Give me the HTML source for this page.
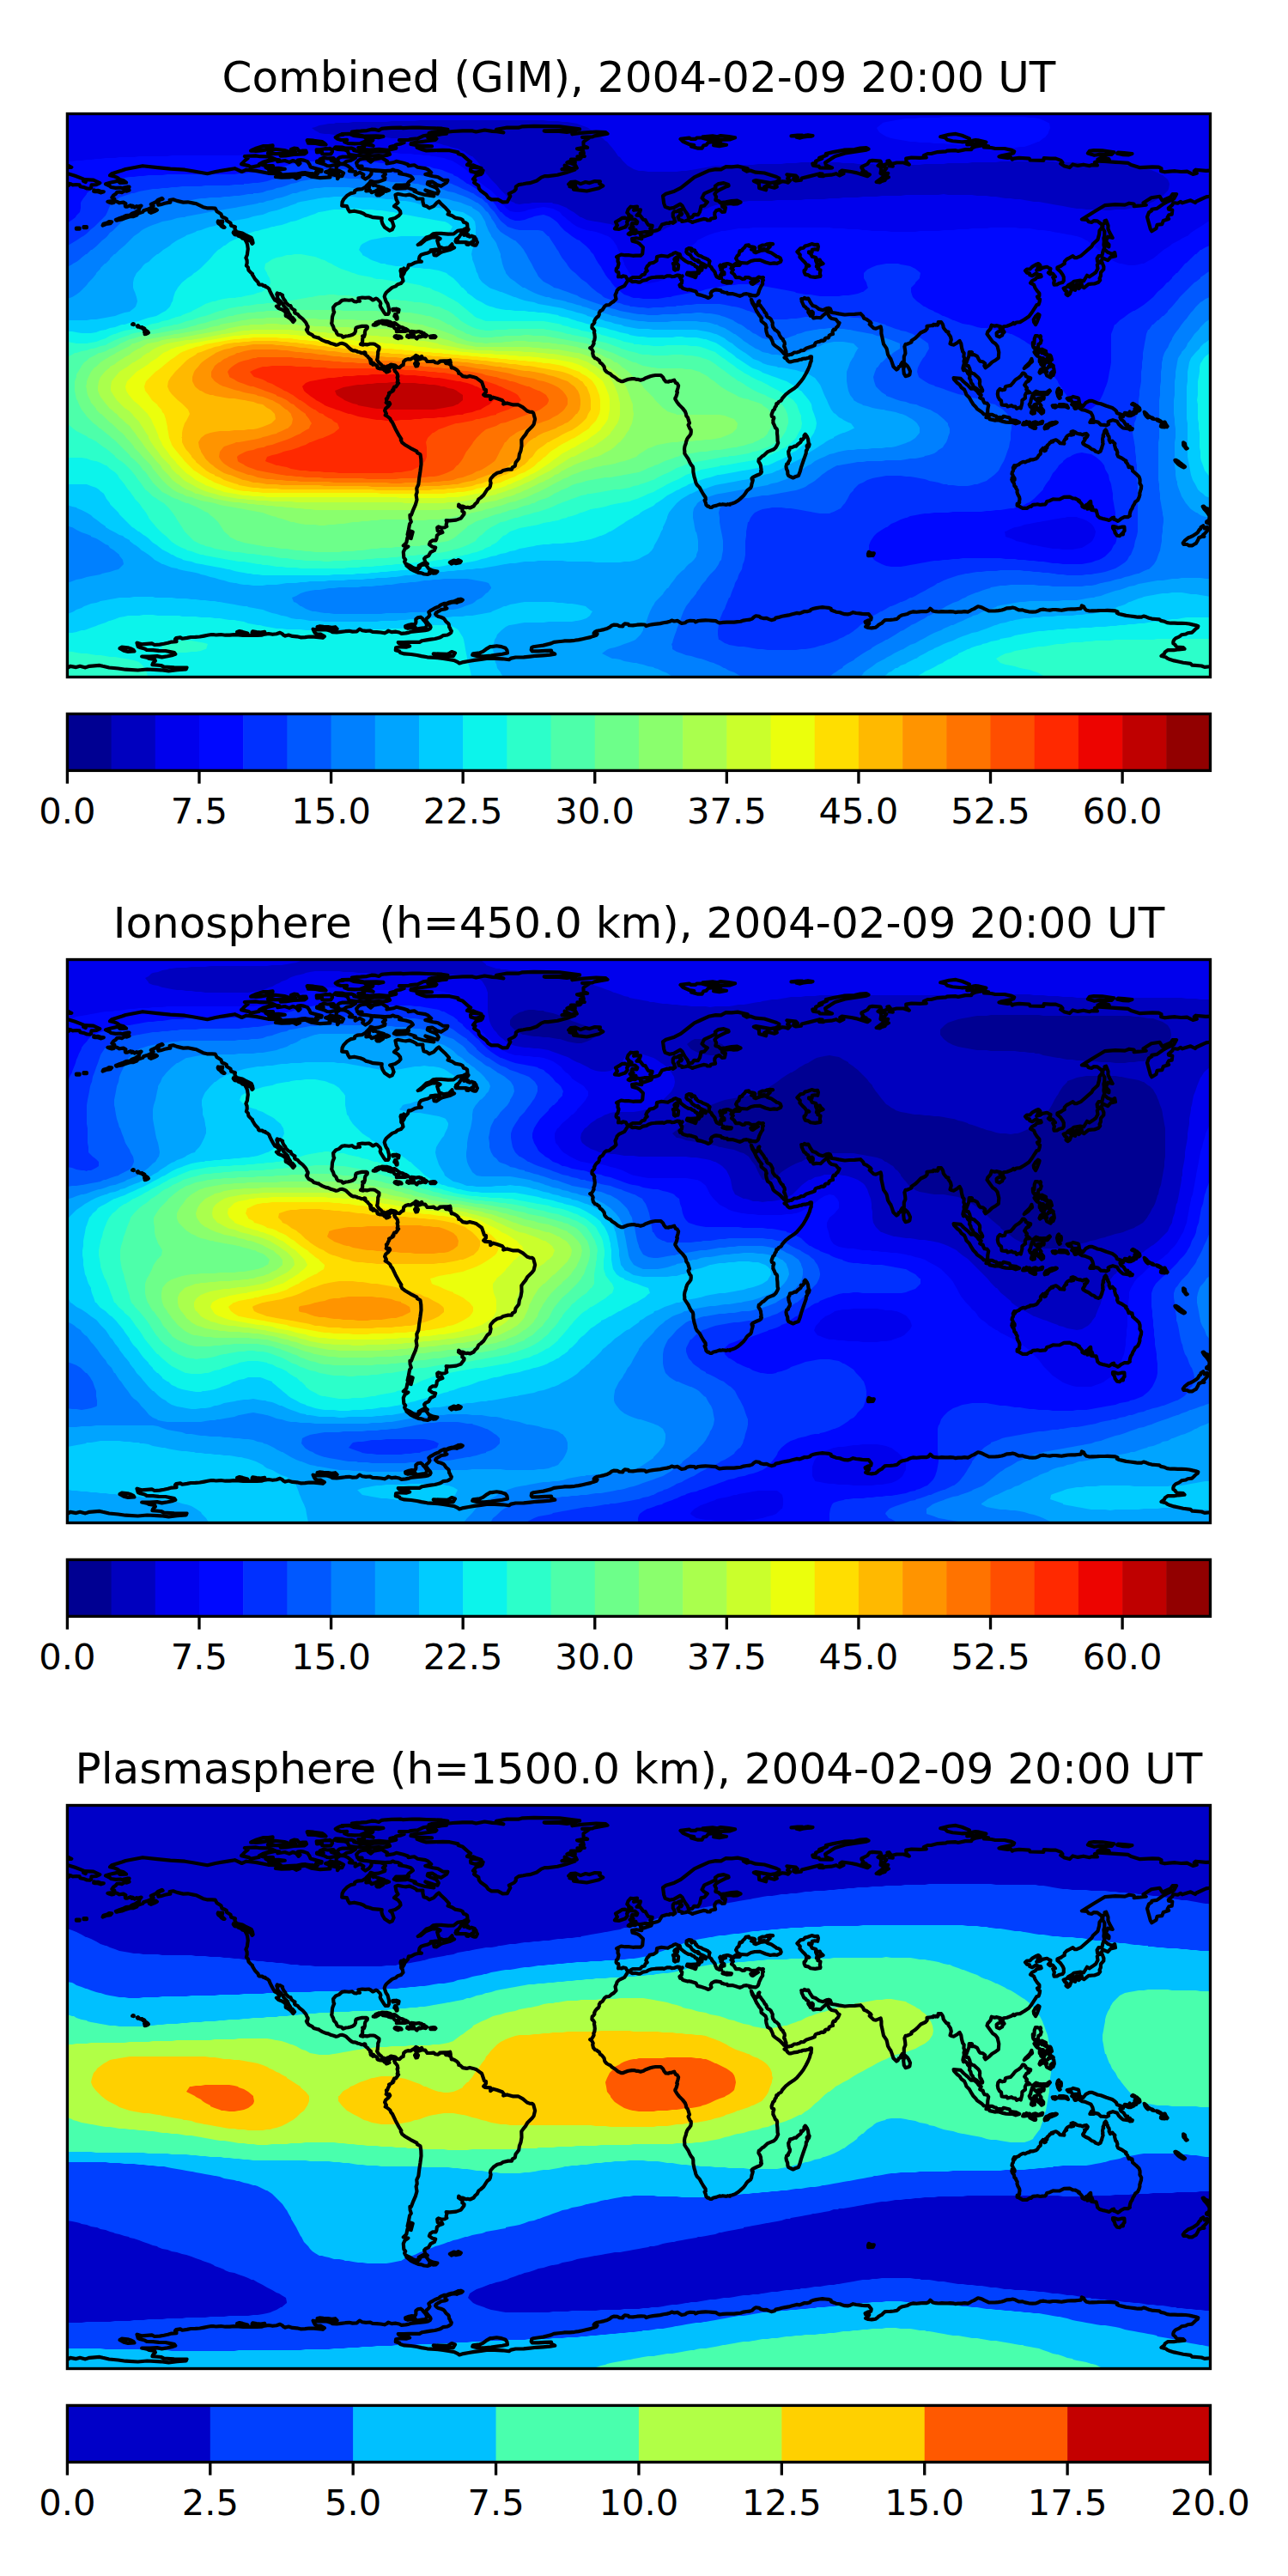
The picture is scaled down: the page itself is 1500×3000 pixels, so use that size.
<!DOCTYPE html>
<html lang="en"><head><meta charset="utf-8"><title>GIM maps</title>
<style>html,body{margin:0;padding:0;background:#fff}svg{display:block}text{font-family:'DejaVu Sans','Liberation Sans',sans-serif;fill:#000}</style></head>
<body>
<svg width="1500" height="3000" viewBox="0 0 1500 3000">
<rect width="1500" height="3000" fill="#fff"/>
<defs><clipPath id="cp0"><rect x="78.4" y="132.5" width="1331.10" height="656.00"/></clipPath>
<path id="coast" d="M130.1,202.2 142.1,198.5 146.3,197.0 166.1,193.2 183.4,195.1 198.4,196.6 215.3,197.7 224.6,199.2 241.5,202.2 250.9,200.0 266.6,197.4 273.4,196.2 281.6,200.0 286.9,197.7 297.8,198.9 312.4,201.8 321.4,202.2 326.2,204.1 321.0,206.0 327.7,206.7 337.9,206.3 341.2,205.6 345.0,207.8 349.1,206.0 345.4,204.5 355.1,202.6 362.2,205.6 372.7,207.1 384.4,206.3 383.6,204.1 387.0,203.3 393.0,204.8 393.0,208.2 395.2,205.2 398.2,205.2 400.1,201.5 396.0,199.2 391.5,197.7 391.9,193.6 396.4,191.0 401.2,191.4 405.0,193.2 410.2,197.4 406.9,199.2 414.0,200.0 413.6,203.7 418.9,200.7 423.4,203.3 422.2,206.0 425.6,208.6 429.7,206.0 432.4,202.6 432.7,198.5 438.0,198.9 443.6,199.2 448.5,201.1 448.9,203.0 445.9,205.2 448.5,207.1 448.1,209.0 441.0,211.6 435.7,212.0 431.6,210.8 430.5,212.7 427.1,216.1 426.0,217.6 421.5,220.2 416.2,220.6 413.2,222.1 412.9,224.3 408.7,225.1 403.9,228.1 400.1,232.2 398.6,235.2 398.2,239.7 403.9,240.1 405.4,243.8 407.2,246.5 412.5,245.7 419.6,247.2 423.4,248.7 426.0,250.6 430.5,251.7 434.6,253.2 440.6,253.6 444.7,254.0 444.4,257.0 445.5,260.7 448.1,264.8 453.7,268.6 456.7,267.4 458.6,263.3 456.7,257.7 454.1,255.5 460.1,254.0 464.2,251.3 466.5,248.7 466.1,246.1 463.5,242.7 459.0,240.1 463.5,236.0 461.6,232.6 460.5,227.0 463.1,225.8 469.5,227.0 473.2,227.3 476.6,226.6 480.0,227.7 484.5,230.0 485.6,231.5 492.4,231.5 492.4,234.8 493.5,239.3 496.9,240.1 499.9,242.3 505.1,240.1 508.9,236.0 511.1,234.5 514.1,237.8 519.0,242.3 523.1,246.8 521.6,249.5 526.5,251.3 529.9,253.6 535.9,254.7 538.5,255.8 540.0,258.8 542.6,259.6 544.1,260.7 544.5,265.2 541.9,266.3 539.2,267.8 532.9,268.9 528.4,272.3 522.0,272.7 513.7,271.9 508.1,271.9 504.4,272.3 501.4,274.9 496.5,276.4 491.2,281.7 486.7,285.1 489.7,284.3 495.7,279.4 503.6,276.4 509.2,276.1 512.6,277.9 509.2,280.2 510.4,284.3 511.5,287.3 516.4,289.2 522.7,288.4 526.5,284.3 526.9,286.9 529.1,288.4 524.6,290.7 516.0,292.9 512.6,294.4 508.1,297.4 505.5,297.1 505.1,293.7 511.9,290.7 505.9,290.7 501.7,291.4 502.1,292.6 498.4,294.4 494.2,295.6 490.5,296.7 488.6,298.9 487.9,301.9 489.0,303.8 490.9,304.6 486.7,304.9 483.7,305.7 478.5,308.3 475.9,308.3 475.1,311.7 472.5,314.7 470.2,312.4 471.7,315.1 470.6,318.1 468.7,321.1 469.5,318.4 467.6,316.9 467.0,313.7 466.5,315.4 467.2,318.4 467.2,321.8 468.7,323.5 469.5,327.2 466.9,330.1 463.1,331.2 460.7,333.4 456.7,334.9 452.2,338.7 450.0,340.5 448.5,342.8 447.7,345.4 448.5,348.0 449.6,351.0 451.5,353.7 453.0,359.7 453.0,363.8 451.9,366.0 448.9,366.0 447.0,363.4 443.2,357.4 442.7,355.9 443.4,353.5 442.5,351.4 439.5,348.4 438.0,347.7 434.2,349.5 431.6,347.5 429.4,346.5 425.2,346.9 421.9,346.5 417.4,347.3 418.1,349.9 418.9,350.7 416.6,350.7 415.1,351.4 412.5,351.2 409.9,349.2 406.5,349.7 401.6,349.2 398.2,349.9 394.9,352.9 391.1,354.4 388.1,357.8 388.5,362.3 389.2,363.4 387.7,366.8 387.0,369.4 386.6,374.7 386.2,376.5 387.0,378.4 388.1,380.3 388.9,383.3 391.5,385.9 392.2,388.2 393.7,390.0 397.9,390.8 399.4,392.7 402.7,391.5 405.4,391.2 408.4,390.4 410.6,389.7 412.9,388.2 414.0,385.9 414.2,382.9 414.7,381.8 417.4,380.7 421.5,379.9 426.9,379.9 427.9,380.7 427.7,382.3 425.6,384.4 424.9,387.0 424.9,389.3 424.1,391.9 423.0,391.2 422.2,391.5 423.0,392.7 422.2,394.5 422.2,396.4 422.1,398.7 420.0,400.9 423.0,401.6 423.7,400.9 427.5,401.4 430.9,400.5 434.6,400.5 436.9,401.1 439.2,402.7 441.5,404.3 441.4,406.9 440.2,409.6 440.2,412.3 439.9,414.4 439.7,416.9 439.1,418.9 440.6,421.5 442.1,423.0 444.0,424.6 445.1,426.8 447.0,426.7 448.1,427.6 449.8,427.3 451.5,426.4 453.7,425.6 455.0,424.5 457.1,424.9 459.0,425.2 460.6,425.8 463.3,428.0 465.4,428.1 468.0,425.6 469.6,425.1 470.2,420.8 472.5,419.0 475.1,418.1 478.1,418.5 481.1,416.6 482.6,415.7 484.3,413.9 486.7,415.1 485.8,417.2 483.5,417.8 484.9,419.4 484.7,421.3 483.1,423.5 484.5,426.5 486.1,426.2 487.0,423.5 485.8,422.3 485.6,419.4 490.3,417.8 489.7,416.1 491.1,414.9 492.4,417.5 495.1,417.6 497.6,421.0 501.0,421.0 505.1,420.6 507.1,422.3 510.0,422.7 512.2,421.5 512.2,420.6 516.8,420.4 521.3,420.4 518.1,421.4 519.4,423.2 522.4,423.5 525.2,425.3 525.8,428.3 527.8,428.3 529.3,429.1 531.7,430.5 534.1,433.0 534.2,434.9 535.6,435.0 537.6,436.8 539.0,438.1 543.5,438.9 547.0,437.9 551.0,438.9 555.0,440.3 559.1,443.4 561.0,444.8 561.8,446.8 564.0,453.4 566.0,454.0 566.0,456.6 563.2,459.7 564.4,460.8 571.1,461.4 571.2,465.2 574.1,462.7 578.7,464.0 585.0,466.3 586.8,468.5 586.2,470.6 590.6,469.4 597.8,471.4 603.4,471.3 609.0,474.4 613.8,478.5 616.7,479.6 619.8,479.8 621.2,481.0 622.5,485.8 623.1,488.0 621.6,494.2 619.7,496.7 614.4,501.9 612.0,506.1 609.3,509.4 607.3,512.2 607.5,519.2 606.5,525.0 604.9,529.0 604.2,534.0 600.5,538.8 599.8,542.7 596.8,544.4 595.9,546.6 591.8,546.6 585.9,548.0 583.3,549.7 579.1,550.8 574.7,553.8 571.5,557.5 570.9,560.2 571.6,562.4 570.9,566.2 570.0,568.0 567.4,570.0 563.2,576.6 559.9,579.6 557.4,581.4 555.7,585.0 553.2,587.1 551.6,589.5 547.3,591.5 544.6,590.8 542.6,591.2 539.1,589.6 536.6,589.7 534.2,587.6 534.0,589.6 538.7,592.8 538.3,595.4 540.6,597.0 540.4,598.8 536.8,603.6 531.2,605.6 523.7,606.4 519.6,606.1 520.4,608.2 519.6,611.1 520.3,613.0 518.0,614.3 514.2,614.8 510.6,613.4 509.2,614.4 509.7,618.2 512.2,619.3 514.3,618.1 515.4,620.0 511.9,621.2 508.9,623.6 508.4,627.3 507.5,629.3 504.0,629.3 501.0,631.3 499.9,634.1 503.6,636.8 507.2,637.6 505.9,640.9 501.5,643.1 499.0,647.4 495.6,648.9 494.1,650.7 495.3,654.6 497.8,656.7 492.7,656.0 487.7,658.8 487.1,662.3 485.5,662.4 481.3,661.2 477.0,658.6 472.3,656.4 471.1,654.0 472.2,651.8 470.3,649.4 469.8,642.9 471.4,639.3 475.4,636.5 469.7,635.4 473.3,632.0 474.5,625.8 478.7,627.1 480.7,619.4 478.1,618.4 477.0,623.1 474.6,622.5 475.8,617.2 477.1,610.2 478.8,607.7 477.7,604.0 477.4,599.8 479.0,599.7 481.3,593.6 483.9,587.6 485.5,582.0 484.6,576.4 485.7,573.3 485.3,568.7 487.4,564.1 488.2,556.9 489.4,549.1 490.5,540.7 490.3,534.6 489.5,529.3 485.7,527.1 485.4,525.6 478.0,521.8 471.2,517.7 468.3,515.4 466.8,512.3 467.4,511.3 464.2,506.3 460.5,499.4 457.0,492.0 455.4,490.2 454.3,487.5 451.3,485.0 448.7,483.5 449.9,481.8 448.1,478.3 449.2,475.6 452.2,473.2 454.2,470.5 453.4,468.8 452.0,470.6 449.7,468.9 450.5,467.9 449.9,464.5 451.2,463.9 451.9,461.6 453.3,459.2 453.0,457.6 455.1,456.8 457.6,455.3 457.1,454.2 458.5,453.9 458.4,452.0 459.2,450.6 461.1,450.4 462.7,448.0 464.1,446.1 462.7,445.2 463.4,443.0 462.6,439.6 463.4,438.6 462.8,435.4 461.3,433.4 460.1,432.4 459.2,430.3 460.2,429.3 459.2,429.1 458.5,427.8 456.7,426.8 455.0,427.0 454.3,428.3 452.8,429.3 451.6,430.2 453.4,432.2 452.3,432.7 450.0,433.4 449.4,431.2 447.7,431.6 446.9,430.1 445.4,429.8 444.4,429.4 442.8,429.4 440.2,428.8 439.4,428.0 439.7,426.6 438.7,425.7 437.2,424.9 435.9,424.4 435.7,423.4 434.7,422.7 434.9,423.8 434.2,424.7 433.3,423.7 432.1,423.3 431.6,422.5 431.6,421.4 432.1,420.2 431.1,419.6 431.9,418.9 430.6,417.8 428.9,416.2 428.1,415.0 426.5,413.8 424.6,412.1 425.7,412.1 425.3,410.6 424.2,410.3 423.7,411.2 421.6,411.2 420.2,410.8 418.6,410.0 416.6,409.8 415.5,409.0 413.6,408.4 411.3,408.3 409.5,407.5 407.5,406.0 403.3,401.9 401.3,400.7 398.3,399.8 396.2,400.0 393.2,401.5 391.3,401.8 388.6,400.8 385.8,400.1 382.3,398.4 379.5,397.9 375.3,396.1 372.1,394.3 371.2,393.3 369.1,393.1 365.2,391.9 363.7,390.2 359.7,388.1 357.8,385.7 356.9,383.9 358.1,383.5 357.7,382.5 358.6,381.5 358.6,380.2 357.4,378.5 357.0,377.0 355.8,375.1 352.5,371.4 348.7,368.5 346.9,366.2 343.6,364.6 343.0,363.7 343.5,361.4 341.6,360.5 339.4,358.7 338.5,356.1 336.4,355.8 334.3,353.8 332.5,352.0 332.4,350.8 330.3,348.0 329.0,345.1 329.1,343.7 326.4,342.2 325.1,342.3 322.9,341.3 322.3,342.8 323.0,344.6 323.4,347.4 324.6,349.0 327.4,351.6 328.0,352.4 329.1,354.0 330.5,356.4 331.6,357.3 332.5,358.7 334.8,360.6 336.1,364.1 337.2,365.7 338.2,367.4 338.4,369.4 340.2,369.5 341.7,371.2 343.1,372.9 341.4,375.0 339.7,372.7 337.3,370.5 334.6,368.7 332.7,367.8 332.8,365.0 332.2,363.0 330.4,361.8 327.9,360.2 326.4,359.7 324.1,358.8 321.9,356.6 323.7,356.5 325.1,355.1 325.3,353.4 322.4,350.7 320.2,349.7 318.8,347.4 317.4,344.9 315.7,341.9 314.1,338.5 313.5,336.6 311.1,334.5 309.3,334.0 308.9,332.9 306.8,332.8 305.5,331.7 302.0,331.4 301.1,330.8 300.6,328.7 297.0,325.0 293.8,319.7 294.0,318.9 292.3,317.6 289.4,314.5 288.9,311.4 286.9,309.4 287.7,306.3 287.6,303.1 286.4,300.2 287.9,296.7 288.3,293.2 288.8,289.9 288.1,284.8 286.9,281.6 285.8,279.9 286.2,279.1 291.7,280.4 293.7,283.9 294.6,283.0 294.0,279.9 292.7,276.8 285.0,273.1 282.3,271.5 275.5,270.0 273.4,266.6 273.9,264.3 269.1,262.7 268.5,259.7 264.0,257.0 263.9,255.1 261.8,253.7 258.5,252.5 257.4,249.2 252.6,246.2 250.6,242.6 247.0,242.4 241.0,242.3 236.6,241.2 228.9,237.3 225.3,236.6 218.7,235.3 213.5,235.6 206.1,233.9 201.7,232.3 197.6,233.1 198.3,235.7 196.2,235.9 191.9,236.7 188.6,237.9 184.4,238.7 183.9,236.6 185.6,232.9 189.6,231.7 188.6,230.8 183.8,232.9 181.2,235.4 175.8,238.0 178.6,239.9 175.0,242.5 171.0,244.1 167.2,245.3 166.3,246.9 160.4,248.9 159.3,250.6 154.9,252.2 152.3,251.9 148.8,253.0 145.0,254.3 141.9,255.5 135.4,256.6 134.9,255.9 139.0,254.2 142.6,253.0 146.6,251.0 151.3,250.5 153.1,249.0 158.3,246.8 159.2,246.0 161.9,244.7 162.6,241.8 164.5,239.6 160.2,240.8 158.9,240.1 156.9,241.5 154.5,239.6 153.5,240.9 152.0,239.1 148.3,240.6 146.0,240.6 145.7,238.3 146.4,237.0 143.9,235.6 139.1,236.3 135.9,234.6 133.3,233.7 133.3,231.6 130.4,230.0 131.9,227.8 134.9,225.7 136.3,223.8 139.3,223.5 141.9,224.1 144.9,222.3 147.7,222.6 150.5,221.5 149.8,219.8 147.7,219.1 150.5,217.6 148.2,217.7 144.2,218.5 143.0,219.3 140.1,218.5 134.8,218.9 129.3,218.0 127.7,216.5 123.0,214.3 128.2,212.8 136.6,210.9 139.7,210.9 139.2,212.8 147.1,212.6 144.1,210.3 139.4,208.9 136.8,207.0 133.2,205.4 128.0,204.2ZM578.0,150.8 590.6,148.5 603.7,148.7 608.5,147.3 621.8,146.9 651.7,147.4 675.1,150.4 668.2,151.8 653.9,152.0 633.7,152.4 635.6,153.0 648.9,152.6 660.2,153.9 667.5,152.8 670.6,154.1 666.4,156.3 676.0,154.9 694.2,153.5 705.4,154.2 707.5,155.8 692.2,158.4 690.1,159.3 678.1,159.9 686.8,160.1 682.5,162.9 679.5,165.3 679.6,169.5 684.1,171.9 678.2,172.1 672.0,173.2 679.0,175.2 679.8,178.4 675.8,178.8 680.7,182.0 672.4,182.3 676.7,183.8 675.5,185.1 670.2,185.7 664.9,185.7 669.7,188.2 669.7,189.9 662.3,188.4 660.4,189.4 665.4,190.3 670.3,192.6 671.8,195.6 665.1,196.3 662.2,194.9 657.6,192.7 658.8,195.3 654.5,197.2 664.3,197.4 669.5,197.6 659.5,200.9 649.3,203.8 638.3,205.1 634.2,205.1 630.3,206.6 625.1,210.5 617.0,213.2 614.4,213.3 609.4,214.3 604.1,215.1 600.8,217.4 600.8,220.1 598.9,222.5 592.8,225.5 594.3,228.5 592.6,231.6 590.7,235.2 585.4,235.4 579.9,232.4 572.4,232.4 568.7,230.3 566.2,226.7 559.7,222.0 557.8,219.5 557.3,216.2 552.1,212.7 553.5,209.9 551.0,208.6 554.7,204.2 560.3,202.9 561.8,201.3 562.6,198.4 558.3,199.7 556.2,200.2 552.9,200.8 548.3,199.6 548.0,197.0 549.5,195.0 553.0,195.0 560.6,196.0 554.2,193.6 550.8,192.3 547.1,192.8 544.0,191.9 548.1,188.4 545.9,187.0 542.9,184.4 538.4,180.4 533.6,179.0 533.6,177.4 523.6,175.2 515.6,174.9 505.6,175.1 496.5,175.4 492.1,174.2 485.6,171.8 495.4,170.7 503.0,170.4 487.0,169.5 478.5,168.0 479.0,166.5 493.2,164.7 506.9,162.9 508.4,161.5 498.3,160.2 501.5,158.7 514.5,156.1 520.0,155.7 518.4,154.0 527.3,153.0 538.8,152.4 550.4,152.4 554.4,153.5 564.4,151.5 573.3,152.9 578.6,153.2 586.4,154.4 577.5,152.4ZM698.9,211.4 698.1,213.8 702.3,216.4 697.4,219.2 686.6,221.8 683.4,222.5 678.4,221.9 668.0,220.7 671.7,219.1 663.5,217.3 670.2,216.5 670.0,215.4 662.1,214.6 664.6,212.1 670.3,211.6 676.2,214.1 681.9,212.0 686.6,213.1 692.7,211.1ZM428.8,186.3 431.7,188.6 435.2,185.6 444.7,184.0 451.1,187.9 450.5,190.4 458.0,189.3 461.5,187.8 469.8,189.7 475.0,191.5 475.5,193.1 482.5,192.3 486.4,194.7 495.4,196.1 498.7,197.7 502.2,201.1 495.3,202.9 504.2,205.3 510.1,206.2 515.5,209.6 521.4,209.9 520.3,212.5 513.7,216.8 509.0,215.2 503.2,211.6 498.3,212.1 497.8,214.3 501.8,216.4 506.9,218.2 508.4,219.2 510.8,222.9 509.6,225.6 504.8,224.5 495.4,221.5 500.7,224.8 504.6,227.0 505.2,228.4 495.1,226.9 487.0,224.7 482.5,222.8 483.8,221.8 478.2,219.9 472.7,218.0 472.8,219.1 461.9,219.7 458.8,218.5 461.2,215.7 468.3,215.6 476.0,215.2 474.8,213.8 476.1,211.9 480.9,208.3 479.9,206.6 478.4,205.3 472.7,203.5 465.1,202.3 467.5,201.3 463.5,199.0 460.2,198.7 457.3,197.5 455.3,198.6 448.4,199.1 434.8,198.2 426.9,197.1 420.8,196.6 417.7,195.3 421.6,193.5 416.3,193.5 415.1,189.7 418.0,186.4 421.8,184.8 431.5,183.9ZM377.0,183.7 381.5,184.5 388.2,184.0 389.2,185.1 385.7,186.9 391.3,188.5 390.7,191.9 384.5,193.3 380.9,193.0 378.3,191.6 369.0,188.7 369.1,187.5 376.7,187.9 372.6,185.5ZM305.6,192.3 308.8,189.4 311.4,187.9 321.4,185.7 325.2,186.4 323.4,188.2 331.7,187.0 336.9,188.9 341.2,187.0 344.6,188.2 347.7,191.9 349.5,190.3 346.9,186.5 350.2,186.0 353.9,186.6 358.1,188.1 360.5,191.7 361.6,194.4 367.9,196.2 374.7,198.0 374.3,199.7 368.1,200.0 370.5,201.4 369.3,202.8 362.5,202.2 356.0,201.2 351.7,201.4 344.6,202.7 335.1,203.2 328.5,203.6 326.4,201.8 321.3,200.8 318.0,201.2 313.3,198.3 315.9,197.8 321.6,197.2 326.9,197.4 331.8,196.7 324.6,195.9 316.5,196.2 311.3,196.1 309.3,194.7 318.0,193.2 312.2,193.2ZM281.1,191.1 282.8,189.5 285.3,186.8 288.6,184.3 284.9,182.0 297.6,181.4 303.0,182.2 312.5,182.4 316.2,183.5 320.2,185.1 315.5,186.0 306.3,188.7 301.7,191.3 301.7,192.9 291.8,194.7 289.8,193.1ZM521.4,150.8 521.3,151.8 512.1,153.4 503.0,154.1 499.6,155.0 507.8,155.0 499.0,157.2 492.8,158.3 486.4,161.4 478.7,162.0 476.3,162.8 464.9,163.2 470.1,163.6 467.5,164.3 470.6,166.1 467.1,167.4 461.3,168.5 459.5,169.9 454.3,171.1 454.8,171.9 461.2,171.8 461.3,172.7 451.3,174.9 441.5,173.9 430.4,174.5 424.9,174.0 417.8,173.8 417.3,172.0 424.2,171.2 422.4,168.5 424.7,168.2 434.7,169.8 429.6,167.4 423.5,166.7 426.6,165.3 433.2,164.4 434.3,163.1 429.0,161.6 427.4,159.7 437.6,159.8 440.6,160.2 446.4,158.9 438.0,158.4 424.9,158.7 418.2,157.4 415.1,155.9 410.7,154.8 409.9,153.5 415.5,152.8 419.9,152.7 427.2,152.1 432.7,150.7 437.4,150.9 441.4,151.9 444.3,149.9 449.2,149.3 455.9,148.9 467.4,148.7 469.4,149.1 480.2,148.5 488.3,148.7 496.5,149.0 506.5,149.3 514.6,149.7ZM406.8,180.0 405.5,177.9 405.0,176.1 401.3,174.4 393.5,174.0 389.2,172.8 390.6,171.3 398.3,171.5 402.5,172.7 409.8,172.7 413.1,173.9 412.2,175.3 416.5,176.2 418.9,177.1 424.0,177.2 429.4,177.6 435.4,176.7 443.0,176.4 449.1,176.7 453.1,178.1 454.0,179.7 451.6,180.6 446.0,181.5 441.2,181.0 430.5,181.6 422.8,181.6 416.8,181.2ZM434.0,214.4 434.7,216.0 436.6,215.5 438.8,216.4 442.9,217.7 447.2,218.9 447.5,220.7 450.3,220.4 453.0,221.6 449.6,222.8 443.8,221.9 441.7,220.2 438.0,222.2 432.7,224.2 431.3,221.9 426.3,222.3 429.6,220.4 430.0,217.5 431.3,214.1ZM342.4,172.6 346.3,173.1 347.6,174.9 349.0,176.2 352.4,175.6 356.3,175.7 357.0,177.6 354.7,179.3 342.0,179.9 332.5,181.5 326.8,181.6 326.4,180.4 334.2,178.8 317.2,179.2 312.0,178.5 317.1,174.9 320.6,173.8 331.2,175.1 337.8,177.3 344.4,177.6 339.0,174.0ZM427.0,161.9 431.6,163.1 426.4,164.2 419.5,167.0 412.9,167.3 405.1,166.8 401.1,165.3 401.1,164.0 404.1,162.9 397.2,163.0 393.1,161.7 390.7,160.0 393.3,158.4 395.9,157.2 399.7,156.9 398.1,156.1 406.8,155.9 411.6,157.9 417.9,158.7 424.1,159.4ZM403.9,187.7 399.9,190.5 395.6,190.4 393.3,187.1 393.3,185.2 395.2,183.6 399.0,182.6 406.8,182.7 414.0,183.6 408.4,187.0ZM384.0,172.9 386.8,174.6 387.0,176.6 385.3,179.4 379.1,179.7 375.1,179.1 375.1,177.0 369.0,177.3 368.7,174.3 372.8,174.4 378.4,173.2 383.7,173.4ZM394.7,201.4 392.4,202.7 387.3,201.6 384.3,202.0 379.1,200.3 382.4,199.2 385.0,197.6 389.0,198.6 391.3,199.3ZM441.0,224.7 446.2,224.7 441.8,227.5 439.2,227.4 438.4,226.4ZM357.7,163.2 365.2,163.7 375.4,165.1 378.0,167.0 379.5,168.5 373.5,168.1 367.5,167.0 358.9,166.6 362.6,165.5 358.1,164.7ZM292.1,175.6 303.8,175.4 314.2,173.6 310.9,173.8 303.8,175.4 297.8,176.0 292.7,175.2 298.9,172.4 306.8,170.0 312.4,170.0 317.6,169.4 317.2,172.3 314.2,173.6M542.9,270.5 540.4,273.8 542.8,272.5 545.3,273.3 544.0,274.6 547.3,275.7 549.1,274.7 552.8,275.9 551.6,278.6 554.3,278.0 554.7,280.0 555.9,282.3 554.3,285.6 552.6,285.7 550.2,285.0 551.0,282.0 549.9,281.5 545.6,284.8 543.4,284.6 546.0,282.9 542.4,282.0 538.4,282.2 531.1,282.1 530.5,280.9 532.9,279.6 531.2,278.6 534.4,276.3 538.3,270.4 540.6,268.2 543.8,267.0 545.6,267.1 544.9,268.1ZM290.2,278.7 288.3,279.2 282.2,277.5 281.1,276.1 277.7,274.8 277.0,273.8 273.2,273.1 271.7,271.0 272.0,270.2 276.0,271.0 278.3,271.6 281.8,271.9 283.1,273.3 284.9,275.0 288.7,276.6ZM255.7,257.9 259.3,257.6 258.2,261.9 261.5,264.9 260.0,264.9 257.7,263.2 256.3,261.5 254.4,260.3 253.7,258.6 254.0,257.4ZM179.6,246.4 175.9,247.8 173.9,246.9 173.4,245.1 176.8,243.8 178.8,243.2 181.3,243.5 182.9,244.6ZM109.4,221.4 111.7,222.1 114.1,221.8 117.1,222.7 120.8,223.2 117.7,224.4 114.8,223.6 113.4,222.9 110.1,223.1 109.2,222.8ZM132.5,235.9 130.2,236.5 127.7,235.8 125.4,234.8 129.1,234.2 132.1,234.5ZM170.1,389.0 168.6,389.1 168.7,388.0 168.1,386.7 169.0,385.6 168.9,384.5 170.6,385.2 171.9,386.1 172.9,387.4 171.3,388.4ZM168.1,383.1 166.9,383.4 165.8,382.3 167.4,382.1 168.4,382.7ZM165.5,381.1 163.4,381.4ZM162.2,380.6 160.4,380.6 159.8,379.6 160.8,379.1ZM155.8,378.1 154.1,377.8 154.9,377.1 155.8,377.2ZM444.8,373.6 448.1,373.8 451.0,373.9 454.6,375.1 456.1,376.5 459.5,376.1 460.9,377.0 464.0,379.3 466.4,381.0 467.6,381.0 469.9,381.7 469.6,382.8 472.4,382.9 475.2,384.5 474.7,385.3 472.3,385.8 469.7,386.0 467.2,385.7 461.8,386.1 464.3,384.0 462.8,383.0 460.3,382.8 459.1,381.7 458.2,379.5 456.1,379.7 452.5,378.7 451.4,377.9 446.5,377.3 445.2,376.6 446.6,375.6 442.9,375.4 440.3,377.4 438.7,377.5 438.2,378.4 436.3,378.8 434.7,378.4 436.7,377.3 437.5,375.9 439.2,375.1 441.1,374.4 443.9,374.0ZM478.9,385.8 481.2,386.0 484.4,386.6 487.8,386.0 490.1,387.0 491.0,386.8 491.7,388.2 493.8,388.1 493.7,389.2 495.3,389.4 497.2,390.7 495.8,392.2 494.0,391.5 492.3,391.6 491.0,391.4 490.4,392.1 488.9,392.4 488.3,391.4 487.1,392.0 485.6,394.5 484.6,393.9 484.4,392.9 482.0,392.2 480.2,392.5 477.9,392.2 476.2,392.9 474.1,391.8 474.5,390.6 477.9,391.0 480.8,391.3 482.1,390.5 480.4,388.9 480.4,387.5 478.0,386.9ZM462.5,391.2 465.0,391.5 467.0,392.4 467.6,393.4 465.0,393.5 463.8,394.2 461.7,393.6 459.6,392.2 460.0,391.3 461.6,391.1ZM504.8,391.1 506.7,391.4 507.4,392.2 506.4,393.1 503.6,393.1 501.4,393.2 501.2,391.6ZM462.6,371.4 461.7,371.6 460.7,369.4 459.3,368.4 460.1,366.0 461.3,366.2 462.6,369.3ZM461.5,360.9 457.4,361.5 457.2,360.1 458.9,359.8 461.4,359.9ZM464.6,360.8 464.0,363.5 463.3,363.0 463.3,361.1 461.6,359.6ZM522.1,420.2 524.2,419.7 524.8,422.6 521.7,423.0 522.1,421.6ZM523.9,654.9 528.4,652.6 531.5,653.6 533.8,652.1 536.8,653.7 535.7,655.1 530.6,656.2 528.9,654.9 525.7,656.6ZM496.0,657.8 497.4,659.6 499.3,662.4 504.2,664.6 509.4,665.6 507.7,667.4 504.2,667.6 502.3,666.3 500.0,666.2 501.0,667.8 497.8,669.0 496.0,668.8 493.7,668.5 491.0,667.4 487.1,666.9 482.4,664.8 478.5,662.8 473.4,658.6 476.5,659.4 481.7,661.9 486.7,663.2 488.6,661.5 489.8,658.9 493.3,657.4ZM859.1,193.6 870.7,196.2 865.8,197.4 869.9,199.6 873.7,198.5 880.1,200.7 890.2,201.5 904.4,206.0 907.4,207.5 907.4,210.1 903.3,212.0 897.3,213.1 880.4,210.1 877.8,210.8 883.8,213.5 884.2,219.1 892.1,221.3 892.4,219.5 890.2,217.6 892.8,216.5 901.8,218.7 904.8,217.6 902.6,215.0 911.2,211.2 914.6,211.6 917.9,212.7 920.2,210.1 917.2,207.8 919.1,205.6 916.4,203.3 926.9,204.5 928.8,206.7 924.3,207.1 924.3,209.3 926.9,210.5 932.9,209.7 933.7,207.5 941.6,205.6 954.7,202.2 957.7,202.6 953.9,204.8 958.4,205.2 961.1,204.1 968.2,203.7 973.8,202.2 977.9,204.5 982.4,202.2 978.3,200.0 980.6,198.5 991.4,200.0 996.7,201.1 1010.2,205.2 1012.8,203.3 1009.1,201.5 1008.7,200.3 1004.2,200.0 1005.7,198.5 1003.4,195.5 1003.4,194.4 1010.2,191.0 1012.8,187.6 1015.4,186.9 1025.5,187.6 1026.3,189.9 1022.5,192.9 1025.2,194.0 1026.3,196.6 1025.5,201.8 1029.7,204.1 1027.8,206.7 1020.7,212.0 1024.8,212.3 1026.3,211.2 1030.4,210.1 1031.5,208.2 1034.9,206.3 1032.7,204.5 1034.2,201.8 1030.0,201.5 1029.3,199.6 1032.3,195.9 1027.4,192.9 1034.2,190.2 1033.4,187.6 1035.3,187.2 1037.2,189.5 1035.7,193.2 1039.8,193.6 1037.9,191.0 1044.3,189.5 1052.2,189.5 1058.9,191.7 1055.5,188.4 1055.2,184.6 1061.5,183.5 1070.9,183.9 1078.8,183.5 1075.8,181.2 1080.3,179.0 1084.4,179.0 1091.9,177.1 1101.7,176.4 1102.8,175.6 1112.9,175.2 1115.9,176.0 1124.2,174.1 1131.3,174.1 1132.0,172.2 1135.8,170.7 1144.8,169.2 1151.2,170.4 1145.9,171.5 1154.5,172.0 1159.0,173.0 1169.9,173.0 1178.2,174.9 1181.2,176.4 1180.4,178.2 1176.3,179.4 1166.5,181.2 1163.5,182.4 1168.0,183.1 1173.7,183.9 1177.0,183.1 1178.9,185.7 1180.8,184.6 1186.8,183.9 1198.8,184.6 1199.5,186.5 1215.3,186.9 1215.7,184.2 1223.5,184.6 1229.5,184.6 1235.5,186.9 1237.4,189.1 1235.2,190.6 1239.7,193.6 1245.7,195.1 1249.4,191.4 1255.4,192.9 1261.8,191.7 1268.9,193.2 1271.5,192.1 1277.9,192.5 1274.9,189.1 1280.1,187.6 1313.9,189.9 1317.3,192.1 1326.9,195.1 1342.0,194.4 1349.5,194.7 1352.5,196.2 1352.1,199.2 1356.6,200.3 1361.9,199.6 1368.6,199.2 1375.4,200.0 1382.5,199.6 1389.3,203.0 1393.8,201.8 1390.8,199.2 1392.6,197.7 1404.3,198.9 1412.1,198.5 1423.0,200.3 1428.3,202.0M78.4,202.0 87.4,204.8 97.5,208.6 97.1,210.8 99.8,212.0 98.6,209.1 108.8,209.7 116.3,213.1 112.5,215.0 106.5,215.3 106.1,218.7 104.6,219.7 101.3,219.5 98.5,218.3 93.4,217.2 92.6,215.3 88.9,215.0 84.4,215.3 82.5,214.2 78.8,213.5 80.6,215.3 78.4,216.9M1428.3,216.9 1423.4,218.7 1418.5,218.3 1421.9,220.2 1424.1,223.4 1426.0,224.4 1426.4,226.0 1425.3,227.0 1418.5,226.2 1408.0,228.8 1404.6,229.4 1398.8,232.0 1393.4,234.5 1391.9,236.0 1386.6,233.3 1376.9,236.3 1375.0,234.8 1371.6,236.7 1366.4,236.0 1365.3,238.6 1360.8,242.3 1361.0,243.8 1365.3,244.6 1364.7,249.8 1361.3,250.2 1359.6,253.2 1361.1,254.9 1354.8,257.0 1353.3,261.1 1347.6,261.8 1346.5,266.0 1341.3,269.3 1339.8,266.7 1338.3,261.1 1336.0,252.8 1337.9,247.6 1341.3,245.3 1341.3,243.8 1347.3,242.9 1353.8,238.2 1360.4,234.5 1367.1,231.5 1370.1,226.0 1365.5,226.2 1363.2,229.4 1353.6,233.7 1350.6,228.8 1340.9,230.3 1331.5,236.3 1334.7,238.8 1326.3,239.7 1320.6,240.1 1320.6,237.5 1315.0,236.7 1310.1,238.6 1298.9,238.2 1286.5,239.2 1274.4,246.5 1259.9,255.5 1265.9,255.8 1267.8,258.2 1271.5,259.0 1273.8,257.1 1277.9,257.3 1283.3,261.5 1283.5,264.8 1280.5,268.6 1280.1,272.9 1278.5,278.9 1272.8,284.3 1271.5,286.9 1259.1,297.8 1253.9,300.1 1251.6,300.1 1249.4,298.2 1244.2,301.0 1242.3,301.9 1239.7,304.6 1239.7,307.2 1237.8,308.1 1235.5,309.8 1231.4,311.5 1231.4,313.2 1232.5,314.1 1234.6,315.8 1237.8,320.3 1238.8,322.6 1238.8,327.1 1237.4,329.0 1234.0,329.7 1231.0,331.3 1227.6,331.6 1227.2,329.6 1227.9,326.8 1226.2,322.8 1229.0,322.2 1226.4,319.0 1224.6,318.3 1223.1,319.3 1220.9,317.6 1222.9,315.5 1223.5,312.8 1221.1,311.8 1219.3,310.8 1214.0,311.9 1211.3,313.7 1207.2,314.7 1209.2,313.0 1208.5,311.5 1211.4,309.0 1209.4,307.0 1206.2,308.3 1201.9,310.9 1199.6,313.4 1195.9,313.6 1194.0,315.3 1196.0,317.8 1199.1,318.4 1199.2,320.1 1202.2,321.2 1206.4,318.5 1209.7,320.0 1212.1,320.1 1212.7,322.1 1207.4,323.1 1205.7,325.1 1202.0,327.0 1200.1,329.6 1204.1,331.7 1205.6,335.4 1207.9,338.8 1210.4,341.7 1210.4,344.5 1208.0,345.5 1208.9,347.5 1211.1,348.7 1210.6,351.7 1209.6,354.7 1207.5,355.0 1204.8,359.1 1201.7,364.0 1198.3,368.5 1193.1,372.0 1187.9,375.1 1183.6,375.5 1181.3,377.2 1180.1,376.0 1177.9,377.8 1172.7,379.7 1168.7,380.3 1167.4,384.3 1165.4,384.5 1164.4,381.7 1165.3,380.3 1160.2,379.1 1158.5,379.7 1154.7,378.7 1153.5,382.9 1150.3,386.5 1149.5,389.1 1152.4,393.0 1155.9,397.9 1159.3,400.2 1161.6,403.2 1163.3,410.2 1162.8,416.8 1159.7,419.2 1155.4,421.7 1152.3,424.8 1147.6,428.3 1146.3,425.9 1147.3,423.3 1144.5,421.2 1141.4,420.7 1139.9,418.7 1138.0,414.8 1134.6,413.1 1131.4,413.2 1132.0,410.2 1128.7,410.2 1128.4,414.4 1126.3,419.8 1125.1,423.2 1125.4,425.9 1127.8,426.0 1129.3,429.4 1130.0,432.7 1132.1,434.8 1134.4,435.2 1136.3,437.2 1139.4,439.8 1141.0,442.3 1141.2,444.8 1140.8,446.5 1141.1,447.8 1141.4,450.0 1142.7,451.1 1144.2,454.4 1144.1,455.7 1141.5,455.9 1137.9,453.1 1133.5,450.2 1133.0,448.2 1130.9,445.7 1130.4,442.6 1129.0,440.6 1129.5,437.9 1128.6,436.3 1127.1,434.8 1126.5,433.0 1124.5,430.9 1122.7,429.1 1122.1,431.3 1121.4,429.2 1121.8,426.9 1122.9,423.3 1122.5,420.5 1123.6,417.6 1122.4,415.4 1122.7,411.3 1121.2,409.4 1120.0,404.9 1119.3,400.2 1117.6,397.0 1115.2,398.9 1110.9,401.6 1108.8,401.3 1106.5,400.4 1107.8,395.7 1107.0,392.2 1104.1,387.9 1104.5,386.5 1102.3,386.1 1099.7,383.0 1098.6,381.1 1098.4,379.2 1097.7,377.4 1096.1,375.1 1092.7,375.0 1093.0,376.6 1091.8,378.6 1090.2,377.9 1089.7,378.6 1088.6,378.1 1087.2,377.8 1086.6,379.2 1084.1,379.2 1079.5,379.9 1079.7,382.8 1077.7,385.0 1072.3,387.5 1068.1,391.9 1065.3,394.3 1061.5,396.7 1061.5,398.4 1059.6,399.4 1056.3,400.7 1054.5,400.9 1053.4,403.7 1054.2,408.6 1054.4,411.7 1052.8,415.3 1052.8,421.7 1050.8,421.9 1049.1,424.7 1050.3,425.9 1046.8,427.0 1045.6,429.6 1044.1,430.6 1040.5,427.1 1038.8,421.9 1037.4,418.1 1036.0,416.3 1034.0,412.7 1033.1,408.1 1032.4,405.7 1029.0,400.6 1027.5,393.3 1026.4,388.5 1026.4,384.0 1025.7,380.4 1020.2,382.7 1017.6,382.2 1012.7,377.7 1014.5,376.3 1013.4,374.9 1009.0,371.7 1006.2,370.8 1005.1,368.1 1002.2,365.2 995.3,365.9 989.2,366.0 983.9,366.5 976.9,365.4 972.8,364.5 968.6,364.0 966.9,359.4 965.1,358.8 962.3,359.4 958.5,361.2 953.9,360.0 950.1,357.1 946.5,356.0 944.0,352.5 941.3,347.5 939.2,348.1 936.8,346.8 935.4,348.3 933.2,348.1 934.0,349.8 933.6,350.6 934.9,353.5 936.3,356.7 938.2,357.6 938.8,358.9 941.4,360.5 941.6,362.0 941.2,363.3 941.7,364.5 942.8,365.6 943.3,366.8 943.8,367.7 943.6,365.0 944.6,363.0 945.6,362.6 946.8,363.8 946.8,366.0 946.0,368.2 946.7,369.6 947.5,370.5 950.5,369.9 953.6,370.0 955.8,370.1 958.4,367.5 961.2,365.1 963.6,362.8 964.7,361.5 964.8,363.4 964.3,364.1 964.8,367.1 966.5,369.6 968.6,371.0 971.3,371.5 973.5,372.1 975.2,374.3 976.2,375.6 977.6,376.0 976.2,379.1 975.6,380.2 974.0,381.4 972.6,383.9 970.9,383.7 970.2,384.6 969.6,386.5 970.0,389.0 967.9,389.5 965.6,390.9 965.2,392.7 964.4,393.5 962.0,393.5 960.6,394.4 960.6,395.9 958.8,397.0 956.7,396.6 954.2,397.9 952.5,398.1 949.8,399.1 949.0,400.7 948.9,402.0 945.2,403.6 939.2,405.4 935.9,408.0 934.2,408.2 933.1,408.0 930.9,409.6 928.5,410.3 925.4,410.5 924.4,410.7 923.6,411.7 922.6,412.0 922.0,412.9 920.1,412.8 919.0,413.3 916.4,413.1 915.4,410.9 915.5,408.9 914.9,407.8 914.1,405.0 913.1,403.5 913.4,401.6 913.9,400.9 913.7,399.2 913.2,397.6 912.1,396.5 911.8,395.0 909.9,393.7 907.9,390.5 906.8,387.4 904.2,384.9 902.6,384.3 900.1,380.7 899.6,378.1 899.8,375.9 897.7,371.7 895.9,370.2 893.9,369.4 892.6,367.3 892.9,366.5 891.8,364.5 890.7,363.7 889.3,360.9 887.0,357.9 885.1,355.3 883.2,355.3 883.8,353.3 883.9,351.9 884.4,350.4 883.2,351.4 882.4,354.3 881.4,356.2 880.5,356.9 879.3,355.7 877.6,354.0 874.9,348.6 876.1,352.9 878.4,356.7 881.2,362.5 882.6,364.5 883.8,366.7 887.2,370.8 886.4,371.5 886.6,373.9 890.9,377.3 891.6,378.0 892.8,381.7 892.0,382.4 892.5,386.2 893.9,390.7 895.3,391.6 897.4,393.0 899.5,397.4 900.6,400.8 902.6,402.6 907.7,406.2 909.8,408.3 911.9,410.5 913.0,411.8 914.9,412.9 915.8,414.1 915.6,415.6 913.5,416.5 915.1,417.5 916.3,418.2 917.1,419.8 918.8,421.3 920.6,421.4 924.2,420.4 928.2,419.9 931.5,418.8 933.4,418.6 934.7,417.8 936.9,417.7 938.1,417.7 939.8,417.1 941.8,416.7 943.5,415.4 945.0,415.4 945.0,416.5 944.7,418.6 944.7,420.6 943.9,422.0 942.9,426.0 941.1,430.2 938.7,435.0 935.5,440.5 932.3,444.7 927.9,449.8 924.2,452.8 918.6,456.6 915.1,459.4 911.0,464.0 910.1,465.9 909.3,466.8 906.6,468.3 905.7,469.9 904.3,470.1 903.8,472.8 902.6,474.3 901.8,476.8 900.3,478.0 898.6,482.7 898.8,484.8 901.2,486.1 901.3,487.1 900.3,489.4 900.5,490.5 900.3,492.3 901.6,494.7 903.1,498.4 904.5,499.2 905.1,500.9 905.0,504.6 905.4,507.9 905.6,513.7 906.2,515.6 905.1,518.3 903.6,520.9 901.2,523.2 897.8,524.6 893.6,526.4 889.4,530.5 887.9,531.1 885.3,533.8 883.8,534.6 883.4,537.3 885.2,540.2 886.0,542.4 886.0,543.5 886.6,547.0 886.0,548.7 886.9,549.4 886.3,550.9 884.7,552.3 881.6,553.5 877.1,555.6 875.5,557.0 875.8,558.5 876.8,558.8 876.4,560.7 875.5,563.5 875.0,566.6 874.1,568.3 871.5,570.2 870.8,570.7 869.2,572.6 868.1,574.5 866.0,577.2 861.8,581.1 859.1,583.3 856.3,585.1 852.4,586.5 850.5,586.7 850.0,587.7 847.7,587.2 845.9,587.9 841.8,587.2 839.5,587.7 838.0,587.4 834.1,588.9 830.9,589.5 828.6,591.0 826.9,591.0 825.3,589.7 824.0,589.6 822.4,588.0 821.8,585.3 820.6,582.7 821.8,582.1 821.6,579.2 819.2,575.7 817.3,572.5 814.6,567.6 811.8,564.8 810.4,562.1 809.5,558.4 808.6,555.7 807.4,549.9 807.3,545.4 806.8,543.4 805.3,541.8 803.4,538.7 801.4,534.2 799.1,530.9 797.3,528.2 797.3,525.4 797.0,523.0 797.5,519.7 798.8,516.3 799.0,514.7 800.2,511.3 801.1,509.8 803.2,507.3 804.4,505.6 804.8,502.9 804.7,500.7 803.5,499.4 802.5,497.1 801.6,494.9 803.0,492.6 801.8,489.0 801.1,486.5 799.2,484.1 799.0,482.2 798.0,479.4 794.9,475.4 791.1,471.6 788.6,468.5 786.3,464.7 786.4,463.4 787.3,462.2 788.2,459.5 788.9,456.7 788.2,456.2 789.5,452.0 790.1,449.0 788.6,446.5 786.9,445.9 786.1,444.2 785.2,443.6 785.2,442.6 781.3,444.0 779.9,443.8 778.5,444.6 775.5,444.5 773.4,442.2 772.2,439.5 769.6,437.0 766.7,437.0 763.4,437.0 760.3,437.5 757.3,438.3 751.4,440.5 749.4,441.8 746.0,442.8 742.6,441.8 740.9,441.8 738.3,441.1 735.9,441.1 731.5,441.8 728.8,442.8 725.1,444.2 723.4,444.2 719.6,442.4 716.2,439.5 712.9,437.5 710.4,435.0 709.4,434.8 706.7,433.3 704.8,431.3 704.1,429.9 703.6,427.1 702.0,424.9 700.6,423.4 699.6,422.9 698.7,422.2 698.2,420.5 697.7,419.7 696.6,419.1 694.6,417.5 693.0,417.3 692.2,416.2 691.0,414.9 690.2,411.2 690.7,409.6 689.1,406.6 687.2,405.3 688.9,404.6 690.7,401.9 691.6,400.0 691.3,398.0 692.3,396.1 692.8,392.6 692.4,388.9 691.9,387.1 692.3,385.2 691.3,383.4 689.4,381.8 689.5,380.2 689.7,378.4 691.1,377.4 692.4,375.5 692.1,374.2 693.4,371.6 695.5,369.2 696.7,368.6 697.8,366.4 697.8,364.4 699.2,362.1 701.7,360.7 704.1,356.9 706.0,355.4 709.5,355.0 712.5,352.4 714.3,351.4 717.5,348.3 716.5,343.6 718.0,340.4 718.5,338.4 720.9,335.9 724.6,334.2 727.4,332.6 729.9,328.7 731.1,326.5 733.9,326.5 736.1,328.1 739.7,327.8 743.6,328.6 745.2,328.7 748.8,326.6 752.8,326.0 755.2,324.4 758.8,323.3 765.2,322.6 771.4,322.3 773.3,322.9 776.8,321.4 780.8,321.4 782.3,322.2 784.9,322.0 789.0,320.5 791.6,320.9 791.5,322.9 794.7,321.5 793.1,324.0 793.0,325.7 794.3,326.7 793.9,329.9 791.4,331.8 792.1,333.8 794.0,333.9 795.0,335.7 796.4,336.3 800.8,337.6 802.4,337.2 805.5,337.9 810.5,339.5 812.2,342.9 815.6,343.6 820.9,345.2 824.9,347.0 826.7,346.1 828.5,344.3 827.6,341.5 828.8,339.6 831.5,337.9 834.1,337.4 839.2,338.1 840.5,339.8 841.9,339.8 843.1,340.5 846.8,340.9 847.7,342.2 852.7,342.1 856.3,343.1 860.0,344.2 861.7,344.8 864.6,343.6 866.2,342.5 869.5,342.2 872.2,342.7 873.2,344.6 874.0,343.3 877.0,344.2 880.0,344.4 881.8,343.5 882.9,342.2 883.6,340.3 884.4,337.4 884.9,336.5 886.4,333.4 888.2,330.8 888.0,327.8 888.9,326.2 887.5,324.5 888.9,323.1 886.6,323.4 883.5,322.6 880.9,324.7 875.2,325.1 872.2,323.2 868.1,323.0 867.3,324.6 864.7,325.0 861.1,323.0 857.0,323.1 854.8,319.4 852.0,317.3 853.8,314.3 851.5,312.6 855.6,309.0 861.4,308.8 863.0,306.0 870.1,306.5 874.6,304.0 879.0,303.0 885.2,302.9 891.7,305.5 897.1,307.0 901.5,306.4 904.7,306.8 909.1,304.8 909.7,303.2 908.7,300.6 906.6,299.3 904.5,298.8 903.2,297.7 898.4,294.5 894.1,293.1 890.9,290.9 893.6,290.3 896.7,287.2 894.6,285.7 900.1,284.2 896.6,283.9 893.7,284.2 891.2,285.4 887.6,285.6 884.4,287.1 884.6,289.4 886.5,290.3 890.3,290.1 889.6,291.4 885.5,292.0 880.4,294.2 878.3,293.5 879.1,291.7 875.0,290.6 875.7,289.9 879.3,288.6 878.2,287.8 872.3,286.8 872.1,285.4 868.6,285.9 867.2,288.0 864.3,290.7 864.4,291.7 862.6,292.5 861.5,292.2 860.4,296.7 858.5,298.2 857.1,300.9 858.3,303.0 858.8,304.5 862.0,305.7 861.4,306.6 856.9,306.8 855.3,308.0 852.2,310.0 851.0,308.2 848.8,307.4 846.8,307.0 842.2,308.0 844.9,310.1 842.9,310.7 840.8,310.7 838.9,308.8 838.2,309.6 839.0,311.8 840.9,313.6 839.5,314.4 841.6,316.1 843.4,317.2 843.5,319.3 840.0,318.4 841.1,320.3 838.7,320.6 840.1,324.0 837.7,324.0 834.6,322.4 833.2,319.4 832.5,316.9 831.1,315.2 829.1,313.0 828.9,312.0 828.2,310.9 826.1,309.6 825.8,307.8 826.1,305.3 826.6,304.1 826.0,303.5 825.2,303.2 824.1,302.0 822.5,301.3 819.0,299.9 816.8,298.5 813.4,297.4 810.2,294.7 811.0,294.4 809.3,292.8 809.2,291.5 806.8,291.0 805.6,292.6 804.5,291.3 804.6,290.0 805.6,289.6 802.6,289.0 799.6,290.4 799.7,292.2 799.3,293.3 800.5,295.2 804.1,297.1 805.9,300.2 810.1,303.2 813.1,303.2 814.0,304.0 812.9,304.8 816.3,306.1 819.0,307.3 822.2,309.2 821.9,311.3 819.8,309.5 816.6,308.9 815.0,311.3 817.7,312.7 817.3,314.7 815.7,314.9 813.7,318.1 812.1,318.4 812.2,317.3 812.9,315.2 813.7,314.5 812.3,312.3 811.1,310.4 809.6,309.9 808.4,308.3 806.0,307.6 804.4,306.1 801.7,305.9 798.7,304.2 795.3,301.7 792.7,299.6 791.6,295.9 789.7,295.4 786.7,294.2 784.9,294.7 782.8,296.4 781.2,296.7 777.8,298.8 770.4,297.8 765.0,299.0 764.7,303.5 761.2,305.9 756.4,306.8 756.0,308.0 753.7,310.1 752.3,313.1 753.7,315.3 751.6,317.0 750.8,319.4 747.9,320.2 745.3,323.0 736.9,323.0 734.6,324.4 733.2,325.7 731.3,325.4 729.9,324.2 728.9,322.0 725.4,321.4 723.9,322.4 721.9,321.9 720.0,322.3 720.5,319.4 720.2,317.0 718.5,316.7 717.6,315.3 717.9,312.8 719.4,311.5 719.7,310.0 720.4,307.7 720.4,306.1 719.6,304.8 719.5,303.5 719.7,300.8 718.1,299.2 723.4,296.5 728.0,297.2 733.0,297.2 737.0,297.8 740.1,297.6 746.2,297.7 748.2,295.5 748.9,288.0 745.0,284.1 742.2,282.2 736.5,280.8 736.1,278.0 741.0,277.2 747.3,278.2 746.1,273.9 749.6,275.5 758.4,272.6 759.5,269.5 762.7,268.8 765.7,268.0 767.7,267.0 771.0,261.5 776.1,259.9 779.2,260.0 780.0,259.2 783.1,259.0 783.8,259.8 786.3,258.0 785.5,256.6 785.3,254.5 783.8,252.4 783.7,248.6 784.3,247.5 785.3,246.4 788.6,246.2 790.0,245.1 793.0,244.1 792.9,246.0 791.8,247.2 792.2,248.3 794.2,248.9 793.3,250.3 792.2,249.9 789.5,252.6 790.5,254.4 790.6,255.8 794.4,256.7 794.3,258.0 798.2,257.3 800.3,256.3 804.5,257.8 806.3,259.0 808.8,257.9 814.7,256.2 819.4,254.9 823.1,255.5 823.4,256.4 827.0,256.5 827.9,254.8 833.1,253.6 832.3,250.5 832.4,247.7 834.2,245.3 837.8,244.0 840.8,246.8 843.8,246.7 844.5,243.9 844.9,241.7 843.5,242.1 841.2,240.8 840.8,238.6 845.6,237.6 850.3,237.0 854.4,237.6 858.2,237.5 862.5,235.5 858.6,233.7 851.8,234.0 845.2,235.4 839.1,236.1 836.9,234.1 833.3,232.9 834.1,229.2 832.3,225.8 834.1,223.6 837.5,221.3 846.1,217.2 848.6,216.4 848.2,214.9 842.9,213.1 836.5,214.1 832.9,216.7 833.5,219.1 827.5,222.1 820.3,225.3 817.5,230.6 820.2,233.2 823.8,235.3 820.3,239.5 816.4,240.4 815.0,246.7 812.9,250.2 808.3,249.8 806.2,252.8 801.8,253.0 800.7,249.4 797.5,245.2 794.7,239.9 792.2,237.6 784.7,241.9 779.8,242.8 774.6,240.9 773.2,236.9 772.0,228.2 775.5,225.8 785.4,222.7 792.8,218.8 799.7,213.5 808.7,206.3 815.0,203.5 825.2,198.8 833.5,197.1 839.6,197.4 845.4,194.2 852.2,194.4 859.1,193.6M742.1,240.7 738.1,244.8 741.9,244.2 746.0,244.3 745.0,247.3 741.6,250.7 745.5,250.9 749.2,255.8 751.7,256.4 754.0,260.6 755.1,262.1 759.6,262.8 759.2,265.2 757.3,266.3 758.8,268.2 755.4,270.2 750.4,270.2 744.0,271.2 742.2,270.4 739.8,272.2 736.3,271.8 733.6,273.2 731.7,272.5 737.2,268.5 740.5,267.7 734.7,267.1 733.6,265.6 737.5,264.5 735.4,262.4 736.2,260.0 741.7,260.3 742.3,258.2 739.7,255.8 735.2,255.1 734.3,254.1 735.6,252.4 734.4,251.4 732.4,253.2 732.2,249.5 730.3,247.6 731.6,243.8 734.5,240.7 737.5,241.0ZM730.1,258.6 730.7,261.3 727.9,264.6 721.2,266.8 715.9,266.3 718.9,262.4 717.0,258.5 722.1,255.6 724.9,253.8 728.1,253.7 732.1,256.0ZM811.5,317.2 810.2,320.2 810.7,321.3 809.9,323.2 807.1,321.8 805.2,321.4 799.9,319.5 800.5,317.6 804.8,317.9 808.7,317.5ZM787.9,306.0 790.1,308.7 789.6,313.6 787.9,313.4 786.4,314.6 784.9,313.7 784.8,309.1 783.9,307.0 786.0,307.2ZM789.2,302.5 787.9,305.4 786.2,304.6 785.3,302.1 786.1,300.7 788.5,299.3ZM842.2,326.6 844.3,327.9 847.2,327.7 850.0,328.0 851.9,328.2 851.4,329.3 846.0,329.6 841.5,328.3ZM876.1,328.8 876.9,327.8 879.6,327.9 883.0,326.8 880.4,328.4 877.0,330.9 875.2,330.4 874.3,328.9ZM937.5,286.6 935.7,288.8 932.1,289.4 928.4,293.3 931.8,296.8 931.4,299.4 935.5,303.8 937.5,305.8 939.4,308.4 941.1,308.6 942.3,309.6 939.2,309.9 938.6,312.8 937.9,314.1 936.5,315.0 936.6,316.9 937.8,319.6 941.4,320.4 944.0,322.3 949.3,322.9 955.2,321.9 955.5,321.1 954.8,318.4 955.5,314.5 952.4,313.2 953.4,310.6 950.9,310.4 951.8,307.3 955.3,308.2 958.6,307.0 955.8,304.7 954.8,302.6 951.8,303.5 951.3,306.3 950.2,303.9 950.0,302.9 950.9,301.4 950.2,300.1 945.8,298.8 944.1,295.5 942.1,294.5 942.0,293.3 945.6,293.7 945.8,290.9 948.9,290.3 952.2,290.8 952.9,287.2 952.2,284.9 948.5,285.1 945.3,284.1 940.9,285.8ZM810.1,161.9 811.5,160.5 817.0,160.4 821.8,161.7 834.1,164.5 824.7,166.0 822.6,168.7 819.3,169.5 817.5,172.6 813.0,172.7 804.9,170.4 808.3,169.1 802.7,168.0 795.4,164.9 792.5,161.9 802.7,160.6 804.8,161.9ZM856.1,160.4 850.5,162.4 839.6,162.9 828.6,162.2 827.9,161.2 822.5,161.1 818.5,159.4 830.0,158.4 835.5,159.3 839.3,158.1 848.8,159.1ZM846.0,168.7 837.7,170.2 831.1,169.3 833.6,168.3 831.4,167.2 839.1,166.4 840.6,167.8ZM946.3,190.6 950.1,189.7 950.0,187.7 957.4,184.5 954.0,184.0 962.9,180.7 961.9,179.1 970.3,177.1 982.7,174.7 995.2,174.0 1001.6,172.6 1008.9,172.1 1011.5,173.6 1009.0,174.7 995.7,176.6 984.2,178.4 972.6,181.9 967.0,185.6 961.1,189.2 961.9,192.3 969.1,195.4 966.8,195.7 954.6,195.3 953.6,193.6 946.8,192.6ZM1128.1,164.8 1119.9,165.3 1109.4,164.2 1103.2,162.8 1100.4,160.1 1095.2,159.3 1105.0,156.8 1113.1,155.9 1120.3,157.8 1129.0,161.4ZM1147.3,166.9 1126.2,168.4 1133.0,163.5 1136.1,163.1 1138.9,163.3 1148.4,165.5ZM1273.9,175.1 1283.8,175.3 1297.4,177.3 1294.4,180.0 1280.6,179.9 1274.4,180.8 1266.9,178.4 1268.9,175.8ZM1302.1,177.5 1309.1,178.0 1318.5,179.1 1314.2,180.5 1308.2,180.2 1301.2,178.7ZM1286.0,183.6 1278.4,185.7 1281.3,184.0 1286.0,183.6 1291.3,185.1 1291.8,186.1 1286.1,186.1 1278.4,185.7M78.4,192.4 83.3,194.8 78.4,195.0M921.5,158.4 928.8,157.7 934.5,157.7 935.3,158.7 937.4,157.8 941.0,157.2 946.5,158.0 945.1,158.6 940.0,159.0 936.6,159.3 931.8,160.6 927.7,159.7 929.8,158.5ZM1292.0,270.3 1295.7,276.9 1290.2,275.7 1287.9,281.1 1291.5,284.9 1291.4,287.5 1288.6,285.3 1286.1,288.2 1285.4,285.0 1285.8,281.4 1285.4,277.3 1286.3,274.5 1286.4,269.5 1284.2,265.8 1284.6,260.7 1288.1,259.0 1286.6,257.2 1288.2,256.7 1289.2,259.2 1290.5,262.8 1290.4,266.5ZM1292.9,294.9 1295.6,295.7 1298.2,294.1 1299.0,298.3 1293.5,299.4 1290.2,303.1 1284.3,300.5 1282.3,304.6 1278.1,304.7 1277.6,301.0 1279.4,298.1 1283.4,297.9 1284.5,292.7 1285.7,289.8 1290.0,293.7ZM1285.3,313.6 1281.9,317.4 1281.9,321.3 1280.5,324.3 1281.2,326.2 1279.2,328.8 1274.4,330.5 1267.8,330.8 1262.5,335.1 1260.0,333.6 1259.8,330.8 1253.3,331.6 1248.9,333.4 1244.5,333.5 1248.3,336.2 1245.8,342.6 1243.4,344.2 1241.5,342.7 1242.5,339.3 1240.1,338.3 1238.6,335.7 1242.1,334.5 1244.1,332.2 1247.8,330.2 1250.6,327.7 1258.1,326.6 1262.1,327.3 1266.0,320.7 1268.5,322.4 1274.0,318.7 1276.1,317.2 1278.5,312.7 1277.8,308.5 1279.4,306.1 1283.4,305.4 1285.4,310.6ZM1258.2,332.5 1258.7,333.8 1256.5,336.0 1255.0,334.8 1253.1,335.7 1252.1,337.9 1249.6,336.8 1249.7,335.1 1251.7,332.8 1253.9,333.3 1255.4,331.7ZM1210.0,369.1 1207.7,375.1 1206.1,378.1 1204.1,375.0 1203.7,372.2 1205.9,368.5 1208.9,365.7 1210.6,366.8ZM1167.1,390.5 1163.8,392.3 1160.8,391.1 1160.6,387.9 1162.5,386.2 1166.6,385.2 1168.7,385.2 1169.6,386.7 1167.9,388.3ZM1208.2,391.2 1210.6,392.2 1211.7,391.2 1212.1,392.2 1211.4,393.7 1212.7,396.4 1211.7,399.6 1209.5,400.8 1208.9,403.8 1209.8,406.8 1211.8,407.2 1213.4,406.7 1218.1,408.8 1217.8,410.9 1219.0,411.8 1218.6,413.5 1215.7,411.7 1214.3,409.7 1213.3,411.1 1210.9,408.8 1207.5,409.4 1205.6,408.5 1205.8,407.0 1207.0,406.0 1205.9,405.2 1205.4,406.5 1203.5,404.4 1203.0,402.7 1202.8,399.2 1204.4,400.4 1204.7,394.5 1206.0,391.1ZM1227.2,429.0 1227.6,431.5 1227.8,433.6 1226.5,437.0 1225.1,433.2 1223.4,435.0 1224.6,437.8 1223.5,439.6 1219.1,437.4 1218.1,434.7 1219.2,432.9 1216.8,431.2 1215.7,432.7 1213.9,432.5 1211.1,434.6 1210.5,433.6 1211.9,430.4 1214.3,429.3 1216.4,427.9 1217.7,429.6 1220.5,428.6 1221.1,426.9 1223.8,426.8 1223.6,423.9 1226.6,425.7 1226.9,427.6ZM1201.4,417.9 1202.1,421.0 1199.6,423.0 1197.7,425.6 1192.7,429.1 1194.5,426.5 1197.2,424.2 1199.5,421.6ZM1223.9,414.9 1225.0,419.1 1222.1,418.1 1222.1,419.3 1223.1,421.7 1221.3,422.5 1221.1,419.9 1220.0,419.7 1219.4,417.4 1221.6,417.7 1221.6,416.3 1219.3,413.4 1222.9,413.5ZM1214.9,417.1 1214.9,418.6 1213.2,420.2 1210.8,421.4 1210.7,419.6 1210.9,417.7 1210.3,415.9 1212.6,417.1ZM1218.2,422.0 1216.9,423.2 1215.7,425.6 1214.5,426.7 1212.2,424.1 1213.0,423.1 1213.9,422.0 1214.3,419.7 1216.4,419.5 1215.8,422.0 1218.6,418.4ZM1209.0,411.5 1208.0,414.7 1206.4,412.9 1204.5,410.0 1207.7,410.2ZM1189.1,437.5 1191.0,434.6 1192.5,434.5 1194.4,436.4 1194.6,438.0 1197.1,439.1 1200.2,440.2 1199.9,441.7 1197.4,441.9 1198.1,443.7 1195.3,445.0 1193.2,448.4 1196.0,451.9 1195.3,453.6 1199.5,457.1 1195.1,457.6 1193.8,460.1 1194.0,463.5 1190.4,466.1 1190.3,469.8 1188.8,475.5 1188.3,474.2 1184.0,475.9 1182.5,473.6 1179.9,473.4 1178.0,472.2 1173.5,473.5 1172.2,471.7 1169.7,471.9 1166.6,471.5 1166.0,466.5 1164.2,465.4 1162.4,462.2 1161.8,458.9 1162.3,455.5 1164.5,453.0 1167.3,454.3 1170.2,453.6 1170.9,450.4 1172.5,449.7 1177.0,448.9 1179.7,445.9 1181.5,443.5 1183.0,442.1 1186.2,440.1ZM1110.6,440.0 1118.8,440.8 1122.2,444.5 1125.1,447.0 1127.1,448.6 1130.7,452.6 1134.5,452.7 1137.7,455.3 1139.8,458.4 1142.7,460.1 1141.2,463.2 1143.3,464.5 1144.7,464.6 1145.3,467.2 1146.6,469.3 1149.4,469.6 1151.2,472.0 1150.3,476.7 1150.1,482.4 1145.9,482.5 1142.8,479.4 1138.0,476.3 1136.4,474.0 1133.5,471.0 1131.7,468.2 1128.8,462.9 1125.5,459.8 1124.4,456.6 1123.0,453.7 1119.7,451.3 1117.7,448.1 1114.9,446.0 1111.0,441.9ZM1151.0,482.6 1155.5,482.8 1158.5,484.3 1160.1,484.6 1160.6,485.9 1167.8,486.3 1168.6,484.8 1175.6,486.6 1177.0,489.0 1182.6,489.7 1187.2,491.9 1182.9,493.3 1178.8,491.8 1175.4,491.9 1171.5,491.6 1168.0,490.9 1163.6,489.5 1160.9,489.1 1159.3,489.6 1152.5,488.1 1151.8,486.4 1148.4,486.2ZM1206.6,455.6 1209.5,456.7 1214.3,457.2 1218.6,457.1 1222.3,454.4 1222.9,455.2 1219.9,458.9 1217.1,459.6 1213.5,458.9 1207.3,459.1 1204.0,459.6 1203.4,462.5 1206.8,465.8 1208.8,464.1 1215.8,462.8 1215.5,464.6 1213.9,464.0 1212.2,466.2 1208.9,467.6 1212.5,472.5 1211.8,473.7 1215.2,478.0 1215.1,480.5 1213.1,481.6 1211.7,480.3 1213.5,477.2 1209.8,478.7 1208.9,477.6 1209.4,476.2 1206.7,474.0 1206.9,470.4 1204.4,471.5 1204.7,475.9 1204.9,481.2 1202.5,481.8 1200.9,480.7 1202.0,477.2 1201.4,473.6 1199.8,473.6 1198.7,471.0 1200.2,468.6 1200.7,465.6 1202.6,459.9 1203.4,458.4ZM1256.3,464.8 1257.3,470.9 1261.2,473.1 1264.4,469.2 1268.7,466.9 1272.0,466.9 1275.2,468.2 1278.0,469.5 1282.0,470.2 1288.5,472.8 1295.4,475.0 1298.0,476.9 1300.1,478.8 1300.7,481.0 1307.0,483.3 1307.9,485.3 1304.4,485.7 1305.2,488.2 1308.6,490.6 1311.0,494.6 1313.2,494.5 1313.0,496.2 1315.9,496.8 1314.8,497.5 1318.8,499.1 1318.4,500.2 1315.9,500.4 1314.9,499.5 1311.7,499.0 1307.9,498.5 1305.0,496.1 1302.9,494.0 1301.0,490.8 1296.0,489.1 1292.9,490.2 1290.6,491.4 1291.1,494.2 1288.1,495.5 1286.0,494.8 1282.1,494.7 1278.8,491.6 1275.0,490.9 1274.1,491.9 1269.3,492.0 1270.9,489.0 1273.3,487.9 1272.3,483.9 1270.5,480.7 1263.2,477.6 1260.1,477.2 1254.5,473.8 1253.4,475.6 1251.9,475.9 1251.1,474.6 1251.1,472.9 1248.2,471.1 1252.3,469.7 1254.9,469.8 1254.6,468.8 1249.1,468.8 1247.7,466.6 1244.3,465.9 1242.7,464.0 1247.8,463.1 1249.7,461.9 1255.7,463.4ZM1221.9,493.8 1222.4,493.0 1225.6,492.1 1228.2,492.0 1229.4,491.5 1230.8,492.0 1229.4,493.0 1225.5,494.7 1222.4,495.7 1219.9,498.5 1216.7,499.3 1216.6,497.6 1218.2,495.3ZM1195.4,490.9 1196.8,491.8 1199.1,491.5 1200.0,493.2 1195.7,493.9 1193.1,494.4 1191.1,494.4 1192.3,492.2 1194.4,492.2ZM1214.2,490.8 1213.6,492.9 1208.0,494.0 1203.0,493.5 1203.0,492.1 1206.0,491.4 1208.3,492.5 1210.8,492.2ZM1204.9,496.8 1206.2,497.9 1206.0,498.9 1204.4,499.0 1199.4,496.3 1202.9,495.6ZM1235.9,456.3 1235.7,459.5 1233.7,459.2 1233.2,461.4 1234.7,463.4 1233.7,463.9 1232.2,461.5 1231.0,456.7 1231.8,453.7 1233.0,452.4 1233.3,454.4 1235.5,454.7ZM1242.5,472.1 1243.9,475.0 1240.7,473.4 1237.6,473.1 1235.5,473.4 1232.9,473.2 1233.8,471.1 1238.4,471.0ZM1229.5,472.2 1230.5,473.5 1229.0,474.7 1226.5,474.0 1225.7,472.4ZM1060.0,432.3 1059.4,436.2 1057.9,437.3 1054.6,438.1 1052.8,435.2 1052.2,429.8 1053.9,423.7 1056.4,425.8 1058.2,428.4ZM939.1,507.2 940.1,508.9 941.0,511.3 941.6,515.8 942.6,517.6 942.2,519.4 941.6,520.5 940.3,518.3 939.6,519.4 940.3,522.2 939.9,523.8 938.9,524.6 938.7,527.8 937.2,532.2 935.4,537.3 933.0,544.4 931.6,549.6 929.9,554.0 926.9,554.9 923.6,556.5 921.4,555.5 918.5,554.2 917.4,552.2 917.2,548.9 915.9,545.9 915.5,543.2 916.2,540.5 917.9,539.8 917.9,538.6 919.7,535.7 920.0,533.4 919.2,531.6 918.5,529.2 918.2,525.8 919.5,523.7 920.0,521.3 921.8,521.2 923.9,520.4 925.3,519.7 927.0,519.7 929.1,517.5 932.2,515.2 933.3,513.3 932.8,511.7 934.4,512.2 936.5,509.6 936.5,507.3 937.8,505.6ZM1291.6,512.1 1293.0,515.0 1295.4,513.6 1296.6,515.2 1298.4,516.7 1298.0,518.3 1298.9,521.6 1299.4,523.4 1300.4,523.9 1301.4,527.1 1301.0,529.0 1302.2,531.6 1306.3,533.5 1308.9,535.3 1311.5,536.9 1311.0,537.8 1313.1,540.2 1314.6,544.2 1316.1,543.4 1317.6,545.1 1318.5,544.5 1319.1,548.4 1321.8,550.8 1323.5,552.2 1326.5,555.2 1327.5,558.2 1327.6,560.4 1327.4,562.7 1329.2,565.9 1328.9,569.2 1328.3,570.9 1327.3,574.3 1327.4,576.4 1326.6,579.1 1325.0,582.5 1322.2,584.4 1320.8,587.3 1319.6,589.1 1318.4,592.3 1317.0,594.2 1316.1,597.0 1315.6,599.6 1315.8,600.8 1313.6,602.1 1309.4,602.2 1305.9,603.8 1304.2,605.2 1302.0,606.8 1298.9,605.2 1296.6,604.5 1297.1,602.6 1295.1,603.3 1291.8,606.0 1288.6,605.0 1286.4,604.4 1284.3,604.1 1280.7,603.0 1278.2,600.7 1277.6,597.9 1276.7,594.4 1274.8,594.4 1271.2,594.0 1272.5,592.2 1271.6,589.4 1269.7,592.0 1266.4,592.7 1268.3,590.6 1268.9,588.4 1270.4,586.6 1270.1,583.8 1267.0,587.0 1264.7,588.3 1263.2,591.3 1260.3,589.8 1260.4,587.8 1258.1,585.0 1256.1,583.6 1256.8,582.8 1252.0,580.5 1249.4,580.4 1245.8,578.6 1239.1,578.9 1234.2,581.3 1229.9,581.5 1226.3,581.3 1222.4,583.2 1219.1,584.1 1218.4,586.0 1217.0,587.5 1213.8,587.6 1211.5,588.0 1208.2,587.3 1205.5,587.7 1202.9,587.9 1200.7,589.9 1199.6,589.7 1197.7,590.8 1195.9,591.9 1193.2,591.8 1190.6,591.8 1186.6,589.4 1184.6,588.7 1184.7,586.5 1186.6,586.0 1187.2,585.2 1187.1,583.8 1187.5,581.2 1187.1,579.0 1185.1,575.2 1184.5,573.1 1184.7,570.9 1183.2,568.5 1183.1,567.4 1181.4,565.9 1181.0,563.0 1178.8,560.0 1178.3,558.4 1180.0,560.0 1178.7,556.5 1180.6,557.6 1181.6,559.1 1181.6,557.2 1179.7,554.2 1179.4,553.0 1178.5,551.9 1178.9,549.8 1179.7,548.8 1180.2,546.9 1179.8,544.8 1181.3,542.1 1181.6,544.9 1183.2,542.3 1186.3,541.1 1188.1,539.5 1190.9,538.1 1192.7,537.8 1193.7,538.3 1196.6,536.9 1198.9,536.4 1199.5,535.6 1200.5,535.3 1202.6,535.4 1206.5,534.3 1208.5,532.6 1209.5,530.6 1211.7,528.7 1211.9,527.2 1211.9,525.2 1214.6,522.0 1216.1,525.2 1217.8,524.5 1216.4,522.7 1217.6,520.9 1219.3,521.7 1219.7,518.9 1221.8,517.0 1222.7,515.5 1224.5,514.9 1224.6,513.8 1226.3,514.3 1226.3,513.4 1228.0,512.8 1229.8,512.3 1232.5,514.0 1234.6,516.2 1237.0,516.3 1239.4,516.6 1238.6,514.6 1240.4,511.6 1242.1,510.6 1241.5,509.6 1243.1,507.5 1245.4,506.2 1247.3,506.6 1250.4,505.9 1250.4,504.0 1247.6,502.7 1249.6,502.2 1252.1,503.2 1254.1,504.7 1257.2,505.6 1258.3,505.3 1260.6,506.4 1262.8,505.3 1264.2,505.7 1265.1,505.0 1266.8,506.8 1265.9,508.8 1264.4,510.3 1263.1,510.4 1263.6,511.9 1262.4,513.8 1261.1,515.7 1261.4,516.7 1264.4,518.8 1267.3,520.0 1269.2,521.3 1271.9,523.5 1273.0,523.5 1274.9,524.5 1275.5,525.6 1279.1,526.9 1281.6,525.6 1282.3,523.6 1283.0,521.9 1283.5,519.9 1284.6,516.9 1284.1,515.1 1284.4,514.0 1284.0,511.9 1284.5,509.0 1285.2,508.3 1284.6,507.0 1285.5,505.0 1286.2,503.0 1286.3,501.9 1287.7,500.5 1288.8,502.3 1289.0,504.7 1290.0,505.1 1290.1,506.7 1291.5,508.6 1291.8,510.7ZM1307.1,613.5 1309.4,613.7 1309.6,618.2 1308.3,619.5 1307.9,622.5 1306.6,621.5 1304.0,624.1 1301.0,623.8 1298.6,620.5 1298.1,618.1 1296.0,614.8 1296.0,613.1 1298.5,613.4 1302.1,614.7 1304.2,614.2ZM1416.6,610.7 1415.2,612.7 1413.3,615.3 1410.4,616.8 1409.8,615.8 1408.2,615.2 1410.4,612.2 1409.1,610.1 1405.1,608.6 1405.2,607.3 1407.9,605.9 1408.5,603.1 1408.4,600.6 1406.8,598.1 1405.2,595.9 1402.2,592.6 1400.7,589.9 1402.0,589.6 1404.1,591.7 1407.0,592.7 1408.0,596.1 1410.8,600.0 1410.9,597.4 1412.5,598.5 1413.1,601.3 1416.1,602.5 1418.7,602.8 1420.8,601.4 1422.7,601.8 1421.8,605.1 1420.6,607.3 1417.8,607.3 1416.8,608.4 1417.1,610.0ZM1389.5,623.8 1392.7,621.8 1395.0,619.9 1396.6,617.1 1398.1,616.1 1398.6,614.0 1401.3,612.3 1402.1,613.9 1402.9,615.4 1405.6,613.9 1406.7,615.5 1406.7,617.1 1405.3,618.8 1402.8,621.6 1400.9,623.1 1402.3,624.9 1399.4,625.0 1396.2,626.3 1395.2,628.8 1393.1,632.6 1390.1,634.3 1388.2,635.3 1384.8,635.3 1382.4,634.0 1378.3,633.8 1377.7,632.4 1379.7,629.6 1384.4,625.9 1386.8,625.2ZM1374.9,539.5 1378.0,541.8 1380.0,543.6 1378.5,544.5 1376.5,543.5 1373.8,541.8 1371.4,539.8 1368.9,537.1 1368.4,535.9 1370.0,535.9 1372.1,537.2 1373.7,538.5ZM1356.5,497.5 1352.7,497.2 1351.9,496.6 1352.1,495.1 1354.6,495.7 1355.9,496.5ZM1359.6,496.5 1359.0,497.2 1356.2,493.9 1355.4,491.7 1356.7,491.7 1358.1,494.7ZM1352.8,491.8 1348.0,489.6 1346.6,488.3 1348.8,488.8 1351.9,490.6ZM1344.0,488.1 1341.6,487.4 1340.1,485.9 1342.5,486.8ZM1333.6,480.5 1334.7,481.4 1336.6,483.7 1338.3,485.0 1337.8,486.1 1336.8,486.4 1335.2,485.0 1333.5,482.6 1332.7,479.8ZM1324.5,476.7 1324.5,478.8 1323.2,481.0 1321.2,481.3 1320.6,482.4 1318.6,483.3 1316.7,484.2 1314.7,484.2 1311.6,483.1 1309.5,482.1 1309.8,480.9 1313.1,481.4 1315.2,481.2 1315.7,479.4 1316.7,481.2 1318.8,481.0 1319.9,479.7 1322.0,478.3 1321.5,476.1 1323.8,476.1ZM1327.5,477.4 1326.4,478.4 1325.7,476.2 1324.8,474.7 1323.1,473.5 1320.9,471.9 1318.2,470.8 1319.3,469.9 1321.3,470.9 1322.6,471.7 1324.2,472.6 1325.7,474.2 1327.1,475.4ZM1380.3,520.1 1382.7,522.2 1381.5,522.7 1380.2,521.1ZM1378.7,519.2 1378.2,518.2 1378.1,515.3 1379.9,516.5 1380.5,519.5 1379.5,519.0ZM1011.8,642.8 1014.2,644.0 1017.8,644.4 1016.8,646.8 1011.1,647.1 1011.0,645.1 1011.6,643.5ZM78.4,778.0 81.9,775.9 88.7,777.1 93.1,775.8 99.5,777.4 104.2,775.8 116.1,774.9 119.6,775.8 127.1,777.5 137.7,778.5 146.2,779.7 160.6,780.5 171.4,779.5 187.4,780.3 196.4,781.4 206.3,780.3 216.7,779.3 217.5,777.5 202.8,777.4 190.7,776.5 187.5,775.0 177.4,774.2 178.1,772.5 179.5,771.0 180.9,769.6 180.2,768.0 173.9,767.0 171.1,765.7 165.2,764.5 174.4,764.7 183.0,764.1 188.5,765.4 195.1,764.3 201.3,762.9 204.3,761.7 203.0,760.1 198.2,759.1 192.7,758.0 184.9,757.8 178.2,757.2 170.9,756.9 168.5,755.5 163.6,754.3 160.7,753.0 159.5,748.7 161.3,749.1 164.8,750.3 170.9,749.9 176.9,749.4 179.9,751.0 185.9,750.6 190.9,749.8 195.6,748.8 199.8,747.6 205.5,747.2 205.4,745.8 204.0,744.4 205.1,743.1 210.0,742.4 212.2,743.7 217.9,742.9 222.2,742.0 227.6,741.9 232.7,741.5 237.7,740.6 241.8,739.8 246.3,739.0 249.3,739.2 251.8,739.5 257.4,739.0 262.4,739.7 267.6,739.6 272.5,739.1 277.5,739.5 283.1,739.8 288.3,739.7 293.8,739.8 299.4,739.8 304.5,739.7 308.3,738.6 312.9,738.0 317.5,738.8 322.0,738.2 326.1,736.8 328.5,738.0 329.8,739.3 332.2,740.6 336.1,739.5 340.6,740.9 345.7,741.3 350.0,742.3 355.3,742.1 360.1,741.5 365.7,741.6 370.8,742.1 375.9,742.8 377.9,741.2 375.5,739.9 373.7,738.6 368.8,738.3 366.7,736.9 365.9,735.5 364.6,732.7 367.4,733.2 372.3,733.4 377.2,733.2 381.6,733.8 385.4,734.9 387.0,736.2 392.1,736.5 397.0,735.9 402.1,735.2 406.7,734.8 410.5,735.6 415.5,735.3 418.8,732.5 421.8,734.2 426.1,734.9 430.8,734.5 433.9,735.9 438.8,736.1 443.3,736.5 447.8,737.3 450.8,735.9 452.2,734.6 456.0,736.1 461.1,735.7 464.9,736.5 467.5,737.8 472.5,737.4 476.4,736.6 480.2,735.6 484.8,735.1 490.1,734.7 494.8,734.2 498.5,733.4 500.7,732.2 501.6,730.6 501.2,729.1 500.0,727.6 498.7,726.1 497.5,724.6 496.5,723.3 496.3,721.9 496.7,720.4 498.4,719.0 499.9,717.4 500.5,716.0 499.8,714.4 499.3,712.9 501.2,711.2 503.2,710.1 505.6,708.7 508.2,707.5 511.2,706.4 512.7,704.8 514.7,703.8 517.1,702.8 520.7,702.6 523.1,701.4 525.7,700.7 528.8,700.3 531.5,699.3 533.6,698.1 536.6,697.7 538.8,698.7 537.4,699.9 533.6,701.0 531.9,701.8 529.1,701.2 526.1,701.6 523.5,702.4 520.8,703.4 518.9,704.5 518.4,706.0 518.6,707.4 520.4,708.6 517.8,709.5 514.3,709.8 512.3,711.1 510.1,712.2 507.7,713.8 507.1,715.2 508.4,716.8 510.4,718.0 513.5,718.8 516.4,720.0 517.9,721.5 518.7,722.9 519.8,724.3 521.6,725.6 522.7,727.0 523.2,730.4 524.3,731.8 524.6,733.3 525.8,734.8 525.2,736.8 523.2,738.3 521.0,739.5 516.0,740.1 514.3,741.4 512.0,742.6 506.4,744.0 501.4,744.6 496.7,745.4 491.6,746.2 488.6,747.8 482.6,747.9 476.0,747.8 470.0,748.1 463.7,748.1 464.9,749.5 470.6,750.2 474.8,751.2 477.1,752.6 473.0,753.7 466.5,753.3 461.1,754.3 460.8,757.3 465.2,758.6 466.0,760.0 470.8,761.4 478.7,762.0 485.5,763.0 490.8,764.1 497.6,765.3 507.0,765.9 516.1,767.0 522.5,768.0 529.5,769.3 533.2,771.1 535.0,772.5 539.6,771.1 545.8,770.0 552.3,768.9 560.1,767.9 566.7,766.9 576.1,766.8 585.2,767.3 592.8,768.2 595.2,766.6 600.5,765.5 609.9,765.4 617.3,764.6 624.4,763.8 632.2,763.3 640.5,762.6 646.3,761.7 643.7,760.4 642.0,759.0 642.0,757.6 634.8,757.8 627.0,758.4 619.7,758.4 618.7,756.9 619.2,754.2 620.9,753.3 626.2,752.5 632.6,751.6 641.7,749.4 645.0,747.9 650.2,747.3 655.2,746.7 657.8,746.4 663.6,746.3 669.1,745.8 673.8,745.1 678.3,744.2 682.4,743.3 687.6,742.1 690.9,740.9 694.5,739.8 695.5,738.3 691.6,737.4 692.9,735.9 695.4,734.7 699.3,734.0 703.4,733.1 707.2,731.9 710.2,730.4 712.0,728.7 714.7,727.7 719.2,727.9 721.0,729.1 725.5,729.3 725.7,727.9 727.6,726.4 731.6,726.8 732.6,728.2 737.1,728.4 741.9,727.7 746.6,727.3 750.9,727.5 752.5,729.1 756.6,727.8 760.4,727.1 764.7,726.6 768.9,726.1 772.7,725.2 776.8,724.6 780.1,723.8 782.3,722.5 785.2,723.5 789.1,722.9 791.8,724.7 793.9,726.0 798.1,725.3 799.8,723.8 803.6,722.8 808.6,723.0 810.1,724.4 813.1,723.0 817.2,722.6 821.6,722.4 825.5,722.5 829.7,722.9 833.8,723.2 835.5,724.4 838.0,725.5 842.1,724.9 846.5,724.7 850.7,724.7 854.9,724.6 858.7,724.1 862.6,723.7 865.9,722.6 869.5,722.0 873.3,721.6 876.1,720.6 878.2,718.6 880.3,717.3 884.2,717.9 885.7,719.2 888.9,720.1 892.8,719.8 895.5,721.1 898.3,722.1 902.1,721.2 903.4,719.6 906.8,718.9 910.7,717.7 914.3,717.1 918.7,716.4 921.7,715.6 924.8,714.7 927.7,713.9 931.2,714.4 934.6,713.0 937.0,712.0 940.5,712.1 943.6,711.2 944.4,709.9 947.5,708.8 950.6,708.1 954.3,707.5 957.8,707.2 961.1,707.5 964.7,707.8 967.7,708.8 968.0,710.5 971.3,711.7 973.6,712.7 978.1,713.2 980.6,714.2 983.7,715.2 987.3,715.4 990.3,714.7 993.5,713.2 997.0,714.0 1000.7,714.4 1004.2,714.9 1007.9,715.1 1011.6,715.1 1014.7,719.0 1014.6,720.0 1014.2,721.7 1010.6,722.6 1007.6,724.1 1008.1,725.5 1012.3,725.5 1011.8,726.9 1009.9,728.3 1008.1,729.8 1011.0,731.0 1015.3,731.4 1019.6,730.7 1021.7,729.3 1023.0,727.9 1025.0,726.7 1027.3,725.6 1028.3,724.3 1030.3,722.4 1032.6,722.0 1036.9,721.9 1040.7,721.5 1044.4,720.9 1046.3,719.4 1047.4,718.0 1050.0,716.6 1053.6,715.7 1056.8,715.0 1058.8,713.7 1061.0,713.0 1063.7,712.4 1067.5,712.8 1070.8,712.4 1074.5,712.0 1078.6,712.2 1081.3,711.2 1083.3,708.7 1084.6,709.7 1086.4,711.5 1089.6,712.2 1093.2,712.5 1096.8,712.1 1100.6,712.4 1104.1,712.4 1106.5,712.1 1109.6,712.3 1112.5,713.1 1115.8,712.6 1119.9,712.6 1123.3,712.1 1127.2,712.6 1129.7,711.4 1131.6,710.1 1134.2,709.1 1138.9,706.3 1141.3,706.8 1144.2,707.8 1146.7,709.1 1151.5,711.4 1155.1,711.5 1158.6,711.5 1162.6,711.1 1166.7,710.5 1169.8,709.5 1172.3,708.4 1176.5,708.2 1179.3,707.5 1182.2,708.2 1184.2,709.4 1186.8,710.5 1190.9,710.4 1193.5,711.4 1198.0,712.3 1202.6,712.7 1206.5,712.4 1209.5,711.2 1212.0,710.0 1215.4,709.7 1218.7,710.2 1222.6,710.6 1226.2,710.0 1229.5,710.0 1232.8,710.4 1236.3,710.8 1239.7,710.1 1243.7,709.5 1247.5,709.4 1251.8,709.4 1255.2,709.0 1258.6,708.7 1259.6,706.9 1259.8,705.3 1262.1,706.3 1262.8,708.0 1264.1,709.6 1265.6,710.8 1268.7,711.5 1273.0,711.3 1277.9,711.2 1281.3,711.0 1286.2,711.0 1289.7,710.9 1294.7,711.1 1298.9,711.4 1301.5,712.5 1300.8,713.9 1303.2,715.0 1307.2,715.9 1311.4,716.9 1316.3,717.5 1321.3,718.1 1325.1,718.7 1329.4,718.7 1331.8,717.5 1335.2,718.6 1338.0,719.7 1341.3,720.6 1345.9,721.0 1350.2,721.4 1352.0,722.9 1356.3,723.8 1359.2,725.1 1363.4,725.7 1367.7,725.6 1371.7,725.8 1376.2,725.8 1380.7,726.0 1384.9,726.5 1388.7,727.4 1392.6,728.2 1395.3,729.3 1394.8,730.7 1392.9,732.1 1391.2,733.7 1389.9,735.0 1388.1,736.6 1383.2,737.2 1381.0,738.5 1376.1,739.3 1374.4,740.8 1371.9,742.2 1369.1,743.4 1367.6,744.9 1366.7,746.3 1366.3,748.0 1366.4,749.4 1368.5,750.9 1369.3,752.3 1371.0,753.6 1378.0,754.1 1379.5,755.7 1372.7,756.3 1367.0,757.1 1359.9,757.2 1356.7,759.4 1356.1,761.1 1354.5,762.5 1352.5,764.0 1357.5,765.2 1359.4,766.7 1362.6,768.1 1367.2,769.4 1372.4,770.5 1378.0,771.7 1386.6,772.9 1388.5,774.7 1399.3,775.5 1402.8,776.9 1413.2,776.0 1421.8,777.1 1428.3,778.0M496.7,726.5 497.1,728.2 496.4,729.7 495.4,731.0 491.0,731.6 486.8,732.3 481.9,732.2 483.7,730.7 475.1,731.8 472.3,730.7 472.1,729.1 476.2,727.7 478.7,727.2 483.1,727.4 484.2,725.5 484.4,724.1 484.3,721.1 486.5,719.3 489.9,718.7 491.9,720.1 492.8,721.5 494.4,723.2 495.6,724.8ZM584.0,753.1 588.6,754.7 590.3,757.0 590.7,758.6 590.9,760.5 585.0,761.7 578.9,762.6 571.9,763.5 564.0,764.3 555.2,764.0 550.2,762.8 550.9,761.2 558.9,760.2 562.1,758.9 564.5,757.3 566.2,755.9 568.4,754.6 570.9,753.1 572.8,753.1 578.4,752.3ZM527.8,764.1 519.9,763.6 511.5,763.8 506.8,762.6 504.8,761.4 513.2,761.5 521.3,761.9 524.1,760.3 526.1,759.0 530.0,760.5 528.8,762.5ZM139.5,755.1 141.7,753.7 148.7,754.3 152.5,755.5 155.3,756.8 156.4,758.5 149.2,759.0 144.2,757.7 142.0,756.4ZM369.6,730.0 372.0,729.4 376.8,729.8 382.2,730.1 386.3,730.7 390.4,730.2 392.6,732.4 389.7,732.1 385.1,732.2 380.5,732.1 375.4,732.3 371.6,731.6ZM293.6,736.6 294.3,735.3 298.8,736.0 303.7,736.6 308.2,735.9 306.0,737.3 302.5,738.2 297.3,737.9ZM276.1,735.9 278.8,735.1 282.5,735.9 288.3,737.4 286.1,737.3 281.2,736.9ZM135.0,255.8 140.6,254.9 136.5,256.6ZM125.3,260.7 128.6,260.1 130.1,258.3 127.1,258.1 124.1,260.0ZM119.6,262.6 123.4,261.1 123.8,259.8 120.4,260.7ZM97.5,265.2 100.9,265.2 100.9,264.1 97.5,264.1ZM88.9,266.7 92.6,266.7 92.6,265.6 88.9,265.6Z" fill="none" stroke="#000" stroke-width="4.17" stroke-linejoin="round" stroke-linecap="round"/>
</defs>
<g transform="translate(0,0)">
<g clip-path="url(#cp0)">
<rect x="76.4" y="130.5" width="1335.10" height="660.00" fill="#000092"/>
<path d="M78,132 84,132 89,132 95,132 101,132 106,132 112,132 117,132 123,132 128,132 134,132 139,132 145,132 151,132 156,132 162,132 167,132 173,132 178,132 184,132 189,132 195,132 200,132 206,132 212,132 217,132 223,132 228,132 234,132 239,132 245,132 250,132 256,132 261,132 267,132 273,132 278,132 284,132 289,132 295,132 300,132 306,132 311,132 317,132 322,132 328,132 334,132 339,132 345,132 350,132 356,132 361,132 367,132 372,132 378,132 383,132 389,132 395,132 400,132 406,132 411,132 417,132 422,132 428,132 433,132 439,132 444,132 450,132 456,132 461,132 467,132 472,132 478,132 483,132 489,132 494,132 500,132 505,132 511,132 517,132 522,132 528,132 533,132 539,132 544,132 550,132 555,132 561,132 566,132 572,132 578,132 583,132 589,132 594,132 600,132 605,132 611,132 616,132 622,132 627,132 633,132 639,132 644,132 650,132 655,132 661,132 666,132 672,132 677,132 683,132 688,132 694,132 700,132 705,132 711,132 716,132 722,132 727,132 733,132 738,132 744,132 749,132 755,132 761,132 766,132 772,132 777,132 783,132 788,132 794,132 799,132 805,132 811,132 816,132 822,132 827,132 833,132 838,132 844,132 849,132 855,132 860,132 866,132 872,132 877,132 883,132 888,132 894,132 899,132 905,132 910,132 916,132 921,132 927,132 933,132 938,132 944,132 949,132 955,132 960,132 966,132 971,132 977,132 982,132 988,132 994,132 999,132 1005,132 1010,132 1016,132 1021,132 1027,132 1032,132 1038,132 1043,132 1049,132 1055,132 1060,132 1066,132 1071,132 1077,132 1082,132 1088,132 1093,132 1099,132 1104,132 1110,132 1116,132 1121,132 1127,132 1132,132 1138,132 1143,132 1149,132 1154,132 1160,132 1165,132 1171,132 1177,132 1182,132 1188,132 1193,132 1199,132 1204,132 1210,132 1215,132 1221,132 1226,132 1232,132 1238,132 1243,132 1249,132 1254,132 1260,132 1265,132 1271,132 1276,132 1282,132 1287,132 1293,132 1299,132 1304,132 1310,132 1315,132 1321,132 1326,132 1332,132 1337,132 1343,132 1348,132 1354,132 1360,132 1365,132 1371,132 1376,132 1382,132 1387,132 1393,132 1398,132 1404,132 1410,132 1410,138 1410,143 1410,149 1410,154 1410,160 1410,165 1410,171 1410,176 1410,182 1410,187 1410,193 1410,198 1410,204 1410,209 1410,214 1410,220 1410,225 1410,231 1410,236 1410,242 1410,247 1410,253 1410,258 1410,264 1410,269 1410,275 1410,280 1410,286 1410,291 1410,296 1410,302 1410,307 1410,313 1410,318 1410,324 1410,329 1410,335 1410,340 1410,346 1410,351 1410,357 1410,362 1410,368 1410,373 1410,378 1410,384 1410,389 1410,395 1410,400 1410,406 1410,411 1410,417 1410,422 1410,428 1410,433 1410,439 1410,444 1410,450 1410,455 1410,460 1410,466 1410,471 1410,477 1410,482 1410,488 1410,493 1410,499 1410,504 1410,510 1410,515 1410,521 1410,526 1410,532 1410,537 1410,542 1410,548 1410,553 1410,559 1410,564 1410,570 1410,575 1410,581 1410,586 1410,592 1410,597 1410,603 1410,608 1410,614 1410,619 1410,624 1410,630 1410,635 1410,641 1410,646 1410,652 1410,657 1410,663 1410,668 1410,674 1410,679 1410,685 1410,690 1410,696 1410,701 1410,706 1410,712 1410,717 1410,723 1410,728 1410,734 1410,739 1410,745 1410,750 1410,756 1410,761 1410,767 1410,772 1410,778 1410,783 1410,788 1404,788 1398,788 1393,788 1387,788 1382,788 1376,788 1371,788 1365,788 1360,788 1354,788 1348,788 1343,788 1337,788 1332,788 1326,788 1321,788 1315,788 1310,788 1304,788 1299,788 1293,788 1287,788 1282,788 1276,788 1271,788 1265,788 1260,788 1254,788 1249,788 1243,788 1238,788 1232,788 1226,788 1221,788 1215,788 1210,788 1204,788 1199,788 1193,788 1188,788 1182,788 1177,788 1171,788 1165,788 1160,788 1154,788 1149,788 1143,788 1138,788 1132,788 1127,788 1121,788 1116,788 1110,788 1104,788 1099,788 1093,788 1088,788 1082,788 1077,788 1071,788 1066,788 1060,788 1055,788 1049,788 1043,788 1038,788 1032,788 1027,788 1021,788 1016,788 1010,788 1005,788 999,788 994,788 988,788 982,788 977,788 971,788 966,788 960,788 955,788 949,788 944,788 938,788 933,788 927,788 921,788 916,788 910,788 905,788 899,788 894,788 888,788 883,788 877,788 872,788 866,788 860,788 855,788 849,788 844,788 838,788 833,788 827,788 822,788 816,788 811,788 805,788 799,788 794,788 788,788 783,788 777,788 772,788 766,788 761,788 755,788 749,788 744,788 738,788 733,788 727,788 722,788 716,788 711,788 705,788 700,788 694,788 688,788 683,788 677,788 672,788 666,788 661,788 655,788 650,788 644,788 639,788 633,788 627,788 622,788 616,788 611,788 605,788 600,788 594,788 589,788 583,788 578,788 572,788 566,788 561,788 555,788 550,788 544,788 539,788 533,788 528,788 522,788 517,788 511,788 505,788 500,788 494,788 489,788 483,788 478,788 472,788 467,788 461,788 456,788 450,788 444,788 439,788 433,788 428,788 422,788 417,788 411,788 406,788 400,788 395,788 389,788 383,788 378,788 372,788 367,788 361,788 356,788 350,788 345,788 339,788 334,788 328,788 322,788 317,788 311,788 306,788 300,788 295,788 289,788 284,788 278,788 273,788 267,788 261,788 256,788 250,788 245,788 239,788 234,788 228,788 223,788 217,788 212,788 206,788 200,788 195,788 189,788 184,788 178,788 173,788 167,788 162,788 156,788 151,788 145,788 139,788 134,788 128,788 123,788 117,788 112,788 106,788 101,788 95,788 89,788 84,788 78,788 78,783 78,778 78,772 78,767 78,761 78,756 78,750 78,745 78,739 78,734 78,728 78,723 78,717 78,712 78,706 78,701 78,696 78,690 78,685 78,679 78,674 78,668 78,663 78,657 78,652 78,646 78,641 78,635 78,630 78,624 78,619 78,614 78,608 78,603 78,597 78,592 78,586 78,581 78,575 78,570 78,564 78,559 78,553 78,548 78,542 78,537 78,532 78,526 78,521 78,515 78,510 78,504 78,499 78,493 78,488 78,482 78,477 78,471 78,466 78,460 78,455 78,450 78,444 78,439 78,433 78,428 78,422 78,417 78,411 78,406 78,400 78,395 78,389 78,384 78,378 78,373 78,368 78,362 78,357 78,351 78,346 78,340 78,335 78,329 78,324 78,318 78,313 78,307 78,302 78,296 78,291 78,286 78,280 78,275 78,269 78,264 78,258 78,253 78,247 78,242 78,236 78,231 78,225 78,220 78,214 78,209 78,204 78,198 78,193 78,187 78,182 78,176 78,171 78,165 78,160 78,154 78,149 78,143 78,138Z" fill="#0000bf" fill-rule="evenodd"/>
<path d="M78,132 84,132 89,132 95,132 101,132 106,132 112,132 117,132 123,132 128,132 134,132 139,132 145,132 151,132 156,132 162,132 167,132 173,132 178,132 184,132 189,132 195,132 200,132 206,132 212,132 217,132 223,132 228,132 234,132 239,132 245,132 250,132 256,132 261,132 267,132 273,132 278,132 284,132 289,132 295,132 300,132 306,132 311,132 317,132 322,132 328,132 334,132 339,132 345,132 350,132 356,132 361,132 367,132 372,132 378,132 383,132 389,132 395,132 400,132 406,132 411,132 417,132 422,132 428,132 433,132 439,132 444,132 450,132 456,132 461,132 467,132 472,132 478,132 483,132 489,132 494,132 500,132 505,132 511,132 517,132 522,132 528,132 533,132 539,132 544,132 550,132 555,132 561,132 566,132 572,132 578,132 583,132 589,132 594,132 600,132 605,132 611,132 616,132 622,132 627,132 633,132 639,132 644,132 650,132 655,132 661,132 666,132 672,132 677,132 683,132 688,132 694,132 700,132 705,132 711,132 716,132 722,132 727,132 733,132 738,132 744,132 749,132 755,132 761,132 766,132 772,132 777,132 783,132 788,132 794,132 799,132 805,132 811,132 816,132 822,132 827,132 833,132 838,132 844,132 849,132 855,132 860,132 866,132 872,132 877,132 883,132 888,132 894,132 899,132 905,132 910,132 916,132 921,132 927,132 933,132 938,132 944,132 949,132 955,132 960,132 966,132 971,132 977,132 982,132 988,132 994,132 999,132 1005,132 1010,132 1016,132 1021,132 1027,132 1032,132 1038,132 1043,132 1049,132 1055,132 1060,132 1066,132 1071,132 1077,132 1082,132 1088,132 1093,132 1099,132 1104,132 1110,132 1116,132 1121,132 1127,132 1132,132 1138,132 1143,132 1149,132 1154,132 1160,132 1165,132 1171,132 1177,132 1182,132 1188,132 1193,132 1199,132 1204,132 1210,132 1215,132 1221,132 1226,132 1232,132 1238,132 1243,132 1249,132 1254,132 1260,132 1265,132 1271,132 1276,132 1282,132 1287,132 1293,132 1299,132 1304,132 1310,132 1315,132 1321,132 1326,132 1332,132 1337,132 1343,132 1348,132 1354,132 1360,132 1365,132 1371,132 1376,132 1382,132 1387,132 1393,132 1398,132 1404,132 1410,132 1410,138 1410,143 1410,149 1410,154 1410,160 1410,165 1410,171 1410,176 1410,182 1410,187 1410,193 1410,198 1410,204 1410,209 1410,214 1410,220 1410,225 1410,231 1410,236 1410,242 1410,247 1410,253 1410,258 1410,264 1410,269 1410,275 1410,280 1410,286 1410,291 1410,296 1410,302 1410,307 1410,313 1410,318 1410,324 1410,329 1410,335 1410,340 1410,346 1410,351 1410,357 1410,362 1410,368 1410,373 1410,378 1410,384 1410,389 1410,395 1410,400 1410,406 1410,411 1410,417 1410,422 1410,428 1410,433 1410,439 1410,444 1410,450 1410,455 1410,460 1410,466 1410,471 1410,477 1410,482 1410,488 1410,493 1410,499 1410,504 1410,510 1410,515 1410,521 1410,526 1410,532 1410,537 1410,542 1410,548 1410,553 1410,559 1410,564 1410,570 1410,575 1410,581 1410,586 1410,592 1410,597 1410,603 1410,608 1410,614 1410,619 1410,624 1410,630 1410,635 1410,641 1410,646 1410,652 1410,657 1410,663 1410,668 1410,674 1410,679 1410,685 1410,690 1410,696 1410,701 1410,706 1410,712 1410,717 1410,723 1410,728 1410,734 1410,739 1410,745 1410,750 1410,756 1410,761 1410,767 1410,772 1410,778 1410,783 1410,788 1404,788 1398,788 1393,788 1387,788 1382,788 1376,788 1371,788 1365,788 1360,788 1354,788 1348,788 1343,788 1337,788 1332,788 1326,788 1321,788 1315,788 1310,788 1304,788 1299,788 1293,788 1287,788 1282,788 1276,788 1271,788 1265,788 1260,788 1254,788 1249,788 1243,788 1238,788 1232,788 1226,788 1221,788 1215,788 1210,788 1204,788 1199,788 1193,788 1188,788 1182,788 1177,788 1171,788 1165,788 1160,788 1154,788 1149,788 1143,788 1138,788 1132,788 1127,788 1121,788 1116,788 1110,788 1104,788 1099,788 1093,788 1088,788 1082,788 1077,788 1071,788 1066,788 1060,788 1055,788 1049,788 1043,788 1038,788 1032,788 1027,788 1021,788 1016,788 1010,788 1005,788 999,788 994,788 988,788 982,788 977,788 971,788 966,788 960,788 955,788 949,788 944,788 938,788 933,788 927,788 921,788 916,788 910,788 905,788 899,788 894,788 888,788 883,788 877,788 872,788 866,788 860,788 855,788 849,788 844,788 838,788 833,788 827,788 822,788 816,788 811,788 805,788 799,788 794,788 788,788 783,788 777,788 772,788 766,788 761,788 755,788 749,788 744,788 738,788 733,788 727,788 722,788 716,788 711,788 705,788 700,788 694,788 688,788 683,788 677,788 672,788 666,788 661,788 655,788 650,788 644,788 639,788 633,788 627,788 622,788 616,788 611,788 605,788 600,788 594,788 589,788 583,788 578,788 572,788 566,788 561,788 555,788 550,788 544,788 539,788 533,788 528,788 522,788 517,788 511,788 505,788 500,788 494,788 489,788 483,788 478,788 472,788 467,788 461,788 456,788 450,788 444,788 439,788 433,788 428,788 422,788 417,788 411,788 406,788 400,788 395,788 389,788 383,788 378,788 372,788 367,788 361,788 356,788 350,788 345,788 339,788 334,788 328,788 322,788 317,788 311,788 306,788 300,788 295,788 289,788 284,788 278,788 273,788 267,788 261,788 256,788 250,788 245,788 239,788 234,788 228,788 223,788 217,788 212,788 206,788 200,788 195,788 189,788 184,788 178,788 173,788 167,788 162,788 156,788 151,788 145,788 139,788 134,788 128,788 123,788 117,788 112,788 106,788 101,788 95,788 89,788 84,788 78,788 78,783 78,778 78,772 78,767 78,761 78,756 78,750 78,745 78,739 78,734 78,728 78,723 78,717 78,712 78,706 78,701 78,696 78,690 78,685 78,679 78,674 78,668 78,663 78,657 78,652 78,646 78,641 78,635 78,630 78,624 78,619 78,614 78,608 78,603 78,597 78,592 78,586 78,581 78,575 78,570 78,564 78,559 78,553 78,548 78,542 78,537 78,532 78,526 78,521 78,515 78,510 78,504 78,499 78,493 78,488 78,482 78,477 78,471 78,466 78,460 78,455 78,450 78,444 78,439 78,433 78,428 78,422 78,417 78,411 78,406 78,400 78,395 78,389 78,384 78,378 78,373 78,368 78,362 78,357 78,351 78,346 78,340 78,335 78,329 78,324 78,318 78,313 78,307 78,302 78,296 78,291 78,286 78,280 78,275 78,269 78,264 78,258 78,253 78,247 78,242 78,236 78,231 78,225 78,220 78,214 78,209 78,204 78,198 78,193 78,187 78,182 78,176 78,171 78,165 78,160 78,154 78,149 78,143 78,138ZM395,143 391,143 389,144 383,144 378,145 372,146 367,148 363,149 367,152 371,154 372,155 378,156 383,156 389,157 395,157 400,158 406,158 411,158 417,159 422,159 428,159 433,159 439,160 442,160 444,160 450,160 456,161 461,161 467,161 472,162 478,163 483,163 489,164 494,165 498,165 500,166 505,166 511,167 517,169 522,170 524,171 528,172 533,173 539,176 540,176 544,179 549,182 550,182 555,187 555,187 560,193 561,194 564,198 566,202 568,204 572,209 572,209 577,214 578,215 582,220 583,221 587,225 589,227 592,231 594,234 599,236 600,237 605,238 611,237 616,237 620,236 622,236 627,236 633,236 639,236 643,236 644,237 650,238 655,240 660,242 661,243 666,246 668,247 672,250 676,253 677,253 683,256 688,257 693,258 694,258 700,259 705,260 711,261 716,263 720,264 722,264 727,266 733,268 736,269 738,270 744,272 749,274 755,274 761,273 766,271 770,269 772,268 777,265 780,264 783,262 788,260 791,258 794,257 799,254 802,253 805,251 811,248 813,247 816,246 822,243 825,242 827,241 833,239 838,238 844,237 849,236 849,236 855,236 860,235 866,235 872,234 877,234 883,234 888,234 894,234 899,234 905,233 910,233 916,233 921,233 927,233 933,233 938,232 944,232 949,232 955,232 960,232 966,231 971,231 975,231 977,231 982,230 988,230 994,230 999,230 1005,229 1010,229 1016,229 1021,229 1027,228 1032,228 1038,228 1043,228 1049,228 1055,227 1060,227 1066,227 1071,227 1077,227 1082,227 1088,227 1093,227 1099,226 1104,227 1110,227 1116,227 1121,227 1127,227 1132,227 1138,228 1143,228 1149,228 1154,229 1160,229 1165,230 1171,231 1174,231 1177,231 1182,232 1188,232 1193,233 1199,234 1204,235 1210,235 1215,236 1215,236 1221,237 1226,238 1232,239 1238,240 1243,241 1248,242 1249,242 1254,243 1260,243 1265,244 1271,244 1276,244 1282,244 1287,245 1293,245 1299,244 1304,244 1310,244 1315,243 1321,242 1323,242 1326,241 1332,240 1337,238 1340,236 1343,235 1348,232 1350,231 1354,228 1357,225 1360,222 1361,220 1362,214 1360,209 1360,209 1354,204 1353,204 1348,201 1343,199 1341,198 1337,197 1332,195 1326,194 1321,193 1315,193 1314,193 1310,192 1304,192 1299,191 1293,191 1287,191 1282,190 1276,190 1271,190 1265,190 1260,190 1254,189 1249,189 1243,189 1238,189 1232,189 1226,188 1221,188 1215,188 1210,188 1204,188 1199,188 1193,188 1188,188 1182,188 1177,188 1171,188 1165,188 1160,189 1154,189 1149,189 1143,189 1138,189 1132,189 1127,190 1121,190 1116,190 1110,190 1104,190 1099,191 1093,191 1088,191 1082,191 1077,191 1071,192 1066,192 1060,192 1055,192 1049,192 1043,192 1038,192 1032,192 1027,192 1021,192 1016,191 1010,191 1005,191 999,191 994,190 988,190 982,190 977,189 971,189 966,189 960,189 955,189 949,189 944,189 938,189 933,189 927,190 921,190 916,190 910,191 905,191 899,191 894,191 888,191 883,191 877,192 872,192 866,192 860,192 855,192 849,192 844,193 843,193 838,193 833,193 827,194 822,195 816,196 811,197 805,198 804,198 799,199 794,199 788,200 783,200 777,200 772,200 766,200 761,200 755,200 749,199 744,199 741,198 738,197 733,194 731,193 727,189 725,187 722,183 720,182 716,176 716,176 712,171 711,170 707,165 705,164 701,160 700,159 694,154 694,154 688,151 685,149 683,148 677,146 672,144 667,143 666,143 661,142 655,142 650,141 644,141 639,141 633,140 627,140 622,140 616,140 611,140 605,140 600,140 594,140 589,140 583,140 578,140 572,140 566,140 561,140 555,140 550,140 544,140 539,140 533,140 528,140 522,140 517,140 511,140 505,140 500,140 494,140 489,140 483,141 478,141 472,141 467,141 461,141 456,141 450,142 444,142 439,142 433,142 428,142 422,142 417,142 411,142 406,143 400,143Z" fill="#0000ed" fill-rule="evenodd"/>
<path d="M1061,138 1066,138 1071,137 1077,137 1082,137 1088,137 1093,137 1099,136 1104,136 1110,136 1116,136 1121,136 1127,136 1132,136 1138,136 1143,136 1149,136 1154,136 1160,136 1165,136 1171,136 1177,136 1182,136 1188,136 1193,136 1199,137 1204,137 1210,138 1210,138 1215,140 1221,143 1222,143 1223,149 1221,154 1221,155 1217,160 1215,161 1210,165 1209,165 1204,167 1199,169 1193,171 1192,171 1188,171 1182,172 1177,172 1171,172 1165,172 1160,172 1154,171 1149,171 1143,171 1141,171 1138,170 1132,170 1127,169 1121,169 1116,169 1110,168 1104,168 1099,167 1093,167 1088,167 1082,166 1077,166 1071,166 1066,165 1065,165 1060,165 1055,164 1049,163 1043,162 1038,161 1035,160 1032,159 1027,156 1024,154 1021,149 1021,149 1021,149 1027,144 1028,143 1032,142 1038,141 1043,140 1049,139 1055,138 1060,138ZM323,176 328,176 334,175 339,175 345,175 350,175 356,175 361,175 367,175 372,175 378,175 383,175 389,175 395,175 400,175 406,176 411,176 417,176 420,176 422,176 428,177 433,177 439,177 444,177 450,178 456,178 461,178 467,179 472,179 478,179 483,180 489,180 494,181 500,181 503,182 505,182 511,183 517,184 522,186 526,187 528,188 533,191 536,193 539,195 543,198 544,199 549,204 550,204 555,209 555,210 561,214 561,214 566,218 569,220 572,222 575,225 578,228 580,231 583,235 584,236 589,242 589,242 594,246 600,247 605,247 611,246 616,244 622,243 626,242 627,242 633,241 639,242 639,242 644,243 650,246 652,247 655,251 658,253 661,256 664,258 666,260 672,264 672,264 677,266 683,268 688,269 689,269 694,270 700,272 705,274 708,275 711,277 714,280 716,283 718,286 720,291 722,295 723,296 725,302 727,307 727,308 730,313 733,318 733,318 738,324 739,324 744,327 749,329 750,329 755,330 761,329 761,329 766,328 772,326 775,324 777,322 782,318 783,317 787,313 788,311 791,307 794,302 794,302 798,296 799,294 801,291 805,287 806,286 811,282 812,280 816,278 822,275 822,275 827,273 833,271 838,270 840,269 844,269 849,268 855,267 860,266 866,266 872,266 877,265 883,265 888,265 894,265 899,265 905,265 910,265 916,265 921,265 927,265 933,265 938,265 944,265 949,265 955,265 960,265 966,265 971,266 977,266 982,266 988,267 994,267 999,267 1005,268 1010,268 1016,269 1021,269 1026,269 1027,269 1032,269 1038,270 1043,270 1049,270 1055,270 1060,270 1066,270 1071,269 1077,269 1079,269 1082,269 1088,269 1093,269 1099,268 1104,268 1110,268 1116,267 1121,267 1127,267 1132,266 1138,266 1143,266 1149,266 1154,265 1160,265 1165,265 1171,265 1177,265 1182,265 1188,266 1193,266 1199,266 1204,267 1210,268 1215,268 1221,269 1223,269 1226,270 1232,271 1238,272 1243,273 1249,274 1253,275 1254,275 1260,277 1265,280 1266,280 1271,284 1273,286 1276,288 1279,291 1282,293 1286,296 1287,298 1293,302 1293,302 1299,305 1304,307 1306,307 1310,308 1315,309 1321,309 1326,308 1330,307 1332,307 1337,304 1341,302 1343,301 1348,297 1349,296 1354,292 1355,291 1360,288 1363,286 1365,284 1371,281 1373,280 1376,278 1382,275 1383,275 1387,271 1390,269 1393,267 1398,264 1398,264 1404,260 1407,258 1410,257 1410,258 1410,264 1410,269 1410,275 1410,280 1410,286 1410,291 1410,296 1410,302 1410,307 1410,313 1410,318 1410,324 1410,329 1410,335 1410,340 1410,346 1410,351 1410,357 1410,362 1410,368 1410,373 1410,378 1410,384 1410,389 1410,395 1410,400 1410,406 1410,411 1410,417 1410,422 1410,428 1410,433 1410,439 1410,444 1410,450 1410,455 1410,460 1410,466 1410,471 1410,477 1410,482 1410,488 1410,493 1410,499 1410,504 1410,510 1410,515 1410,521 1410,526 1410,532 1410,537 1410,542 1410,548 1410,553 1410,559 1410,564 1410,570 1410,575 1410,581 1410,586 1410,592 1410,597 1410,603 1410,608 1410,614 1410,619 1410,624 1410,630 1410,635 1410,641 1410,646 1410,652 1410,657 1410,663 1410,668 1410,674 1410,679 1410,685 1410,690 1410,696 1410,701 1410,706 1410,712 1410,717 1410,723 1410,728 1410,734 1410,739 1410,745 1410,750 1410,756 1410,761 1410,767 1410,772 1410,778 1410,783 1410,788 1404,788 1398,788 1393,788 1387,788 1382,788 1376,788 1371,788 1365,788 1360,788 1354,788 1348,788 1343,788 1337,788 1332,788 1326,788 1321,788 1315,788 1310,788 1304,788 1299,788 1293,788 1287,788 1282,788 1276,788 1271,788 1265,788 1260,788 1254,788 1249,788 1243,788 1238,788 1232,788 1226,788 1221,788 1215,788 1210,788 1204,788 1199,788 1193,788 1188,788 1182,788 1177,788 1171,788 1165,788 1160,788 1154,788 1149,788 1143,788 1138,788 1132,788 1127,788 1121,788 1116,788 1110,788 1104,788 1099,788 1093,788 1088,788 1082,788 1077,788 1071,788 1066,788 1060,788 1055,788 1049,788 1043,788 1038,788 1032,788 1027,788 1021,788 1016,788 1010,788 1005,788 999,788 994,788 988,788 982,788 977,788 971,788 966,788 960,788 955,788 949,788 944,788 938,788 933,788 927,788 921,788 916,788 910,788 905,788 899,788 894,788 888,788 883,788 877,788 872,788 866,788 860,788 855,788 849,788 844,788 838,788 833,788 827,788 822,788 816,788 811,788 805,788 799,788 794,788 788,788 783,788 777,788 772,788 766,788 761,788 755,788 749,788 744,788 738,788 733,788 727,788 722,788 716,788 711,788 705,788 700,788 694,788 688,788 683,788 677,788 672,788 666,788 661,788 655,788 650,788 644,788 639,788 633,788 627,788 622,788 616,788 611,788 605,788 600,788 594,788 589,788 583,788 578,788 572,788 566,788 561,788 555,788 550,788 544,788 539,788 533,788 528,788 522,788 517,788 511,788 505,788 500,788 494,788 489,788 483,788 478,788 472,788 467,788 461,788 456,788 450,788 444,788 439,788 433,788 428,788 422,788 417,788 411,788 406,788 400,788 395,788 389,788 383,788 378,788 372,788 367,788 361,788 356,788 350,788 345,788 339,788 334,788 328,788 322,788 317,788 311,788 306,788 300,788 295,788 289,788 284,788 278,788 273,788 267,788 261,788 256,788 250,788 245,788 239,788 234,788 228,788 223,788 217,788 212,788 206,788 200,788 195,788 189,788 184,788 178,788 173,788 167,788 162,788 156,788 151,788 145,788 139,788 134,788 128,788 123,788 117,788 112,788 106,788 101,788 95,788 89,788 84,788 78,788 78,783 78,778 78,772 78,767 78,761 78,756 78,750 78,745 78,739 78,734 78,728 78,723 78,717 78,712 78,706 78,701 78,696 78,690 78,685 78,679 78,674 78,668 78,663 78,657 78,652 78,646 78,641 78,635 78,630 78,624 78,619 78,614 78,608 78,603 78,597 78,592 78,586 78,581 78,575 78,570 78,564 78,559 78,553 78,548 78,542 78,537 78,532 78,526 78,521 78,515 78,510 78,504 78,499 78,493 78,488 78,482 78,477 78,471 78,466 78,460 78,455 78,450 78,444 78,439 78,433 78,428 78,422 78,417 78,411 78,406 78,400 78,395 78,389 78,384 78,378 78,373 78,368 78,362 78,357 78,351 78,346 78,340 78,335 78,329 78,324 78,318 78,313 78,307 78,302 78,296 78,291 78,286 78,280 78,275 78,269 78,264 78,258 78,253 78,247 78,242 78,236 78,231 78,225 78,220 78,214 78,209 78,204 78,198 78,193 78,188 84,188 89,187 90,187 95,187 101,186 106,186 112,185 117,185 123,184 128,184 134,184 139,183 145,183 151,183 156,183 162,182 167,182 173,182 178,182 184,182 189,182 190,182 195,182 200,181 206,181 212,181 217,181 223,181 228,181 234,181 239,181 245,181 250,181 256,181 261,181 267,181 273,181 278,181 284,180 289,180 295,179 300,179 306,178 311,177 317,177 322,176ZM1243,602 1240,603 1238,603 1232,604 1226,605 1221,606 1215,607 1210,608 1209,608 1204,609 1199,610 1193,611 1188,613 1183,614 1182,614 1177,616 1171,619 1170,619 1171,624 1171,625 1177,627 1182,629 1183,630 1188,631 1193,632 1199,634 1204,635 1206,635 1210,636 1215,637 1221,638 1226,639 1232,639 1238,640 1243,640 1249,640 1254,639 1260,638 1265,635 1265,635 1271,631 1272,630 1275,624 1276,619 1274,614 1271,610 1268,608 1265,606 1260,604 1256,603 1254,602 1249,602Z" fill="#0008ff" fill-rule="evenodd"/>
<path d="M374,187 378,187 383,187 389,187 395,187 396,187 400,187 406,187 411,188 417,188 422,188 428,189 433,189 439,189 444,190 450,190 456,190 461,191 467,191 472,191 478,192 483,192 487,193 489,193 494,194 500,194 505,196 511,197 515,198 517,199 522,201 528,203 528,204 533,206 537,209 539,210 544,214 545,214 550,217 555,220 555,220 561,223 564,225 566,227 571,231 572,232 575,236 578,240 579,242 583,247 584,247 589,252 591,253 594,255 600,257 605,257 611,256 616,254 620,253 622,252 627,251 633,250 639,252 641,253 644,255 648,258 650,260 653,264 655,266 658,269 661,271 666,275 666,275 672,279 675,280 677,282 682,286 683,287 687,291 688,293 691,296 694,302 694,302 697,307 700,311 701,313 704,318 705,320 708,324 711,327 712,329 716,334 717,335 722,339 723,340 727,343 733,345 735,346 738,347 744,347 749,348 755,348 761,348 766,348 772,347 777,346 781,346 783,345 788,344 794,343 799,342 805,341 810,340 811,340 816,339 822,337 827,336 833,335 834,335 838,334 844,333 849,332 855,332 860,331 866,331 872,331 877,332 883,332 888,333 894,334 899,335 899,335 905,336 910,337 916,338 921,339 926,340 927,341 933,342 938,343 944,343 949,344 955,345 960,345 966,345 971,345 977,345 982,344 988,344 994,343 999,342 1004,340 1005,340 1010,336 1011,335 1010,333 1009,329 1006,324 1006,318 1010,314 1012,313 1016,311 1021,309 1027,308 1032,307 1032,307 1038,307 1043,307 1046,307 1049,308 1055,309 1060,310 1066,313 1066,313 1071,317 1072,318 1071,323 1071,324 1066,329 1066,330 1061,335 1061,340 1063,346 1066,349 1068,351 1071,353 1076,357 1077,357 1082,360 1087,362 1088,363 1093,365 1098,368 1099,368 1104,370 1110,373 1111,373 1116,375 1121,377 1127,378 1128,378 1132,379 1138,381 1143,382 1149,382 1154,383 1158,384 1160,384 1165,386 1171,387 1177,389 1178,389 1182,391 1188,394 1189,395 1193,397 1197,400 1199,401 1204,406 1204,406 1209,411 1210,412 1214,417 1215,419 1218,422 1221,427 1222,428 1225,433 1226,435 1228,439 1232,444 1232,445 1235,450 1238,454 1238,455 1242,460 1243,463 1245,466 1249,470 1250,471 1254,474 1260,477 1260,477 1265,477 1267,477 1271,476 1276,472 1277,471 1281,466 1282,464 1284,460 1286,455 1287,452 1288,450 1290,444 1291,439 1292,433 1293,428 1293,428 1294,422 1294,417 1294,411 1294,406 1294,400 1294,395 1294,389 1296,384 1298,378 1299,378 1304,373 1304,373 1310,369 1311,368 1315,365 1320,362 1321,362 1326,359 1329,357 1332,355 1337,351 1337,351 1343,346 1343,346 1348,340 1348,340 1354,335 1354,335 1359,329 1360,329 1365,324 1365,323 1370,318 1371,318 1375,313 1376,312 1380,307 1382,306 1386,302 1387,301 1392,296 1393,296 1398,291 1399,291 1404,288 1409,286 1409,286 1410,286 1410,291 1410,296 1410,302 1410,307 1410,313 1410,318 1410,324 1410,329 1410,335 1410,340 1410,346 1410,351 1410,357 1410,362 1410,368 1410,373 1410,378 1410,384 1410,389 1410,395 1410,400 1410,406 1410,411 1410,417 1410,422 1410,428 1410,433 1410,439 1410,444 1410,450 1410,455 1410,460 1410,466 1410,471 1410,477 1410,482 1410,488 1410,493 1410,499 1410,504 1410,510 1410,515 1410,521 1410,526 1410,532 1410,537 1410,542 1410,548 1410,553 1410,559 1410,564 1410,570 1410,575 1410,581 1410,586 1410,592 1410,597 1410,603 1410,608 1410,614 1410,619 1410,624 1410,630 1410,635 1410,641 1410,646 1410,652 1410,657 1410,663 1410,668 1410,674 1410,679 1410,685 1410,690 1410,696 1410,701 1410,706 1410,712 1410,717 1410,723 1410,728 1410,734 1410,739 1410,745 1410,750 1410,756 1410,761 1410,767 1410,772 1410,778 1410,783 1410,788 1404,788 1398,788 1393,788 1387,788 1382,788 1376,788 1371,788 1365,788 1360,788 1354,788 1348,788 1343,788 1337,788 1332,788 1326,788 1321,788 1315,788 1310,788 1304,788 1299,788 1293,788 1287,788 1282,788 1276,788 1271,788 1265,788 1260,788 1254,788 1249,788 1243,788 1238,788 1232,788 1226,788 1221,788 1215,788 1210,788 1204,788 1199,788 1193,788 1188,788 1182,788 1177,788 1171,788 1165,788 1160,788 1154,788 1149,788 1143,788 1138,788 1132,788 1127,788 1121,788 1116,788 1110,788 1104,788 1099,788 1093,788 1088,788 1082,788 1077,788 1071,788 1066,788 1060,788 1055,788 1049,788 1043,788 1038,788 1032,788 1027,788 1021,788 1016,788 1010,788 1005,788 999,788 994,788 988,788 982,788 977,788 971,788 966,788 960,788 955,788 949,788 944,788 938,788 933,788 927,788 921,788 916,788 910,788 905,788 899,788 894,788 888,788 883,788 877,788 872,788 866,788 860,788 855,788 849,788 844,788 838,788 833,788 827,788 822,788 816,788 811,788 805,788 799,788 794,788 788,788 783,788 777,788 772,788 766,788 761,788 755,788 749,788 744,788 738,788 733,788 727,788 722,788 716,788 711,788 705,788 700,788 694,788 688,788 683,788 677,788 672,788 666,788 661,788 655,788 650,788 644,788 639,788 633,788 627,788 622,788 616,788 611,788 605,788 600,788 594,788 589,788 583,788 578,788 572,788 566,788 561,788 555,788 550,788 544,788 539,788 533,788 528,788 522,788 517,788 511,788 505,788 500,788 494,788 489,788 483,788 478,788 472,788 467,788 461,788 456,788 450,788 444,788 439,788 433,788 428,788 422,788 417,788 411,788 406,788 400,788 395,788 389,788 383,788 378,788 372,788 367,788 361,788 356,788 350,788 345,788 339,788 334,788 328,788 322,788 317,788 311,788 306,788 300,788 295,788 289,788 284,788 278,788 273,788 267,788 261,788 256,788 250,788 245,788 239,788 234,788 228,788 223,788 217,788 212,788 206,788 200,788 195,788 189,788 184,788 178,788 173,788 167,788 162,788 156,788 151,788 145,788 139,788 134,788 128,788 123,788 117,788 112,788 106,788 101,788 95,788 89,788 84,788 78,788 78,783 78,778 78,772 78,767 78,761 78,756 78,750 78,745 78,739 78,734 78,728 78,723 78,717 78,712 78,706 78,701 78,696 78,690 78,685 78,679 78,674 78,668 78,663 78,657 78,652 78,646 78,641 78,635 78,630 78,624 78,619 78,614 78,608 78,603 78,597 78,592 78,586 78,581 78,575 78,570 78,564 78,559 78,553 78,548 78,542 78,537 78,532 78,526 78,521 78,515 78,510 78,504 78,499 78,493 78,488 78,482 78,477 78,471 78,466 78,460 78,455 78,450 78,444 78,439 78,433 78,428 78,422 78,417 78,411 78,406 78,400 78,395 78,389 78,384 78,378 78,373 78,368 78,362 78,357 78,351 78,346 78,340 78,335 78,329 78,324 78,318 78,313 78,307 78,302 78,296 78,291 78,286 78,280 78,275 78,269 78,264 78,260 81,258 84,256 88,253 89,251 93,247 94,242 94,236 95,234 97,231 101,226 101,225 106,221 108,220 112,218 117,215 118,214 123,213 128,211 134,209 136,209 139,208 145,207 151,206 156,206 162,205 167,205 173,204 178,204 184,204 189,204 189,204 195,203 200,203 206,203 212,203 217,203 223,203 228,203 234,203 239,203 245,203 250,203 256,203 261,203 267,203 273,203 278,202 284,202 289,201 295,201 300,200 306,199 311,198 311,198 317,197 322,195 328,194 334,193 334,193 339,191 345,190 350,189 356,189 361,188 367,188 372,187ZM1249,530 1246,532 1243,533 1238,537 1238,538 1233,542 1232,544 1229,548 1226,551 1225,553 1222,559 1221,560 1218,564 1215,569 1215,570 1210,575 1210,575 1204,581 1204,581 1199,585 1196,586 1193,588 1188,590 1182,591 1181,592 1177,592 1171,593 1165,594 1160,594 1154,595 1149,595 1143,596 1138,596 1132,596 1127,596 1121,596 1116,596 1110,596 1104,597 1099,597 1093,597 1090,597 1088,597 1082,598 1077,598 1071,599 1066,600 1060,601 1056,603 1055,603 1049,605 1043,608 1043,608 1038,610 1033,614 1032,614 1027,617 1024,619 1021,621 1018,624 1016,627 1014,630 1012,635 1012,641 1014,646 1016,649 1018,652 1021,654 1027,657 1027,657 1032,659 1038,660 1043,660 1049,660 1055,659 1060,658 1066,657 1066,657 1071,656 1077,655 1082,654 1088,653 1093,653 1099,652 1102,652 1104,652 1110,651 1116,651 1121,650 1127,650 1132,650 1138,650 1143,650 1149,650 1154,650 1160,650 1165,650 1171,651 1177,651 1182,651 1186,652 1188,652 1193,652 1199,653 1204,653 1210,654 1215,654 1221,655 1226,656 1232,656 1238,657 1243,657 1249,657 1254,657 1260,657 1265,656 1271,655 1276,653 1280,652 1282,651 1287,648 1289,646 1293,642 1294,641 1297,635 1299,633 1300,630 1301,624 1302,619 1302,614 1301,608 1299,603 1299,597 1299,597 1298,592 1297,586 1296,581 1296,575 1295,570 1294,564 1293,561 1292,559 1291,553 1288,548 1287,546 1286,542 1282,537 1282,537 1276,532 1276,532 1271,529 1265,528 1260,527 1254,528Z" fill="#0030ff" fill-rule="evenodd"/>
<path d="M366,198 367,198 372,197 378,197 383,197 389,197 395,197 400,197 406,198 411,198 412,198 417,198 422,199 428,199 433,200 439,200 444,201 450,201 456,201 461,202 467,202 472,203 478,203 481,204 483,204 489,204 494,205 500,206 505,207 511,209 511,209 517,211 522,213 526,214 528,215 533,217 539,220 539,220 544,222 550,225 551,225 555,228 560,231 561,231 566,236 567,236 571,242 572,243 576,247 578,250 580,253 583,257 584,258 589,262 591,264 594,265 600,267 605,268 611,268 616,268 622,268 627,268 632,269 633,270 638,275 639,275 642,280 644,283 646,286 649,291 650,292 652,296 655,301 656,302 660,307 661,309 664,313 666,315 670,318 672,320 676,324 677,325 683,329 683,329 688,334 689,335 694,339 695,340 700,343 703,346 705,347 711,349 714,351 716,352 722,353 727,355 733,356 734,357 738,357 744,358 749,358 755,359 761,358 766,358 772,358 777,357 783,357 787,357 788,356 794,356 799,355 805,355 811,354 816,354 822,354 827,354 833,354 838,354 844,355 849,356 853,357 855,357 860,358 866,360 871,362 872,362 877,364 883,367 885,368 888,369 894,371 899,372 905,372 910,372 916,372 921,371 927,371 933,370 938,369 944,369 949,369 955,368 960,368 966,368 971,368 977,368 982,369 988,369 994,370 999,370 1005,371 1010,373 1012,373 1016,374 1021,375 1027,377 1031,378 1032,379 1038,381 1043,383 1047,384 1049,385 1055,386 1060,388 1063,389 1066,391 1071,393 1074,395 1077,397 1081,400 1082,406 1079,411 1077,415 1075,417 1072,422 1071,424 1069,428 1068,433 1070,439 1071,440 1077,444 1077,444 1082,447 1088,449 1089,450 1093,451 1099,453 1104,455 1104,455 1110,457 1116,459 1121,460 1122,460 1127,462 1132,463 1138,464 1143,466 1144,466 1149,468 1154,470 1159,471 1160,472 1165,475 1168,477 1171,480 1173,482 1176,488 1177,488 1178,493 1178,499 1177,504 1177,510 1177,512 1176,515 1175,521 1173,526 1171,532 1171,532 1169,537 1166,542 1165,544 1163,548 1160,551 1158,553 1154,556 1150,559 1149,560 1143,562 1138,564 1135,564 1132,565 1127,566 1121,566 1116,566 1110,565 1104,565 1103,564 1099,564 1093,562 1088,561 1082,560 1080,559 1077,558 1071,557 1066,556 1060,555 1055,555 1049,554 1043,554 1038,554 1032,554 1027,555 1021,556 1016,557 1010,559 1010,559 1005,562 1000,564 999,565 994,570 994,571 990,575 988,579 987,581 984,586 982,588 979,592 977,593 971,596 968,597 966,598 960,598 955,598 949,597 949,597 944,596 938,595 933,594 927,593 921,592 916,592 916,592 910,591 905,591 899,591 895,592 894,592 888,593 883,595 879,597 877,599 874,603 872,608 871,608 870,614 869,619 869,624 868,630 868,635 868,641 868,646 867,652 866,655 865,657 864,663 861,668 860,670 859,674 856,679 855,683 854,685 852,690 850,696 849,696 847,701 845,706 844,709 842,712 840,717 838,722 838,723 837,728 836,734 836,739 837,745 838,745 844,749 847,750 849,751 855,752 860,753 866,753 872,754 877,755 883,756 883,756 888,756 894,757 899,757 905,757 910,757 916,757 921,757 927,757 933,756 938,756 938,756 944,755 949,754 955,752 960,751 962,750 966,749 971,747 976,745 977,744 982,742 987,739 988,739 994,735 995,734 999,731 1002,728 1005,726 1009,723 1010,722 1016,718 1017,717 1021,715 1026,712 1027,712 1032,709 1037,706 1038,706 1043,704 1049,701 1050,701 1055,699 1060,696 1062,696 1066,694 1071,691 1073,690 1077,688 1082,685 1082,685 1088,682 1092,679 1093,679 1099,676 1104,674 1104,674 1110,672 1116,670 1121,669 1125,668 1127,668 1132,667 1138,666 1143,666 1149,665 1154,665 1160,665 1165,664 1171,664 1177,664 1182,664 1188,664 1193,665 1199,665 1204,666 1210,666 1215,667 1221,667 1226,668 1228,668 1232,669 1238,669 1243,670 1249,670 1254,670 1260,670 1265,669 1271,669 1275,668 1276,668 1282,667 1287,666 1293,664 1296,663 1299,662 1304,659 1307,657 1310,655 1313,652 1315,648 1317,646 1319,641 1321,636 1321,635 1322,630 1324,624 1325,619 1325,614 1325,608 1325,603 1325,597 1325,592 1325,586 1325,581 1325,575 1325,570 1325,564 1324,559 1324,553 1324,548 1324,542 1323,537 1323,532 1322,526 1322,521 1321,516 1321,515 1320,510 1319,504 1320,499 1321,495 1321,493 1323,488 1324,482 1325,477 1326,471 1326,466 1326,466 1327,460 1327,455 1328,450 1329,444 1329,439 1329,433 1330,428 1330,422 1331,417 1331,411 1332,406 1332,406 1333,400 1334,395 1335,389 1337,384 1338,384 1342,378 1343,378 1348,373 1349,373 1354,368 1355,368 1360,363 1360,362 1365,357 1365,357 1370,351 1371,350 1374,346 1376,344 1380,340 1382,338 1385,335 1387,333 1391,329 1393,328 1398,324 1398,323 1404,319 1405,318 1410,315 1410,318 1410,324 1410,329 1410,335 1410,340 1410,346 1410,351 1410,357 1410,362 1410,368 1410,373 1410,378 1410,384 1410,389 1410,395 1410,400 1410,406 1410,411 1410,417 1410,422 1410,428 1410,433 1410,439 1410,444 1410,450 1410,455 1410,460 1410,466 1410,471 1410,477 1410,482 1410,488 1410,493 1410,499 1410,504 1410,510 1410,515 1410,521 1410,526 1410,532 1410,537 1410,542 1410,548 1410,553 1410,559 1410,564 1410,570 1410,575 1410,581 1410,586 1410,592 1410,597 1410,603 1410,608 1410,614 1410,619 1410,624 1410,630 1410,635 1410,641 1410,646 1410,652 1410,657 1410,663 1410,668 1410,674 1410,679 1410,685 1410,690 1410,696 1410,701 1410,706 1410,712 1410,717 1410,723 1410,728 1410,734 1410,739 1410,745 1410,750 1410,756 1410,761 1410,767 1410,772 1410,778 1410,783 1410,788 1404,788 1398,788 1393,788 1387,788 1382,788 1376,788 1371,788 1365,788 1360,788 1354,788 1348,788 1343,788 1337,788 1332,788 1326,788 1321,788 1315,788 1310,788 1304,788 1299,788 1293,788 1287,788 1282,788 1276,788 1271,788 1265,788 1260,788 1254,788 1249,788 1243,788 1238,788 1232,788 1226,788 1221,788 1215,788 1210,788 1204,788 1199,788 1193,788 1188,788 1182,788 1177,788 1171,788 1165,788 1160,788 1154,788 1149,788 1143,788 1138,788 1132,788 1127,788 1121,788 1116,788 1110,788 1104,788 1099,788 1093,788 1088,788 1082,788 1077,788 1071,788 1066,788 1060,788 1055,788 1049,788 1043,788 1038,788 1032,788 1027,788 1021,788 1016,788 1010,788 1005,788 999,788 994,788 988,788 982,788 977,788 971,788 966,788 960,788 955,788 949,788 944,788 938,788 933,788 927,788 921,788 916,788 910,788 905,788 899,788 894,788 888,788 883,788 877,788 872,788 866,788 860,788 855,788 849,788 844,788 838,788 833,788 827,788 822,788 816,788 811,788 805,788 799,788 794,788 788,788 783,788 777,788 772,788 766,788 761,788 755,788 749,788 744,788 738,788 733,788 727,788 722,788 716,788 711,788 705,788 700,788 694,788 688,788 683,788 677,788 672,788 666,788 661,788 655,788 650,788 644,788 639,788 633,788 627,788 622,788 616,788 611,788 605,788 600,788 594,788 589,788 583,788 578,788 572,788 566,788 561,788 555,788 550,788 544,788 539,788 533,788 528,788 522,788 517,788 511,788 505,788 500,788 494,788 489,788 483,788 478,788 472,788 467,788 461,788 456,788 450,788 444,788 439,788 433,788 428,788 422,788 417,788 411,788 406,788 400,788 395,788 389,788 383,788 378,788 372,788 367,788 361,788 356,788 350,788 345,788 339,788 334,788 328,788 322,788 317,788 311,788 306,788 300,788 295,788 289,788 284,788 278,788 273,788 267,788 261,788 256,788 250,788 245,788 239,788 234,788 228,788 223,788 217,788 212,788 206,788 200,788 195,788 189,788 184,788 178,788 173,788 167,788 162,788 156,788 151,788 145,788 139,788 134,788 128,788 123,788 117,788 112,788 106,788 101,788 95,788 89,788 84,788 78,788 78,783 78,778 78,772 78,767 78,761 78,756 78,750 78,745 78,739 78,734 78,728 78,723 78,717 78,712 78,706 78,701 78,696 78,690 78,685 78,679 78,674 78,668 78,663 78,657 78,652 78,646 78,641 78,635 78,630 78,624 78,619 78,614 78,608 78,603 78,597 78,592 78,586 78,581 78,575 78,570 78,564 78,559 78,553 78,548 78,542 78,537 78,532 78,526 78,521 78,515 78,510 78,504 78,499 78,493 78,488 78,482 78,477 78,471 78,466 78,460 78,455 78,450 78,444 78,439 78,433 78,428 78,422 78,417 78,411 78,406 78,400 78,395 78,389 78,384 78,378 78,373 78,368 78,362 78,357 78,351 78,346 78,340 78,335 78,329 78,324 78,318 78,313 78,307 78,302 78,296 78,291 78,286 79,286 84,283 89,280 89,280 95,276 97,275 101,272 104,269 106,267 110,264 112,262 116,258 117,257 121,253 123,251 125,247 127,242 128,240 130,236 134,233 138,231 139,230 145,228 151,226 153,225 156,225 162,223 167,222 173,221 178,220 182,220 184,220 189,219 195,219 200,218 206,218 212,217 217,217 223,217 228,217 234,217 239,216 245,216 250,216 256,216 261,216 267,216 273,215 278,215 284,215 284,214 289,214 295,213 300,213 306,212 311,211 317,209 318,209 322,208 328,206 334,205 338,204 339,203 345,202 350,201 356,200 361,199Z" fill="#0058ff" fill-rule="evenodd"/>
<path d="M362,209 367,208 372,208 378,207 383,207 389,207 395,207 400,207 406,208 411,208 417,208 422,209 424,209 428,209 433,210 439,210 444,211 450,211 456,212 461,212 467,212 472,213 478,213 483,214 487,214 489,215 494,216 500,217 505,218 511,219 513,220 517,221 522,223 528,224 531,225 533,226 539,228 544,230 546,231 550,233 555,236 556,236 561,240 563,242 566,246 568,247 572,253 572,254 575,258 578,263 578,264 582,269 583,270 589,274 591,275 594,277 599,280 600,280 605,285 606,286 610,291 611,293 613,296 616,302 616,302 619,307 622,313 622,313 625,318 627,322 629,324 633,328 635,329 639,331 644,334 645,335 650,336 655,338 661,340 661,340 666,342 672,344 675,346 677,347 683,349 688,351 688,351 694,353 700,355 704,357 705,357 711,359 716,360 722,362 722,362 727,363 733,364 738,365 744,366 749,366 755,367 761,367 766,367 772,366 777,366 783,366 788,366 794,365 799,365 805,365 811,364 816,364 822,365 827,365 833,366 838,367 840,368 844,369 849,371 854,373 855,374 860,377 863,378 866,380 871,384 872,384 877,388 880,389 883,391 888,394 893,395 894,395 899,396 905,396 910,395 911,395 916,394 921,392 927,390 928,389 933,388 938,386 944,385 949,384 950,384 955,383 960,383 966,382 971,382 977,383 982,383 988,384 990,384 994,385 999,386 1005,387 1010,388 1016,389 1016,389 1021,391 1027,392 1032,394 1035,395 1038,396 1043,398 1048,400 1048,406 1043,409 1040,411 1038,413 1032,417 1032,417 1027,422 1026,422 1022,428 1021,428 1019,433 1017,439 1018,444 1020,450 1021,451 1025,455 1027,457 1032,460 1032,461 1038,463 1043,465 1046,466 1049,467 1055,468 1060,470 1066,471 1067,471 1071,473 1077,475 1082,477 1083,477 1088,480 1092,482 1093,483 1099,488 1099,488 1104,493 1104,495 1106,499 1106,504 1104,509 1104,510 1102,515 1099,519 1098,521 1093,524 1091,526 1088,528 1082,530 1077,531 1076,532 1071,533 1066,534 1060,534 1055,535 1049,536 1043,536 1038,536 1032,536 1027,537 1021,537 1017,537 1016,537 1010,537 1005,538 999,538 994,539 988,540 982,541 977,542 975,542 971,544 966,547 964,548 960,551 957,553 955,555 950,559 949,560 944,563 942,564 938,567 933,569 930,570 927,571 921,572 916,573 910,574 905,575 905,575 899,576 894,577 888,577 883,578 877,579 872,580 866,580 864,581 860,581 855,583 849,585 845,586 844,587 838,592 838,593 837,597 838,603 838,608 838,608 839,614 840,619 841,624 842,630 842,635 842,641 841,646 840,652 838,654 837,657 833,663 833,663 828,668 827,669 823,674 822,676 819,679 816,683 815,685 811,690 811,691 807,696 805,698 803,701 799,706 799,706 796,712 794,717 794,717 792,723 790,728 788,733 788,734 786,739 784,745 783,749 782,750 783,753 783,756 788,759 794,761 794,761 799,763 805,764 811,766 815,767 816,767 822,769 827,771 831,772 833,773 838,775 843,778 844,778 849,781 855,783 855,783 860,786 864,788 860,788 855,788 849,788 844,788 838,788 833,788 827,788 822,788 816,788 811,788 805,788 799,788 794,788 788,788 783,788 777,788 772,788 766,788 761,788 755,788 749,788 744,788 738,788 733,788 727,788 722,788 716,788 711,788 705,788 700,788 694,788 688,788 683,788 677,788 672,788 666,788 661,788 655,788 650,788 644,788 639,788 633,788 627,788 622,788 616,788 611,788 605,788 600,788 594,788 589,788 583,788 578,788 572,788 566,788 561,788 555,788 550,788 544,788 539,788 533,788 528,788 522,788 517,788 511,788 505,788 500,788 494,788 489,788 483,788 478,788 472,788 467,788 461,788 456,788 450,788 444,788 439,788 433,788 428,788 422,788 417,788 411,788 406,788 400,788 395,788 389,788 383,788 378,788 372,788 367,788 361,788 356,788 350,788 345,788 339,788 334,788 328,788 322,788 317,788 311,788 306,788 300,788 295,788 289,788 284,788 278,788 273,788 267,788 261,788 256,788 250,788 245,788 239,788 234,788 228,788 223,788 217,788 212,788 206,788 200,788 195,788 189,788 184,788 178,788 173,788 167,788 162,788 156,788 151,788 145,788 139,788 134,788 128,788 123,788 117,788 112,788 106,788 101,788 95,788 89,788 84,788 78,788 78,783 78,778 78,772 78,767 78,761 78,756 78,750 78,745 78,739 78,734 78,728 78,723 78,717 78,712 78,706 78,701 78,696 78,690 78,685 78,679 78,674 78,668 78,663 78,657 78,652 78,646 78,641 78,635 78,630 78,624 78,619 78,614 78,608 78,603 78,597 78,592 78,586 78,581 78,575 78,570 78,564 78,559 78,553 78,548 78,542 78,537 78,532 78,526 78,521 78,515 78,510 78,504 78,499 78,493 78,488 78,482 78,477 78,471 78,466 78,460 78,455 78,450 78,444 78,439 78,433 78,428 78,422 78,417 78,411 78,406 78,400 78,395 78,389 78,384 78,378 78,373 78,368 78,362 78,357 78,351 78,346 78,340 78,335 78,329 78,324 78,318 78,313 78,311 84,308 85,307 89,305 93,302 95,300 100,296 101,296 106,291 107,291 112,287 113,286 117,282 119,280 123,277 125,275 128,271 131,269 134,266 136,264 139,261 142,258 145,256 149,253 151,252 156,248 157,247 162,245 167,243 171,242 173,241 178,240 184,239 189,238 195,237 196,236 200,236 206,235 212,234 217,233 223,233 228,232 234,231 239,231 239,231 245,230 250,230 256,230 261,229 267,229 273,228 278,228 284,227 289,226 295,226 295,225 300,225 306,224 311,222 317,221 320,220 322,219 328,218 334,216 339,214 339,214 345,213 350,211 356,210 361,209ZM1409,346 1409,345 1410,346 1410,351 1410,357 1410,362 1410,368 1410,373 1410,378 1410,384 1410,389 1410,395 1410,400 1410,406 1410,411 1410,417 1410,422 1410,428 1410,433 1410,439 1410,444 1410,450 1410,455 1410,460 1410,466 1410,471 1410,477 1410,482 1410,488 1410,493 1410,499 1410,504 1410,510 1410,515 1410,521 1410,526 1410,532 1410,537 1410,542 1410,548 1410,553 1410,559 1410,564 1410,570 1410,575 1410,581 1410,586 1410,592 1410,597 1410,603 1410,608 1410,614 1410,619 1410,624 1410,630 1410,635 1410,641 1410,646 1410,652 1410,657 1410,663 1410,668 1410,674 1410,679 1410,685 1410,690 1410,696 1410,701 1410,706 1410,712 1410,717 1410,723 1410,728 1410,734 1410,739 1410,745 1410,750 1410,756 1410,761 1410,767 1410,772 1410,778 1410,783 1410,788 1404,788 1398,788 1393,788 1387,788 1382,788 1376,788 1371,788 1365,788 1360,788 1354,788 1348,788 1343,788 1337,788 1332,788 1326,788 1321,788 1315,788 1310,788 1304,788 1299,788 1293,788 1287,788 1282,788 1276,788 1271,788 1265,788 1260,788 1254,788 1249,788 1243,788 1238,788 1232,788 1226,788 1221,788 1215,788 1210,788 1204,788 1199,788 1193,788 1188,788 1182,788 1177,788 1171,788 1165,788 1160,788 1154,788 1149,788 1143,788 1138,788 1132,788 1127,788 1121,788 1116,788 1110,788 1104,788 1099,788 1093,788 1088,788 1082,788 1077,788 1071,788 1066,788 1060,788 1055,788 1049,788 1043,788 1038,788 1032,788 1027,788 1021,788 1016,788 1010,788 1005,788 999,788 994,788 988,788 982,788 977,788 971,788 966,788 965,788 966,788 971,784 973,783 977,780 981,778 982,776 988,772 988,772 994,769 996,767 999,765 1005,761 1005,761 1010,758 1014,756 1016,754 1021,751 1023,750 1027,748 1032,745 1033,745 1038,742 1043,739 1043,739 1049,735 1052,734 1055,732 1060,729 1061,728 1066,726 1071,723 1071,723 1077,720 1081,717 1082,717 1088,714 1091,712 1093,711 1099,708 1102,706 1104,705 1110,702 1113,701 1116,700 1121,697 1124,696 1127,694 1132,692 1137,690 1138,690 1143,688 1149,686 1153,685 1154,684 1160,683 1165,682 1171,682 1177,681 1182,681 1188,681 1193,681 1199,681 1204,681 1210,682 1215,682 1221,682 1226,683 1232,683 1238,683 1243,683 1249,683 1254,683 1260,683 1265,682 1271,682 1276,681 1282,679 1283,679 1287,678 1293,677 1299,675 1304,674 1305,674 1310,672 1315,671 1321,669 1325,668 1326,668 1332,665 1337,663 1338,663 1343,658 1344,657 1347,652 1348,649 1349,646 1351,641 1352,635 1353,630 1353,624 1354,619 1354,614 1354,614 1355,608 1355,603 1354,599 1354,597 1353,592 1352,586 1351,581 1351,575 1350,570 1350,564 1349,559 1349,553 1349,548 1349,542 1349,537 1349,532 1349,526 1349,521 1349,515 1350,510 1350,504 1350,499 1350,493 1350,488 1350,482 1350,477 1350,471 1350,466 1351,460 1351,455 1351,450 1352,444 1352,439 1352,433 1353,428 1353,422 1354,419 1354,417 1356,411 1359,406 1360,405 1362,400 1365,395 1365,394 1368,389 1371,385 1372,384 1376,378 1376,378 1380,373 1382,371 1384,368 1387,364 1389,362 1393,357 1393,357 1398,352 1400,351 1404,348Z" fill="#0080ff" fill-rule="evenodd"/>
<path d="M363,220 367,219 372,219 378,218 383,218 389,218 395,218 400,218 406,218 411,219 417,219 422,219 428,220 433,220 434,220 439,220 444,221 450,221 456,222 461,222 467,223 472,223 478,224 483,225 489,225 489,225 494,226 500,228 505,229 511,230 516,231 517,231 522,232 528,234 533,235 537,236 539,237 544,239 550,241 550,242 555,245 558,247 561,251 562,253 565,258 566,262 567,264 569,269 572,274 572,275 576,280 578,283 579,286 581,291 583,296 583,299 584,302 585,307 587,313 589,317 589,318 594,324 594,324 600,328 601,329 605,332 609,335 611,335 616,338 620,340 622,341 627,343 633,345 636,346 639,346 644,348 650,349 655,350 659,351 661,352 666,353 672,355 677,356 678,357 683,358 688,360 694,362 695,362 700,364 705,365 711,367 713,368 716,368 722,370 727,371 733,372 737,373 738,373 744,374 749,374 755,375 761,375 766,375 772,375 777,375 783,374 788,374 794,374 799,374 805,374 811,374 816,375 822,375 827,376 833,378 835,378 838,380 844,382 847,384 849,385 855,389 856,389 860,392 864,395 866,397 871,400 872,401 877,404 880,406 883,407 888,410 893,411 894,411 899,413 905,413 910,414 916,413 921,413 927,412 932,411 933,411 938,410 944,408 948,406 949,405 955,403 960,400 960,400 966,399 971,398 977,398 982,398 988,399 994,400 994,400 999,405 1000,406 999,406 996,411 994,416 993,417 990,422 988,428 988,428 986,433 986,439 986,444 987,450 988,455 988,455 990,460 994,465 994,466 999,469 1004,471 1005,472 1010,473 1016,475 1021,476 1027,477 1029,477 1032,478 1038,479 1043,480 1049,482 1050,482 1055,484 1060,487 1062,488 1066,491 1068,493 1071,498 1071,499 1071,501 1071,504 1066,510 1066,510 1060,514 1057,515 1055,516 1049,518 1043,520 1038,521 1037,521 1032,521 1027,522 1021,522 1016,522 1010,523 1005,523 999,523 994,524 988,524 982,525 978,526 977,526 971,528 966,529 960,532 960,532 955,534 949,537 949,537 944,541 941,542 938,544 933,548 933,548 927,552 924,553 921,555 916,558 913,559 910,560 905,562 899,563 896,564 894,565 888,566 883,567 877,568 872,569 866,570 866,570 860,571 855,572 849,573 844,574 838,575 837,575 833,576 827,578 822,580 820,581 816,583 812,586 811,588 808,592 807,597 807,603 808,608 809,614 810,619 811,620 812,624 813,630 813,635 813,641 811,646 811,648 808,652 805,655 802,657 799,660 797,663 794,665 791,668 788,671 786,674 783,678 782,679 778,685 777,685 773,690 772,692 768,696 766,698 763,701 761,705 760,706 757,712 755,717 755,717 753,723 751,728 749,732 749,734 746,739 744,741 740,745 738,746 733,748 727,750 727,750 722,752 716,754 711,755 708,756 705,758 701,761 705,763 711,766 713,767 716,767 722,768 727,770 733,771 738,772 741,772 744,773 749,774 755,776 761,777 762,778 766,779 772,782 775,783 777,784 783,788 783,788 783,788 777,788 772,788 766,788 761,788 755,788 749,788 744,788 738,788 733,788 727,788 722,788 716,788 711,788 705,788 700,788 694,788 688,788 683,788 677,788 672,788 666,788 661,788 655,788 650,788 644,788 639,788 633,788 627,788 622,788 616,788 611,788 605,788 600,788 594,788 589,788 583,788 578,788 572,788 566,788 561,788 555,788 550,788 544,788 539,788 533,788 528,788 522,788 517,788 511,788 505,788 500,788 494,788 489,788 483,788 478,788 472,788 467,788 461,788 456,788 450,788 444,788 439,788 433,788 428,788 422,788 417,788 411,788 406,788 400,788 395,788 389,788 383,788 378,788 372,788 367,788 361,788 356,788 350,788 345,788 339,788 334,788 328,788 322,788 317,788 311,788 306,788 300,788 295,788 289,788 284,788 278,788 273,788 267,788 261,788 256,788 250,788 245,788 239,788 234,788 228,788 223,788 217,788 212,788 206,788 200,788 195,788 189,788 184,788 178,788 173,788 167,788 162,788 156,788 151,788 145,788 139,788 134,788 128,788 123,788 117,788 112,788 106,788 101,788 95,788 89,788 84,788 78,788 78,783 78,778 78,772 78,767 78,761 78,756 78,750 78,745 78,739 78,734 78,728 78,723 78,717 78,712 78,706 78,701 78,696 78,690 78,685 78,679 78,679 84,677 89,675 95,674 95,674 101,672 106,671 112,670 117,669 119,668 123,667 128,666 134,664 138,663 139,662 144,657 143,652 139,647 139,646 134,642 133,641 128,638 126,635 123,634 117,630 117,630 112,627 106,625 106,624 101,622 95,620 93,619 89,617 84,614 83,614 78,612 78,608 78,603 78,597 78,592 78,586 78,581 78,575 78,570 78,564 78,559 78,553 78,548 78,542 78,537 78,532 78,526 78,521 78,515 78,510 78,504 78,499 78,493 78,488 78,482 78,477 78,471 78,466 78,460 78,455 78,450 78,444 78,439 78,433 78,428 78,422 78,417 78,411 78,406 78,400 78,395 78,389 78,384 78,378 78,373 78,368 78,362 78,357 78,351 78,348 84,346 84,346 89,343 93,340 95,338 98,335 101,332 103,329 106,326 108,324 112,319 112,318 117,313 117,312 122,307 123,307 128,302 128,301 133,296 134,296 139,291 139,291 145,286 145,286 151,280 151,280 156,275 156,275 162,271 164,269 167,267 173,264 173,264 178,262 184,260 189,258 189,258 195,257 200,256 206,254 212,253 215,253 217,252 223,251 228,250 234,249 239,248 244,247 245,247 250,246 256,245 261,244 267,243 273,242 274,242 278,241 284,240 289,239 295,238 300,237 302,236 306,236 311,234 317,233 322,231 323,231 328,230 334,228 339,226 341,225 345,225 350,223 356,222 361,220ZM472,679 468,679 467,679 461,680 456,681 450,681 444,682 439,682 433,683 428,683 422,683 417,684 411,684 406,684 400,684 395,684 389,685 389,685 383,685 378,686 372,687 367,687 361,688 356,689 353,690 350,691 345,694 340,696 342,701 345,702 350,706 351,706 356,709 361,711 364,712 367,712 372,713 378,714 383,714 389,715 395,715 400,715 406,715 411,715 417,715 422,715 428,715 433,715 439,715 444,715 450,714 456,714 461,714 467,714 472,714 478,713 483,713 489,713 494,713 500,712 505,712 509,712 511,712 517,711 522,710 528,710 533,709 539,707 541,706 544,705 550,703 553,701 555,699 561,696 561,696 566,691 568,690 572,685 572,685 572,684 569,679 566,678 561,677 555,676 550,675 544,674 539,674 533,674 528,674 522,674 517,674 511,675 505,675 500,676 494,676 489,677 483,678 478,678ZM1407,373 1410,371 1410,373 1410,378 1410,384 1410,389 1410,395 1410,400 1410,406 1410,411 1410,417 1410,422 1410,428 1410,433 1410,439 1410,444 1410,450 1410,455 1410,460 1410,466 1410,471 1410,477 1410,482 1410,488 1410,493 1410,499 1410,504 1410,510 1410,515 1410,521 1410,526 1410,532 1410,537 1410,542 1410,548 1410,553 1410,559 1410,564 1410,570 1410,575 1410,581 1410,586 1410,592 1410,597 1410,603 1410,603 1409,603 1404,602 1398,600 1394,597 1393,597 1387,593 1386,592 1382,587 1381,586 1378,581 1376,578 1375,575 1373,570 1371,564 1371,561 1370,559 1369,553 1369,548 1368,542 1368,537 1368,532 1368,526 1368,521 1368,515 1369,510 1369,504 1369,499 1368,493 1368,488 1367,482 1367,477 1367,471 1367,466 1368,460 1368,455 1368,450 1368,444 1369,439 1369,433 1370,428 1371,422 1371,422 1372,417 1376,411 1376,410 1380,406 1382,403 1383,400 1387,395 1387,395 1391,389 1393,387 1396,384 1398,381 1401,378 1404,375ZM1372,674 1376,673 1382,673 1387,673 1393,673 1398,673 1404,674 1404,674 1410,674 1410,679 1410,685 1410,690 1410,696 1410,701 1410,706 1410,712 1410,717 1410,723 1410,728 1410,734 1410,739 1410,745 1410,750 1410,756 1410,761 1410,767 1410,772 1410,778 1410,783 1410,788 1404,788 1398,788 1393,788 1387,788 1382,788 1376,788 1371,788 1365,788 1360,788 1354,788 1348,788 1343,788 1337,788 1332,788 1326,788 1321,788 1315,788 1310,788 1304,788 1299,788 1293,788 1287,788 1282,788 1276,788 1271,788 1265,788 1260,788 1254,788 1249,788 1243,788 1238,788 1232,788 1226,788 1221,788 1215,788 1210,788 1204,788 1199,788 1193,788 1188,788 1182,788 1177,788 1171,788 1165,788 1160,788 1154,788 1149,788 1143,788 1138,788 1132,788 1127,788 1121,788 1116,788 1110,788 1104,788 1099,788 1093,788 1088,788 1082,788 1077,788 1071,788 1066,788 1060,788 1055,788 1049,788 1043,788 1038,788 1032,788 1027,788 1021,788 1016,788 1010,788 1005,788 1002,788 1005,785 1006,783 1010,780 1013,778 1016,776 1021,772 1021,772 1027,769 1031,767 1032,766 1038,763 1041,761 1043,760 1049,757 1052,756 1055,754 1060,751 1063,750 1066,749 1071,746 1073,745 1077,743 1082,740 1084,739 1088,737 1093,735 1096,734 1099,732 1104,730 1108,728 1110,728 1116,725 1121,723 1121,723 1127,720 1132,718 1133,717 1138,716 1143,713 1146,712 1149,711 1154,709 1160,707 1161,706 1165,705 1171,704 1177,703 1182,702 1188,701 1188,701 1193,701 1199,700 1204,700 1210,700 1215,700 1221,700 1226,700 1232,700 1238,699 1243,699 1249,699 1254,699 1260,698 1265,697 1271,696 1274,696 1276,695 1282,694 1287,692 1293,690 1293,690 1299,688 1304,687 1310,685 1310,685 1315,683 1321,682 1326,680 1332,679 1332,679 1337,678 1343,677 1348,676 1354,676 1360,675 1365,674 1371,674Z" fill="#00a4ff" fill-rule="evenodd"/>
<path d="M371,231 372,231 378,230 383,230 389,229 395,229 400,229 406,229 411,229 417,230 422,230 428,230 433,230 439,231 442,231 444,231 450,232 456,232 461,233 467,234 472,234 478,235 483,236 483,236 489,238 494,239 500,240 505,241 509,242 511,242 517,243 522,244 528,245 533,246 538,247 539,247 544,250 549,253 550,254 553,258 554,264 554,269 554,275 553,280 552,286 550,291 550,291 549,296 550,300 550,302 552,307 554,313 555,317 556,318 558,324 561,328 562,329 566,332 570,335 572,336 578,338 583,340 584,340 589,342 594,344 599,346 600,346 605,348 611,350 616,351 616,351 622,352 627,354 633,355 639,356 644,357 644,357 650,358 655,359 661,361 666,362 666,362 672,364 677,365 683,367 684,368 688,369 694,371 700,372 703,373 705,374 711,375 716,377 722,378 723,378 727,380 733,381 738,382 744,383 749,383 755,383 761,384 766,384 772,384 777,384 783,384 788,384 794,384 799,384 805,384 808,384 811,384 816,385 822,386 827,387 833,389 834,389 838,391 844,394 845,395 849,398 853,400 855,402 860,406 860,406 866,410 868,411 872,414 876,417 877,418 883,420 887,422 888,423 894,425 899,426 905,427 906,428 910,428 916,429 921,430 927,431 933,433 934,433 938,434 944,437 947,439 949,440 952,444 955,448 956,450 958,455 960,460 960,460 963,466 965,471 966,473 968,477 971,481 973,482 977,486 981,488 982,489 988,492 991,493 994,497 995,499 994,499 988,502 983,504 982,504 977,506 971,509 971,510 966,512 961,515 960,516 955,519 952,521 949,523 944,526 944,526 938,530 936,532 933,534 927,537 927,537 921,540 918,542 916,543 910,546 906,548 905,548 899,551 894,552 889,553 888,554 883,555 877,556 872,558 866,559 865,559 860,560 855,561 849,562 844,563 838,564 838,564 833,565 827,567 822,569 818,570 816,570 811,572 805,575 804,575 799,578 794,581 794,581 788,586 788,586 783,592 783,592 779,597 777,602 777,603 775,608 772,614 772,616 770,619 768,624 766,628 765,630 762,635 761,638 759,641 755,645 753,646 749,648 744,651 741,652 738,653 733,654 727,654 722,655 716,655 711,655 705,655 700,655 694,655 688,654 683,654 677,654 672,654 666,654 661,654 655,653 650,653 644,653 639,653 633,653 627,653 622,654 616,654 611,654 605,655 600,656 594,656 589,657 588,657 583,658 578,659 572,660 566,661 561,662 555,662 550,663 550,663 544,663 539,664 533,664 528,665 522,665 517,666 511,666 505,667 500,667 494,668 491,668 489,668 483,669 478,670 472,670 467,671 461,672 456,672 450,673 444,673 439,673 435,674 433,674 428,674 422,675 417,675 411,675 406,675 400,676 395,676 389,676 383,676 378,677 372,677 367,677 361,677 356,678 350,678 345,679 339,679 337,679 334,679 328,680 322,681 317,681 311,681 306,682 300,682 295,682 289,681 284,681 278,680 275,679 273,679 267,678 261,676 256,675 253,674 250,673 245,672 239,670 234,669 232,668 228,667 223,666 217,665 212,664 208,663 206,662 200,661 195,659 190,657 189,657 184,654 180,652 178,650 173,646 173,646 167,642 165,641 162,638 158,635 156,634 151,630 151,629 145,626 143,624 139,623 134,620 132,619 128,617 123,614 123,613 117,609 116,608 112,605 109,603 106,600 101,597 101,597 95,594 90,592 89,591 84,590 78,588 78,586 78,581 78,575 78,570 78,564 78,559 78,553 78,548 78,542 78,537 78,532 78,526 78,521 78,515 78,510 78,504 78,499 78,493 78,488 78,482 78,477 78,471 78,466 78,460 78,455 78,450 78,444 78,439 78,433 78,428 78,422 78,417 78,411 78,406 78,400 78,395 78,389 78,384 78,378 78,373 78,373 84,373 89,373 94,373 95,373 95,373 101,373 106,372 112,372 117,371 123,370 128,369 134,368 134,368 139,366 145,364 151,363 152,362 156,359 158,357 160,351 159,346 157,340 156,338 155,335 155,329 156,324 156,324 159,318 162,315 164,313 167,309 169,307 173,305 176,302 178,300 183,296 184,296 189,292 190,291 195,288 198,286 200,284 206,280 206,280 212,277 216,275 217,274 223,272 228,270 229,269 234,268 239,266 245,264 246,264 250,263 256,261 261,260 267,258 268,258 273,257 278,256 284,255 289,254 292,253 295,252 300,251 306,250 311,248 313,247 317,246 322,245 328,243 330,242 334,241 339,239 345,237 346,236 350,235 356,234 361,233 367,232ZM1409,395 1410,394 1410,395 1410,400 1410,406 1410,411 1410,417 1410,422 1410,428 1410,433 1410,439 1410,444 1410,450 1410,455 1410,460 1410,466 1410,471 1410,477 1410,482 1410,488 1410,493 1410,499 1410,504 1410,510 1410,515 1410,521 1410,526 1410,532 1410,537 1410,542 1410,548 1410,553 1410,559 1410,564 1410,570 1410,575 1410,580 1404,578 1401,575 1398,573 1395,570 1393,566 1392,564 1389,559 1387,553 1387,553 1386,548 1385,542 1384,537 1383,532 1383,526 1383,521 1383,515 1383,510 1383,504 1383,499 1383,493 1382,488 1382,482 1382,478 1382,477 1382,471 1382,466 1382,462 1382,460 1382,455 1382,450 1383,444 1383,439 1383,433 1384,428 1385,422 1387,417 1387,417 1392,411 1393,410 1397,406 1398,404 1402,400 1404,399ZM150,696 151,696 156,695 162,695 167,695 173,695 178,695 181,696 184,696 189,696 195,696 200,696 206,697 212,697 217,697 223,698 228,698 234,699 239,699 245,700 250,700 254,701 256,701 261,702 267,703 273,704 278,705 284,706 288,706 289,707 295,708 300,709 306,710 311,712 311,712 317,714 322,715 328,717 329,717 334,718 339,720 345,721 350,721 356,722 361,723 364,723 367,723 372,723 378,724 383,724 389,724 395,724 400,724 406,724 411,724 417,724 422,724 428,724 433,724 439,724 444,723 450,723 456,723 456,723 461,723 467,722 472,722 478,721 483,721 489,721 494,720 500,720 505,719 511,719 517,719 522,719 528,718 533,718 539,718 543,717 544,717 550,717 555,716 561,715 566,714 572,713 573,712 578,710 583,708 587,706 589,706 594,704 600,703 605,702 611,701 616,701 617,701 622,701 627,701 633,701 639,701 640,701 644,701 650,702 655,702 661,703 666,703 672,704 677,705 682,706 683,707 688,711 690,712 688,715 687,717 683,720 677,722 672,723 671,723 666,724 661,724 655,724 650,724 644,724 639,724 633,725 627,725 622,725 616,725 611,725 605,726 600,727 594,728 593,728 589,730 584,734 583,735 579,739 578,742 576,745 575,750 574,756 575,761 576,767 577,772 578,773 579,778 583,783 583,784 586,788 583,788 578,788 572,788 566,788 561,788 555,788 550,788 544,788 539,788 533,788 528,788 522,788 517,788 511,788 505,788 500,788 494,788 489,788 483,788 478,788 472,788 467,788 461,788 456,788 450,788 444,788 439,788 433,788 428,788 422,788 417,788 411,788 406,788 400,788 395,788 389,788 383,788 378,788 372,788 367,788 361,788 356,788 350,788 345,788 339,788 334,788 328,788 322,788 317,788 311,788 306,788 300,788 295,788 289,788 284,788 278,788 273,788 267,788 261,788 256,788 250,788 245,788 239,788 234,788 228,788 223,788 217,788 212,788 206,788 200,788 195,788 189,788 184,788 178,788 173,788 167,788 162,788 156,788 151,788 145,788 139,788 134,788 128,788 123,788 117,788 112,788 106,788 101,788 95,788 89,788 84,788 78,788 78,783 78,778 78,772 78,767 78,761 78,756 78,750 78,745 78,739 78,734 78,728 78,723 78,717 78,715 84,713 86,712 89,710 95,708 98,706 101,705 106,703 112,702 115,701 117,700 123,699 128,698 134,697 139,696 145,696ZM1330,696 1332,695 1337,694 1343,693 1348,692 1354,691 1360,691 1365,690 1371,690 1376,690 1382,691 1387,692 1393,692 1398,693 1404,694 1410,695 1410,696 1410,701 1410,706 1410,712 1410,717 1410,723 1410,728 1410,734 1410,739 1410,745 1410,750 1410,756 1410,761 1410,767 1410,772 1410,778 1410,783 1410,788 1404,788 1398,788 1393,788 1387,788 1382,788 1376,788 1371,788 1365,788 1360,788 1354,788 1348,788 1343,788 1337,788 1332,788 1326,788 1321,788 1315,788 1310,788 1304,788 1299,788 1293,788 1287,788 1282,788 1276,788 1271,788 1265,788 1260,788 1254,788 1249,788 1243,788 1238,788 1232,788 1226,788 1221,788 1215,788 1210,788 1204,788 1199,788 1193,788 1188,788 1182,788 1177,788 1171,788 1165,788 1160,788 1154,788 1149,788 1143,788 1138,788 1132,788 1127,788 1121,788 1116,788 1110,788 1104,788 1099,788 1093,788 1088,788 1082,788 1077,788 1071,788 1066,788 1060,788 1055,788 1049,788 1043,788 1038,788 1032,788 1029,788 1032,786 1035,783 1038,782 1043,778 1045,778 1049,775 1055,773 1056,772 1060,770 1066,767 1067,767 1071,764 1077,761 1077,761 1082,758 1087,756 1088,755 1093,753 1099,750 1099,750 1104,748 1110,746 1112,745 1116,743 1121,741 1127,739 1127,739 1132,737 1138,736 1143,734 1143,734 1149,732 1154,730 1159,728 1160,728 1165,726 1171,725 1177,723 1179,723 1182,722 1188,721 1193,720 1199,720 1204,719 1210,719 1215,718 1221,718 1226,718 1232,717 1233,717 1238,717 1243,717 1249,717 1254,716 1260,716 1265,715 1271,715 1276,714 1282,713 1285,712 1287,711 1293,710 1299,708 1303,706 1304,706 1310,704 1315,701 1316,701 1321,699 1326,697Z" fill="#00ccff" fill-rule="evenodd"/>
<path d="M371,247 372,247 378,246 383,245 389,244 395,244 400,244 406,243 411,243 417,243 422,244 428,244 433,244 439,245 444,245 450,246 456,247 459,247 461,248 467,249 472,250 478,251 483,252 488,253 489,253 494,254 500,255 505,256 511,257 517,258 518,258 522,260 527,264 524,269 522,270 517,272 511,273 505,274 500,274 496,275 494,275 489,275 483,275 478,275 472,275 467,275 461,276 456,276 450,276 444,277 439,278 433,279 430,280 428,281 422,284 420,286 418,291 422,296 422,297 428,300 431,302 433,303 439,305 444,307 448,307 450,308 456,309 461,310 467,310 472,311 478,311 483,312 489,312 494,313 497,313 500,313 505,314 511,315 517,317 520,318 522,320 528,324 528,324 533,329 533,329 538,335 539,335 544,340 544,341 550,345 551,346 555,349 559,351 561,352 566,355 571,357 572,357 578,359 583,360 589,361 594,361 600,362 605,362 607,362 611,362 616,363 622,363 627,364 633,364 639,365 644,366 650,367 651,368 655,369 661,370 666,372 670,373 672,374 677,375 683,377 688,378 689,378 694,380 700,381 705,382 711,384 711,384 716,385 722,387 727,388 732,389 733,390 738,391 744,392 749,392 755,393 761,393 766,393 772,393 777,393 783,393 788,392 794,392 799,393 805,393 811,393 816,394 820,395 822,395 827,397 833,399 835,400 838,402 844,406 844,406 849,410 851,411 855,414 858,417 860,418 866,422 866,422 872,426 875,428 877,429 883,431 887,433 888,434 894,436 899,438 902,439 905,440 910,442 916,444 916,444 921,447 926,450 927,450 932,455 933,455 937,460 938,461 942,466 944,469 945,471 946,477 948,482 949,485 950,488 951,493 950,499 949,501 948,504 944,510 944,510 939,515 938,516 933,520 932,521 927,525 925,526 921,528 916,532 916,532 910,535 905,537 905,537 899,540 894,542 890,542 888,543 883,545 877,546 872,547 866,548 865,548 860,549 855,550 849,551 844,552 838,553 836,553 833,554 827,556 822,557 816,559 816,559 811,561 805,563 802,564 799,566 794,568 791,570 788,571 783,574 781,575 777,577 772,581 772,581 766,585 764,586 761,589 755,592 755,592 749,595 746,597 744,599 738,602 737,603 733,605 728,608 727,609 722,612 719,614 716,616 711,619 710,619 705,622 700,624 699,624 694,626 688,628 683,629 679,630 677,630 672,631 666,632 661,632 655,633 650,633 644,633 639,634 633,634 627,635 625,635 622,636 616,637 611,638 605,639 600,641 600,641 594,642 589,644 583,645 580,646 578,647 572,648 566,650 561,651 558,652 555,653 550,654 544,655 539,656 533,657 530,657 528,658 522,658 517,659 511,660 505,660 500,661 494,661 489,662 483,662 480,663 478,663 472,664 467,664 461,665 456,665 450,666 444,666 439,667 433,667 428,668 422,668 417,668 416,668 411,669 406,669 400,669 395,669 389,669 383,670 378,670 372,670 367,670 361,670 356,670 350,670 345,670 339,670 334,670 328,670 322,670 317,670 311,670 306,670 300,669 295,669 292,668 289,668 284,667 278,666 273,665 267,663 265,663 261,662 256,661 250,660 245,659 239,658 235,657 234,657 228,656 223,654 217,653 213,652 212,651 206,649 201,646 200,646 195,643 191,641 189,640 184,636 183,635 178,632 176,630 173,627 169,624 167,623 162,619 161,619 156,615 154,614 151,611 148,608 145,605 143,603 139,599 138,597 134,593 133,592 128,587 128,586 124,581 123,579 121,575 117,572 115,570 112,568 106,566 101,564 100,564 95,564 89,564 84,564 78,564 78,559 78,553 78,548 78,542 78,537 78,532 78,526 78,521 78,515 78,510 78,504 78,499 78,493 78,488 78,482 78,477 78,471 78,466 78,460 78,455 78,450 78,444 78,439 78,433 78,428 78,422 78,417 78,411 78,406 78,400 78,395 78,389 78,386 84,386 89,387 95,388 101,388 106,388 112,387 117,385 123,384 123,384 128,382 134,381 139,379 142,378 145,378 151,376 156,375 162,374 164,373 167,372 173,370 178,369 182,368 184,367 189,364 193,362 195,360 198,357 200,352 201,351 202,346 204,340 206,337 207,335 212,329 212,329 217,325 218,324 223,321 226,318 228,317 233,313 234,312 239,307 239,307 244,302 245,301 249,296 250,295 254,291 256,290 261,286 262,286 267,282 271,280 273,279 278,277 283,275 284,274 289,272 295,270 298,269 300,269 306,267 311,266 317,264 319,264 322,263 328,262 334,260 339,258 340,258 345,257 350,255 355,253 356,253 361,251 367,249ZM1409,411 1410,411 1410,411 1410,417 1410,422 1410,428 1410,433 1410,439 1410,444 1410,450 1410,455 1410,460 1410,466 1410,471 1410,477 1410,482 1410,488 1410,493 1410,499 1410,504 1410,510 1410,515 1410,521 1410,526 1410,532 1410,537 1410,542 1410,548 1410,553 1410,556 1407,553 1404,549 1403,548 1401,542 1399,537 1398,533 1398,532 1398,526 1397,521 1397,515 1397,510 1397,504 1396,499 1396,493 1395,488 1395,482 1395,477 1395,471 1394,466 1395,460 1395,455 1395,450 1395,444 1396,439 1397,433 1397,428 1398,423 1399,422 1402,417 1404,415ZM149,717 151,717 156,717 162,717 167,716 173,716 178,716 184,717 189,717 195,717 200,717 206,717 209,717 212,718 217,718 223,718 228,718 234,719 239,719 245,719 250,720 256,720 261,721 267,722 273,722 277,723 278,723 284,724 289,726 295,727 300,728 303,728 306,729 311,730 317,731 322,732 328,732 334,733 339,733 345,733 350,733 356,734 361,734 367,734 372,734 378,734 383,734 389,734 395,734 400,734 406,734 411,734 417,734 422,734 428,734 433,733 439,733 444,733 450,733 456,732 461,732 467,732 472,731 478,731 483,730 489,730 494,729 500,728 500,728 505,728 511,728 517,728 521,728 522,729 528,730 533,733 534,734 537,739 539,742 540,745 541,750 542,756 543,761 544,766 544,767 545,772 547,778 548,783 549,788 544,788 539,788 533,788 528,788 522,788 517,788 511,788 505,788 500,788 494,788 489,788 483,788 478,788 472,788 467,788 461,788 456,788 450,788 444,788 439,788 433,788 428,788 422,788 417,788 411,788 406,788 400,788 395,788 389,788 383,788 378,788 372,788 367,788 361,788 356,788 350,788 345,788 339,788 334,788 328,788 322,788 317,788 311,788 306,788 300,788 295,788 289,788 284,788 278,788 273,788 267,788 261,788 256,788 250,788 245,788 239,788 234,788 228,788 223,788 217,788 212,788 206,788 200,788 195,788 189,788 184,788 178,788 173,788 167,788 162,788 156,788 151,788 145,788 139,788 134,788 128,788 123,788 117,788 112,788 106,788 101,788 95,788 89,788 84,788 78,788 78,783 78,778 78,772 78,767 78,761 78,756 78,750 78,745 78,739 78,737 84,737 89,736 95,734 98,734 101,733 106,731 112,729 114,728 117,727 123,725 127,723 128,723 134,721 139,719 145,718ZM1355,723 1360,722 1365,721 1371,721 1376,720 1382,719 1387,719 1393,719 1398,719 1404,719 1410,719 1410,723 1410,728 1410,734 1410,739 1410,745 1410,750 1410,756 1410,761 1410,767 1410,772 1410,778 1410,783 1410,788 1404,788 1398,788 1393,788 1387,788 1382,788 1376,788 1371,788 1365,788 1360,788 1354,788 1348,788 1343,788 1337,788 1332,788 1326,788 1321,788 1315,788 1310,788 1304,788 1299,788 1293,788 1287,788 1282,788 1276,788 1271,788 1265,788 1260,788 1254,788 1249,788 1243,788 1238,788 1232,788 1226,788 1221,788 1215,788 1210,788 1204,788 1199,788 1193,788 1188,788 1182,788 1177,788 1171,788 1165,788 1160,788 1154,788 1149,788 1143,788 1138,788 1132,788 1127,788 1121,788 1116,788 1110,788 1104,788 1099,788 1093,788 1088,788 1082,788 1077,788 1071,788 1068,788 1071,786 1076,783 1077,782 1082,780 1086,778 1088,777 1093,774 1098,772 1099,771 1104,768 1107,767 1110,765 1116,762 1116,761 1121,759 1127,756 1128,756 1132,754 1138,752 1143,751 1144,750 1149,749 1154,747 1160,746 1164,745 1165,744 1171,743 1177,742 1182,740 1187,739 1188,739 1193,738 1199,737 1204,736 1210,735 1215,735 1221,734 1225,734 1226,734 1232,733 1238,733 1243,732 1249,732 1254,732 1260,731 1265,731 1271,731 1276,730 1282,730 1287,730 1293,729 1299,729 1304,728 1306,728 1310,728 1315,727 1321,727 1326,726 1332,726 1337,725 1343,724 1348,724 1354,723Z" fill="#0cf4eb" fill-rule="evenodd"/>
<path d="M343,296 345,296 350,296 350,296 356,297 361,298 367,299 372,301 374,302 378,303 383,306 386,307 389,309 395,312 397,313 400,314 406,316 411,318 412,318 417,320 422,321 428,322 433,323 435,324 439,325 444,325 450,326 456,327 461,328 467,328 472,329 474,329 478,330 483,331 489,332 494,334 498,335 500,335 505,338 511,340 511,340 517,343 522,346 522,346 528,349 531,351 533,352 539,357 539,357 544,361 545,362 550,366 552,368 555,370 561,372 563,373 566,374 572,374 578,374 583,374 589,374 594,374 600,374 605,374 611,374 616,374 622,374 627,374 633,374 639,375 644,376 650,377 654,378 655,379 661,380 666,382 672,383 675,384 677,385 683,386 688,387 694,388 699,389 700,390 705,391 711,393 716,394 718,395 722,396 727,398 733,399 738,400 738,401 744,401 749,402 755,402 761,403 766,403 772,403 777,402 783,402 788,402 794,402 799,402 805,403 811,403 816,404 822,406 822,406 827,408 833,410 834,411 838,414 842,417 844,418 849,422 849,422 855,426 857,428 860,430 865,433 866,434 872,437 875,439 877,440 883,443 886,444 888,445 894,448 897,450 899,451 905,454 907,455 910,457 916,460 916,461 921,464 924,466 927,470 928,471 930,477 932,482 933,484 933,488 934,493 933,499 933,499 930,504 927,510 927,510 922,515 921,516 916,520 915,521 910,523 906,526 905,526 899,529 894,531 893,532 888,533 883,535 877,536 872,537 872,537 866,538 860,539 855,540 849,541 844,542 839,542 838,543 833,544 827,545 822,546 816,547 814,548 811,549 805,551 799,553 799,553 794,556 788,559 788,559 783,561 777,564 777,564 772,567 766,570 766,570 761,573 755,575 755,575 749,578 744,580 742,581 738,582 733,584 727,585 722,586 721,586 716,587 711,588 705,590 700,591 695,592 694,592 688,593 683,595 677,597 676,597 672,599 666,601 661,602 660,603 655,604 650,606 644,607 640,608 639,608 633,609 627,611 622,612 616,613 611,614 611,614 605,615 600,617 594,619 594,619 589,623 586,624 583,627 580,630 578,632 572,635 572,636 566,638 561,641 560,641 555,643 550,644 544,646 542,646 539,647 533,648 528,650 522,651 517,651 514,652 511,652 505,653 500,654 494,654 489,655 483,655 478,656 472,656 467,657 461,657 461,657 456,658 450,658 444,659 439,659 433,660 428,660 422,660 417,661 411,661 406,661 400,662 395,662 389,662 383,662 378,662 372,662 367,662 361,662 356,662 350,662 345,661 339,661 334,661 328,660 322,660 317,659 311,658 306,658 304,657 300,657 295,656 289,655 284,654 278,654 273,653 267,652 267,652 261,651 256,650 250,649 245,648 239,647 236,646 234,646 228,644 223,642 218,641 217,640 212,638 206,635 206,635 200,631 199,630 195,626 193,624 189,621 187,619 184,616 182,614 178,609 177,608 173,603 173,602 170,597 167,593 166,592 162,586 162,586 157,581 156,579 153,575 151,572 149,570 145,564 145,564 141,559 139,557 137,553 134,550 131,548 128,546 124,542 123,542 117,539 112,537 111,537 106,536 101,534 95,533 89,533 84,533 78,533 78,532 78,526 78,521 78,515 78,510 78,504 78,499 78,493 78,488 78,482 78,477 78,471 78,466 78,460 78,455 78,450 78,444 78,439 78,433 78,428 78,422 78,417 78,411 78,406 78,400 78,398 84,399 89,400 95,400 101,400 106,399 112,398 117,396 120,395 123,394 128,391 133,389 134,389 139,387 145,385 151,384 151,384 156,383 162,381 167,380 173,379 174,378 178,377 184,376 189,374 194,373 195,373 200,371 206,369 211,368 212,367 217,365 223,363 224,362 228,360 234,357 234,357 239,354 245,352 248,351 250,351 256,349 261,348 267,347 273,347 278,346 281,346 284,345 289,344 295,343 300,341 305,340 306,339 311,336 313,335 315,329 314,324 311,319 311,318 308,313 309,307 311,306 317,302 317,302 322,300 328,299 334,297 339,297ZM1320,745 1321,745 1326,745 1332,745 1337,745 1343,745 1348,744 1354,744 1360,744 1365,744 1371,744 1376,744 1382,744 1387,744 1393,744 1398,744 1404,744 1410,744 1410,745 1410,750 1410,756 1410,761 1410,767 1410,772 1410,778 1410,783 1410,788 1404,788 1398,788 1393,788 1387,788 1382,788 1376,788 1371,788 1365,788 1360,788 1354,788 1348,788 1343,788 1337,788 1332,788 1326,788 1321,788 1315,788 1310,788 1304,788 1299,788 1293,788 1287,788 1282,788 1276,788 1271,788 1265,788 1260,788 1254,788 1249,788 1243,788 1238,788 1232,788 1226,788 1221,788 1217,788 1215,787 1210,784 1208,783 1204,782 1199,780 1193,779 1188,778 1188,778 1182,776 1177,775 1171,774 1165,772 1165,772 1160,767 1165,764 1171,761 1171,761 1177,760 1182,758 1188,757 1193,756 1195,756 1199,755 1204,754 1210,753 1215,753 1221,752 1226,751 1231,750 1232,750 1238,750 1243,749 1249,748 1254,748 1260,748 1265,747 1271,747 1276,746 1282,746 1287,746 1293,746 1299,745 1304,745 1310,745 1315,745ZM190,750 195,749 200,748 206,747 212,746 217,746 223,746 228,747 234,748 239,749 242,750 240,756 239,756 234,758 228,759 223,759 217,760 212,760 206,760 200,759 195,758 189,756 188,756 189,753ZM78,761 78,759 84,759 89,760 95,761 99,761 101,761 106,762 112,763 117,763 123,764 128,765 134,765 139,766 145,767 145,767 151,768 156,769 162,771 163,772 167,776 168,778 171,783 172,788 167,788 162,788 156,788 151,788 145,788 139,788 134,788 128,788 123,788 117,788 112,788 106,788 101,788 95,788 89,788 84,788 78,788 78,783 78,778 78,772 78,767Z" fill="#2cffca" fill-rule="evenodd"/>
<path d="M363,346 367,345 372,344 378,344 383,343 389,343 395,344 400,344 406,344 411,345 417,346 418,346 422,346 428,347 433,347 439,348 444,348 450,348 456,349 461,349 467,350 472,350 478,351 479,351 483,352 489,352 494,353 500,354 505,356 508,357 511,357 517,360 522,362 522,362 528,366 530,368 533,370 536,373 539,375 544,378 544,378 550,381 555,383 560,384 561,384 566,385 572,385 578,384 583,384 586,384 589,384 594,383 600,383 605,383 611,383 616,383 622,383 627,383 633,383 637,384 639,384 644,385 650,386 655,387 661,389 664,389 666,390 672,391 677,392 683,393 688,395 690,395 694,396 700,398 705,399 708,400 711,401 716,403 722,405 723,406 727,407 733,409 738,410 742,411 744,412 749,413 755,413 761,414 766,414 772,414 777,414 783,413 788,413 794,413 799,414 805,414 811,415 816,416 818,417 822,418 827,420 830,422 833,424 838,428 838,428 844,432 845,433 849,436 853,439 855,440 860,444 861,444 866,447 870,450 872,451 877,454 879,455 883,457 888,459 891,460 894,462 899,464 904,466 905,467 910,471 911,471 915,477 916,480 917,482 918,488 918,493 916,499 916,500 914,504 910,510 910,510 905,515 904,515 899,518 894,521 894,521 888,523 883,525 878,526 877,526 872,528 866,529 860,530 855,531 849,531 848,532 844,532 838,533 833,534 827,535 822,536 816,537 815,537 811,538 805,539 799,541 796,542 794,543 788,545 783,548 783,548 777,551 772,553 772,553 766,556 761,559 760,559 755,561 749,563 745,564 744,565 738,566 733,568 727,569 722,570 720,570 716,570 711,571 705,572 700,573 694,574 688,575 684,575 683,576 677,577 672,579 666,581 666,581 661,583 655,585 653,586 650,587 644,590 639,592 639,592 633,594 627,596 622,597 622,597 616,599 611,600 605,602 602,603 600,603 594,605 589,607 584,608 583,608 578,611 572,614 572,614 566,618 565,619 561,623 559,624 555,628 554,630 550,632 544,635 544,635 539,637 533,639 528,640 526,641 522,642 517,643 511,644 505,644 500,645 494,646 489,646 488,646 483,647 478,647 472,648 467,648 461,649 456,649 450,650 444,650 439,650 433,651 428,651 422,652 421,652 417,652 411,652 406,653 400,653 395,653 389,653 383,654 378,654 372,653 367,653 361,653 356,653 350,652 345,652 345,652 339,651 334,650 328,650 322,649 317,648 311,647 306,647 303,646 300,646 295,645 289,645 284,644 278,643 273,643 267,642 261,641 261,641 256,640 250,639 245,637 239,636 238,635 234,634 228,631 226,630 223,627 220,624 217,621 215,619 212,614 212,614 208,608 206,605 205,603 201,597 200,596 197,592 195,590 191,586 189,585 184,582 183,581 178,578 175,575 173,573 169,570 167,567 165,564 162,560 161,559 157,553 156,552 153,548 151,546 147,542 145,540 141,537 139,536 134,532 134,531 128,526 128,526 123,522 121,521 117,518 113,515 112,514 106,511 103,510 101,508 95,505 93,504 89,502 85,499 84,498 78,493 78,493 78,488 78,482 78,477 78,471 78,466 78,460 78,455 78,450 78,444 78,439 78,433 78,428 78,422 78,417 78,416 84,413 87,411 89,411 95,409 101,408 106,406 108,406 112,405 117,403 123,402 126,400 128,399 134,396 137,395 139,394 145,392 151,390 152,389 156,388 162,387 167,386 173,385 178,384 178,384 184,383 189,381 195,380 200,379 203,378 206,378 212,376 217,374 222,373 223,373 228,371 234,369 239,368 239,368 245,366 250,364 256,362 257,362 261,361 267,359 273,358 278,357 282,357 284,356 289,356 295,355 300,354 306,354 311,353 317,353 322,352 328,351 330,351 334,351 339,350 345,349 350,348 356,347 361,346Z" fill="#4dffaa" fill-rule="evenodd"/>
<path d="M317,362 322,362 328,362 334,361 339,361 345,361 350,361 356,361 361,361 367,361 372,361 378,361 383,361 389,361 395,361 400,362 406,362 411,362 417,362 420,362 422,362 428,362 433,362 439,362 444,363 450,363 456,363 461,363 467,363 472,364 478,364 483,365 489,366 494,367 497,368 500,368 505,370 511,372 513,373 517,375 522,378 524,378 528,381 533,384 534,384 539,386 544,389 546,389 550,391 555,392 561,393 566,393 572,393 578,392 583,392 589,391 594,391 600,391 605,391 611,390 616,390 622,391 627,391 633,391 639,392 644,393 650,394 655,395 656,395 661,396 666,397 672,398 677,399 683,400 683,400 688,402 694,404 700,406 700,406 705,408 711,410 714,411 716,412 722,415 727,417 727,417 733,420 738,422 740,422 744,424 749,426 755,427 759,428 761,428 766,429 772,429 777,429 783,429 788,429 794,429 799,430 805,430 811,432 815,433 816,434 822,437 825,439 827,441 832,444 833,445 838,449 839,450 844,453 847,455 849,456 855,459 857,460 860,462 866,464 872,465 873,466 877,467 883,469 888,471 888,472 894,476 895,477 898,482 899,487 900,488 899,492 899,493 897,499 894,504 894,505 889,510 888,510 883,513 878,515 877,516 872,517 866,519 860,520 858,521 855,521 849,522 844,523 838,524 833,524 827,525 822,526 818,526 816,526 811,527 805,528 799,529 794,530 789,532 788,532 783,534 777,536 774,537 772,538 766,541 762,542 761,543 755,545 749,548 749,548 744,550 738,551 733,552 727,553 727,553 722,554 716,555 711,556 705,556 700,557 694,558 689,559 688,559 683,560 677,562 672,563 669,564 666,565 661,568 656,570 655,570 650,573 645,575 644,576 639,579 634,581 633,581 627,583 622,586 620,586 616,588 611,589 605,591 603,592 600,593 594,594 589,596 585,597 583,598 578,599 572,601 567,603 566,603 561,605 555,607 553,608 550,610 544,613 544,614 539,618 538,619 533,623 532,624 528,627 522,630 522,630 517,631 511,632 505,633 500,634 494,635 490,635 489,636 483,636 478,636 472,637 467,637 461,637 456,638 450,638 444,638 439,639 433,639 428,640 422,641 421,641 417,641 411,642 406,642 400,642 395,643 389,643 383,643 378,643 372,643 367,643 361,642 356,642 350,641 345,641 345,641 339,640 334,639 328,639 322,638 317,637 311,637 306,636 301,635 300,635 295,634 289,633 284,632 278,630 277,630 273,628 267,625 267,624 261,619 261,619 258,614 256,611 254,608 250,604 249,603 245,600 242,597 239,596 234,593 232,592 228,590 223,588 219,586 217,586 212,584 206,581 205,581 200,579 195,576 193,575 189,573 186,570 184,568 180,564 178,562 176,559 173,555 172,553 168,548 167,548 163,542 162,541 158,537 156,535 152,532 151,530 147,526 145,524 142,521 139,518 136,515 134,513 130,510 128,508 123,504 123,504 117,499 116,499 112,495 109,493 106,490 104,488 101,485 99,482 95,477 95,477 92,471 90,466 89,465 88,460 87,455 87,450 87,444 89,439 89,436 91,433 94,428 95,426 98,422 101,420 104,417 106,416 112,413 115,411 117,411 123,409 128,406 129,406 134,404 139,401 140,400 145,398 151,395 152,395 156,394 162,392 167,391 173,390 175,389 178,389 184,388 189,387 195,386 200,385 206,384 207,384 212,383 217,382 223,380 228,379 230,378 234,377 239,376 245,374 249,373 250,373 256,371 261,370 267,368 271,368 273,367 278,366 284,365 289,364 295,364 300,363 306,363 311,362 317,362Z" fill="#6dff8a" fill-rule="evenodd"/>
<path d="M282,373 284,373 289,372 295,371 300,371 306,371 311,370 317,370 322,370 328,370 334,370 339,370 345,371 350,371 356,371 361,371 367,371 372,372 378,372 383,372 389,372 395,372 400,372 406,372 411,372 417,373 422,373 428,373 433,373 439,373 443,373 444,373 450,373 456,373 461,374 467,374 472,375 478,376 483,377 489,378 492,378 494,379 500,381 505,382 510,384 511,384 517,386 522,388 525,389 528,390 533,393 539,395 539,395 544,397 550,398 555,399 561,399 566,400 572,399 578,399 583,399 589,398 594,398 600,397 605,397 611,397 616,398 622,398 627,398 633,399 639,399 644,400 647,400 650,401 655,401 661,402 666,403 672,404 677,406 678,406 683,407 688,409 694,411 695,411 700,413 705,416 707,417 711,418 716,422 718,422 722,425 725,428 727,429 732,433 733,434 738,439 739,439 744,444 744,444 749,450 749,451 753,455 755,457 758,460 761,463 763,466 766,469 768,471 772,475 775,477 777,479 783,481 787,482 788,483 794,483 799,483 805,483 811,483 816,483 822,483 827,483 833,483 838,483 844,484 849,486 855,488 855,488 859,493 858,499 855,502 853,504 849,506 844,508 839,510 838,510 833,511 827,512 822,512 816,513 811,513 805,514 799,514 794,514 788,515 784,515 783,515 777,516 772,517 766,518 761,520 759,521 755,522 749,526 749,526 744,529 741,532 738,533 733,535 727,537 727,537 722,538 716,540 711,541 705,542 703,542 700,543 694,544 688,546 683,547 680,548 677,549 672,551 666,553 666,553 661,556 655,558 654,559 650,561 644,564 644,564 639,567 633,570 633,570 627,573 622,575 622,575 616,578 611,580 608,581 605,582 600,584 594,585 591,586 589,587 583,589 578,590 572,592 572,592 566,593 561,595 555,596 551,597 550,597 544,599 539,600 533,601 528,602 524,603 522,603 517,604 511,605 505,605 500,605 494,606 489,606 483,606 478,606 472,605 467,605 461,605 456,605 450,605 444,605 439,606 433,606 428,607 422,607 417,608 412,608 411,608 406,609 400,610 395,610 389,611 383,611 378,612 372,612 367,611 361,611 356,611 350,610 345,609 342,608 339,608 334,606 328,604 323,603 322,602 317,601 311,599 306,597 306,597 300,596 295,595 289,594 284,593 279,592 278,592 273,591 267,590 261,589 256,588 250,586 250,586 245,585 239,584 234,583 228,581 228,581 223,579 217,578 212,575 211,575 206,573 201,570 200,569 195,565 194,564 189,559 189,559 184,553 184,553 180,548 178,546 176,542 173,539 171,537 167,533 166,532 162,527 161,526 156,521 156,520 152,515 151,514 147,510 145,507 142,504 139,502 136,499 134,497 130,493 128,492 124,488 123,487 118,482 117,482 112,477 112,476 108,471 106,469 105,466 102,460 101,455 101,453 100,450 101,447 101,444 103,439 106,433 106,433 110,428 112,427 117,422 117,422 123,418 125,417 128,415 134,412 135,411 139,409 145,406 145,406 151,403 154,400 156,400 162,398 167,396 171,395 173,395 178,394 184,393 189,392 195,391 200,390 204,389 206,389 212,388 217,387 223,386 228,385 234,384 234,384 239,383 245,381 250,380 256,379 256,378 261,377 267,376 273,375 278,374Z" fill="#8aff6d" fill-rule="evenodd"/>
<path d="M292,378 295,378 300,378 306,378 311,377 317,377 322,377 328,378 334,378 339,378 345,378 346,378 350,379 356,379 361,379 367,380 372,380 378,380 383,381 389,381 395,381 400,381 406,381 411,382 417,382 422,382 428,382 433,382 439,383 444,383 450,383 456,384 458,384 461,384 467,385 472,385 478,386 483,387 489,388 494,389 495,389 500,391 505,392 511,393 517,395 517,395 522,396 528,398 533,400 535,400 539,401 544,402 550,403 555,404 561,404 566,404 572,404 578,404 583,404 589,404 594,404 600,404 605,404 611,404 616,404 622,405 627,405 633,406 635,406 639,406 644,407 650,407 655,408 661,409 666,410 672,411 674,411 677,412 683,414 688,416 690,417 694,419 700,421 701,422 705,425 709,428 711,429 716,433 716,433 722,439 722,439 726,444 727,447 729,450 731,455 733,460 733,460 735,466 737,471 737,477 738,482 737,488 736,493 733,499 733,500 730,504 727,509 726,510 722,515 721,515 716,520 715,521 711,524 707,526 705,527 700,530 695,532 694,532 688,534 683,536 680,537 677,538 672,540 667,542 666,543 661,545 656,548 655,548 650,552 646,553 644,555 639,558 636,559 633,561 627,563 626,564 622,566 616,569 614,570 611,571 605,574 601,575 600,576 594,578 589,579 584,581 583,581 578,583 572,584 566,585 562,586 561,586 555,588 550,589 544,590 539,591 534,592 533,592 528,593 522,593 517,593 511,594 505,594 500,594 494,594 489,594 483,594 478,594 472,594 467,594 461,594 456,594 450,594 444,594 439,594 433,594 428,594 422,594 417,594 411,594 406,594 400,594 395,594 389,594 383,594 378,594 372,594 367,594 361,593 356,593 350,592 347,592 345,592 339,591 334,591 328,590 322,590 317,589 311,589 306,588 300,588 295,587 289,587 287,586 284,586 278,585 273,585 267,584 261,583 256,582 251,581 250,581 245,579 239,578 234,576 230,575 228,575 223,572 217,570 217,570 212,567 208,564 206,563 201,559 200,558 196,553 195,552 191,548 189,546 187,542 184,539 182,537 178,532 178,532 173,526 173,526 169,521 167,518 165,515 162,511 161,510 157,504 156,503 153,499 151,496 147,493 145,491 142,488 139,486 136,482 134,481 130,477 128,476 124,471 123,470 120,466 117,462 116,460 114,455 114,450 115,444 117,439 117,439 122,433 123,432 128,428 128,427 134,424 136,422 139,420 144,417 145,416 151,413 153,411 156,409 161,406 162,406 167,403 172,400 173,400 178,399 184,398 189,396 195,395 197,395 200,394 206,394 212,393 217,392 223,391 228,390 233,389 234,389 239,388 245,387 250,386 256,385 260,384 261,384 267,382 273,381 278,380 284,379 289,379Z" fill="#aaff4d" fill-rule="evenodd"/>
<path d="M298,384 300,384 306,384 311,384 317,384 322,384 328,384 330,384 334,384 339,384 345,385 350,385 356,386 361,386 367,386 372,387 378,387 383,388 389,388 395,388 400,389 406,389 411,389 412,389 417,390 422,390 428,390 433,391 439,391 444,392 450,392 456,393 461,393 467,394 472,394 477,395 478,395 483,396 489,397 494,397 500,398 505,399 510,400 511,401 517,402 522,403 528,404 533,405 537,406 539,406 544,407 550,407 555,408 561,408 566,408 572,408 578,409 583,409 589,409 594,409 600,409 605,409 611,410 616,410 622,410 627,411 632,411 633,411 639,412 644,412 650,413 655,414 661,415 666,416 670,417 672,417 677,419 683,421 685,422 688,424 694,427 695,428 700,431 702,433 705,436 709,439 711,441 713,444 716,450 716,450 718,455 720,460 721,466 722,469 722,471 722,477 722,482 722,483 721,488 719,493 716,497 715,499 711,504 711,505 705,510 705,510 700,514 698,515 694,518 690,521 688,521 683,524 679,526 677,527 672,530 668,532 666,532 661,535 658,537 655,539 650,542 650,542 644,546 641,548 639,549 633,552 631,553 627,555 622,558 620,559 616,561 611,563 609,564 605,566 600,568 595,570 594,570 589,572 583,574 579,575 578,576 572,577 566,579 561,580 556,581 555,581 550,582 544,583 539,584 533,584 528,585 522,585 517,586 511,586 505,586 500,586 494,586 489,586 483,586 478,586 472,586 467,585 461,585 456,585 450,585 444,585 439,585 433,585 428,585 422,585 417,585 411,585 406,585 400,585 395,585 389,585 383,585 378,585 372,585 367,585 361,585 356,585 350,585 345,585 339,584 334,584 328,584 322,584 317,584 311,583 306,583 300,583 295,582 289,582 284,581 279,581 278,581 273,580 267,579 261,578 256,577 250,575 250,575 245,574 239,572 234,570 234,570 228,567 223,564 223,564 217,561 214,559 212,557 208,553 206,552 202,548 200,546 198,542 195,539 193,537 189,533 188,532 184,526 184,526 180,521 178,518 176,515 173,510 173,508 170,504 167,499 167,499 163,493 162,491 159,488 156,485 154,482 151,479 148,477 145,475 141,471 139,469 136,466 134,463 132,460 129,455 129,450 130,444 134,439 134,439 139,433 139,433 145,429 147,428 151,425 155,422 156,422 162,418 164,417 167,414 172,411 173,411 178,407 180,406 184,404 189,402 195,400 195,400 200,399 206,398 212,397 217,396 223,396 226,395 228,395 234,394 239,393 245,392 250,391 256,390 258,389 261,389 267,388 273,387 278,386 284,385 289,385 295,384Z" fill="#caff2c" fill-rule="evenodd"/>
<path d="M291,389 295,389 300,389 306,389 311,389 317,389 322,389 328,389 333,389 334,389 339,390 345,390 350,391 356,391 361,392 367,392 372,393 378,393 383,394 389,394 395,395 395,395 400,395 406,396 411,396 417,397 422,397 428,398 433,398 439,399 444,399 450,400 456,400 457,400 461,401 467,401 472,402 478,402 483,403 489,404 494,404 500,405 505,406 507,406 511,406 517,407 522,408 528,408 533,409 539,410 544,410 550,411 554,411 555,411 561,412 566,412 572,412 578,413 583,413 589,413 594,414 600,414 605,415 611,415 616,415 622,416 627,416 631,417 633,417 639,418 644,418 650,419 655,420 661,421 666,422 666,422 672,424 677,426 680,428 683,429 688,433 689,433 694,437 696,439 700,442 702,444 705,450 705,450 707,455 709,460 710,466 710,471 710,477 709,482 708,488 705,493 705,493 700,499 700,500 695,504 694,505 688,509 687,510 683,513 679,515 677,516 672,519 669,521 666,522 661,525 659,526 655,528 650,532 650,532 644,536 643,537 639,540 636,542 633,544 627,548 627,548 622,551 617,553 616,554 611,556 606,559 605,559 600,561 594,564 592,564 589,566 583,568 578,569 576,570 572,571 566,572 561,574 555,575 554,575 550,576 544,577 539,578 533,579 528,579 522,579 517,580 511,580 505,580 500,580 494,580 489,580 483,580 478,580 472,580 467,580 461,579 456,579 450,579 444,579 439,579 433,579 428,579 422,579 417,579 411,579 406,579 400,579 395,579 389,579 383,579 378,579 372,579 367,579 361,579 356,579 350,579 345,579 339,579 334,579 328,579 322,579 317,579 311,579 306,578 300,578 295,578 289,577 284,577 278,576 274,575 273,575 267,574 261,573 256,571 252,570 250,569 245,567 239,565 238,564 234,562 228,559 228,559 223,555 220,553 217,551 214,548 212,546 208,542 206,540 204,537 200,533 199,532 195,526 195,526 191,521 189,518 188,515 185,510 184,506 183,504 181,499 178,493 178,493 176,488 173,484 172,482 167,477 167,477 162,472 161,471 156,467 155,466 151,461 150,460 147,455 146,450 148,444 151,441 153,439 156,436 159,433 162,431 167,428 167,428 173,424 175,422 178,420 183,417 184,416 189,412 190,411 195,409 200,406 201,406 206,404 212,403 217,401 221,400 223,400 228,399 234,398 239,397 245,396 250,395 251,395 256,394 261,393 267,392 273,391 278,391 284,390 289,390Z" fill="#ebff0c" fill-rule="evenodd"/>
<path d="M277,395 278,395 284,394 289,394 295,393 300,393 306,393 311,393 317,393 322,393 328,394 334,394 339,394 343,395 345,395 350,396 356,396 361,397 367,397 372,398 378,399 383,399 389,400 395,400 395,400 400,401 406,401 411,402 417,403 422,403 428,404 433,404 439,405 444,405 448,406 450,406 456,406 461,407 467,407 472,408 478,408 483,409 489,409 494,410 500,410 505,411 511,411 514,411 517,412 522,412 528,413 533,413 539,414 544,414 550,415 555,415 561,416 566,416 572,417 575,417 578,417 583,418 589,418 594,419 600,419 605,420 611,420 616,421 622,421 627,422 630,422 633,423 639,423 644,424 650,425 655,426 661,428 661,428 666,430 672,432 675,433 677,435 683,438 684,439 688,442 690,444 694,450 694,450 696,455 698,460 699,466 699,471 699,477 698,482 695,488 694,490 691,493 688,496 686,499 683,501 678,504 677,505 672,508 669,510 666,511 661,514 659,515 655,517 650,520 649,521 644,524 641,526 639,528 635,532 633,533 629,537 627,538 623,542 622,543 616,547 614,548 611,550 605,552 603,553 600,555 594,557 590,559 589,559 583,562 578,563 575,564 572,565 566,567 561,568 555,569 553,570 550,571 544,572 539,573 533,573 528,574 522,574 517,575 511,575 505,575 500,575 494,575 489,575 483,575 478,575 472,575 467,575 461,575 456,575 450,575 444,575 439,574 433,574 428,574 422,574 417,574 411,574 406,574 400,574 395,574 389,574 383,574 378,574 372,574 367,574 361,574 356,574 350,574 345,574 339,574 334,574 328,574 322,574 317,574 311,574 306,574 300,573 295,573 289,572 284,572 278,571 273,570 273,570 267,568 261,566 256,564 256,564 250,562 245,559 244,559 239,556 234,553 234,553 228,549 226,548 223,545 220,542 217,539 215,537 212,533 211,532 206,526 206,526 202,521 200,518 199,515 197,510 196,504 195,499 195,497 194,493 193,488 191,482 189,480 188,477 184,473 183,471 178,467 177,466 173,460 173,460 169,455 168,450 170,444 173,441 175,439 178,436 181,433 184,431 188,428 189,427 195,422 195,422 200,418 202,417 206,414 210,411 212,410 217,408 222,406 223,406 228,404 234,403 239,401 244,400 245,400 250,399 256,398 261,397 267,396 273,395Z" fill="#ffde00" fill-rule="evenodd"/>
<path d="M266,400 267,400 273,399 278,399 284,398 289,398 295,397 300,397 306,397 311,397 317,397 322,397 328,398 334,398 339,399 345,399 350,400 353,400 356,401 361,401 367,402 372,403 378,403 383,404 389,405 395,405 400,406 400,406 406,406 411,407 417,408 422,408 428,409 433,409 439,410 444,411 450,411 452,411 456,412 461,412 467,412 472,413 478,413 483,413 489,414 494,414 500,414 505,415 511,415 517,416 522,416 528,417 530,417 533,417 539,418 544,418 550,419 555,419 561,420 566,420 572,421 578,422 582,422 583,422 589,423 594,424 600,424 605,425 611,426 616,426 622,427 627,428 627,428 633,429 639,430 644,431 650,432 655,433 655,433 661,435 666,437 669,439 672,440 677,444 678,444 682,450 683,450 685,455 687,460 688,466 688,471 688,477 685,482 683,487 682,488 677,493 677,493 672,497 669,499 666,501 661,503 659,504 655,506 650,509 648,510 644,512 639,515 638,515 633,519 630,521 627,523 624,526 622,529 620,532 616,535 615,537 611,541 609,542 605,545 600,548 600,548 594,550 589,553 587,553 583,555 578,557 573,559 572,559 566,561 561,563 555,564 555,564 550,566 544,567 539,568 533,568 528,569 522,569 517,570 517,570 511,570 505,570 500,571 494,571 489,571 483,571 478,571 472,571 467,571 461,571 456,571 450,571 444,571 439,571 433,570 428,570 422,570 417,570 411,570 406,570 403,570 400,570 395,570 389,570 383,570 378,570 372,570 367,570 361,570 356,570 350,570 345,570 339,570 334,570 328,570 322,569 317,569 311,569 306,569 300,568 295,568 289,567 284,566 278,565 277,564 273,563 267,561 261,559 261,559 256,556 250,554 250,553 245,551 240,548 239,547 234,543 233,542 228,538 228,537 223,532 223,531 219,526 217,524 215,521 212,515 212,510 211,510 212,509 212,504 213,499 215,493 217,490 218,488 221,482 219,477 217,475 213,471 212,470 207,466 206,465 201,460 200,459 197,455 195,450 196,444 199,439 200,438 204,433 206,431 209,428 212,425 215,422 217,420 221,417 223,416 228,413 230,411 234,410 239,408 244,406 245,406 250,404 256,403 261,401Z" fill="#ffb900" fill-rule="evenodd"/>
<path d="M266,406 267,406 273,404 278,403 284,403 289,402 295,401 300,401 306,401 311,401 317,401 322,402 328,402 334,403 339,403 345,404 350,405 356,405 360,406 361,406 367,407 372,407 378,408 383,409 389,409 395,410 400,411 406,411 406,411 411,412 417,413 422,413 428,414 433,414 439,415 444,415 450,416 456,416 461,416 467,417 469,417 472,417 478,417 483,418 489,418 494,418 500,419 505,419 511,419 517,420 522,420 528,421 533,421 539,422 544,422 544,422 550,423 555,424 561,424 566,425 572,426 578,427 583,427 585,428 589,428 594,429 600,430 605,431 611,432 616,432 621,433 622,433 627,434 633,435 639,437 644,438 647,439 650,440 655,442 661,444 661,444 666,448 669,450 672,454 673,455 675,460 676,466 676,471 675,477 672,482 671,482 666,488 666,488 661,492 658,493 655,495 650,497 647,499 644,500 639,502 633,504 633,504 627,507 623,510 622,510 616,514 615,515 611,520 610,521 606,526 605,528 603,532 600,536 599,537 594,541 593,542 589,545 583,548 582,548 578,550 572,552 569,553 566,554 561,556 555,558 554,559 550,560 544,561 539,562 533,564 528,564 528,564 522,565 517,565 511,566 505,566 500,566 494,566 489,567 483,567 478,567 472,567 467,567 461,567 456,567 450,567 444,567 439,567 433,567 428,566 422,566 417,566 411,566 406,566 400,566 395,566 389,566 383,566 378,566 372,565 367,565 361,565 356,565 350,565 345,565 339,565 334,565 328,565 322,564 320,564 317,564 311,564 306,563 300,562 295,562 289,560 284,559 283,559 278,557 273,555 268,553 267,553 261,551 256,548 256,548 250,544 248,542 245,540 242,537 239,534 238,532 234,526 234,525 232,521 231,515 234,510 234,510 239,506 245,504 245,504 250,503 256,502 261,502 267,502 273,501 278,501 284,501 289,500 295,500 300,499 300,499 306,497 311,495 316,493 317,492 321,488 320,482 317,479 315,477 311,475 306,471 306,471 300,470 295,468 289,467 285,466 284,466 278,465 273,464 267,464 261,463 256,462 250,461 248,460 245,460 239,458 234,455 233,455 228,451 227,450 224,444 224,439 226,433 228,430 230,428 234,423 235,422 239,419 242,417 245,415 250,412 251,411 256,409 261,407Z" fill="#ff9400" fill-rule="evenodd"/>
<path d="M276,411 278,411 284,409 289,408 295,407 300,407 306,407 311,407 317,407 322,407 328,408 334,408 339,409 345,410 350,410 356,411 360,411 361,411 367,412 372,413 378,413 383,414 389,415 395,415 400,416 406,416 411,417 411,417 417,417 422,418 428,418 433,419 439,419 444,420 450,420 456,420 461,421 467,421 472,421 478,421 483,422 489,422 494,422 494,422 500,423 505,423 511,424 517,424 522,425 528,425 533,426 539,426 544,427 550,428 550,428 555,429 561,430 566,430 572,431 578,432 583,433 583,433 589,434 594,435 600,437 605,438 610,439 611,439 616,440 622,441 627,443 633,444 633,444 639,446 644,448 648,450 650,451 655,455 655,455 659,460 661,464 661,466 661,470 661,471 657,477 655,479 651,482 650,483 644,486 641,488 639,489 633,491 628,493 627,493 622,495 616,497 613,499 611,500 605,502 601,504 600,505 594,509 593,510 589,515 588,515 585,521 583,524 582,526 579,532 578,534 576,537 572,540 569,542 566,544 561,547 559,548 555,549 550,552 547,553 544,554 539,556 533,557 528,559 528,559 522,560 517,560 511,561 505,561 500,562 494,562 489,562 483,562 478,562 472,562 467,563 461,563 456,563 450,562 444,562 439,562 433,562 428,562 422,562 417,562 411,562 406,562 400,562 395,562 389,562 383,561 378,561 372,561 367,561 361,561 356,561 350,561 345,560 339,560 334,560 328,559 322,559 322,559 317,558 311,558 306,557 300,556 295,554 291,553 289,553 284,551 278,549 275,548 273,547 267,544 264,542 261,540 258,537 256,534 255,532 256,526 256,526 260,521 261,520 267,518 273,516 275,515 278,515 284,514 289,513 295,512 300,511 304,510 306,509 311,508 317,506 322,505 323,504 328,502 334,499 335,499 339,495 340,493 341,488 339,483 339,482 334,477 333,477 328,473 326,471 322,469 317,466 316,466 311,464 306,462 300,461 299,460 295,459 289,458 284,457 278,455 277,455 273,454 267,452 261,450 260,450 256,448 250,444 250,444 246,439 246,433 249,428 250,426 255,422 256,422 261,418 264,417 267,415 273,413Z" fill="#ff7300" fill-rule="evenodd"/>
<path d="M298,417 300,416 306,416 311,416 317,416 322,416 328,416 334,416 339,416 344,417 345,417 350,417 356,418 361,418 367,419 372,419 378,420 383,420 389,421 395,421 400,422 406,422 411,422 411,422 417,423 422,423 428,423 433,424 439,424 444,424 450,424 456,425 461,425 467,425 472,426 478,426 483,426 489,426 494,427 500,427 505,428 506,428 511,428 517,429 522,429 528,430 533,431 539,432 544,432 549,433 550,433 555,434 561,435 566,437 572,438 576,439 578,439 583,441 589,442 594,444 596,444 600,445 605,447 611,449 614,450 616,450 622,453 627,455 628,455 633,458 636,460 639,465 639,466 639,467 637,471 633,474 629,477 627,478 622,480 616,482 616,482 611,484 605,486 600,488 600,488 594,490 589,492 583,493 583,493 578,496 572,498 569,499 566,500 561,504 561,504 555,510 555,510 551,515 550,517 547,521 544,525 543,526 540,532 539,534 537,537 533,542 532,542 528,547 526,548 522,550 517,552 514,553 511,554 505,555 500,555 494,556 489,556 483,557 478,557 472,557 467,557 461,558 456,558 450,558 444,558 439,558 433,558 428,558 422,557 417,557 411,557 406,557 400,557 395,557 389,557 383,557 378,557 372,556 367,556 361,556 356,556 350,555 345,555 339,554 334,554 329,553 328,553 322,552 317,551 311,550 306,549 301,548 300,548 295,546 289,544 285,542 284,541 278,538 277,537 276,532 278,530 284,527 286,526 289,525 295,524 300,522 306,521 307,521 311,519 317,518 322,516 325,515 328,514 334,512 339,510 339,510 345,507 350,505 351,504 356,501 360,499 361,496 363,493 361,490 360,488 356,483 356,482 350,478 349,477 345,474 342,471 339,470 334,466 334,466 328,463 322,461 322,460 317,458 311,456 308,455 306,454 300,452 295,450 292,450 289,449 284,447 278,445 276,444 273,442 267,439 267,438 265,433 267,430 269,428 273,425 278,422 278,422 284,420 289,419 295,417Z" fill="#ff4e00" fill-rule="evenodd"/>
<path d="M303,428 306,427 311,427 317,426 322,426 328,426 334,426 339,426 345,427 350,427 356,427 361,427 365,428 367,428 372,428 378,428 383,429 389,429 395,429 400,429 406,429 411,429 417,429 422,429 428,429 433,429 439,429 444,429 450,430 456,430 461,430 467,430 472,431 478,431 483,431 489,432 494,432 500,433 505,433 506,433 511,434 517,434 522,435 528,436 533,437 539,438 544,439 544,439 550,440 555,441 561,443 566,444 566,444 572,446 578,448 582,450 583,450 589,453 594,455 594,455 600,458 603,460 605,463 607,466 605,468 603,471 600,473 594,476 592,477 589,478 583,480 578,482 578,483 572,484 566,486 561,487 558,488 555,488 550,490 544,491 539,492 533,493 531,493 528,494 522,496 517,498 514,499 511,500 505,504 504,504 500,508 498,510 496,515 497,521 497,526 497,532 495,537 494,538 490,542 489,543 483,546 479,548 478,548 472,549 467,550 461,550 456,551 450,551 444,551 439,551 433,551 428,551 422,551 417,551 411,551 406,551 400,551 395,551 389,550 383,550 378,550 372,549 367,549 361,549 356,548 353,548 350,548 345,547 339,546 334,544 328,543 324,542 322,542 317,540 311,538 309,537 311,532 311,532 317,530 322,529 328,527 330,526 334,525 339,524 345,522 348,521 350,520 356,518 361,515 362,515 367,513 372,511 376,510 378,509 383,507 389,504 389,504 395,499 395,499 395,498 393,493 389,491 386,488 383,487 378,484 376,482 372,481 367,477 366,477 361,474 357,471 356,470 350,466 349,466 345,463 341,460 339,459 334,456 331,455 328,453 322,450 322,450 317,447 311,445 310,444 306,442 300,440 296,439 295,438 291,433 295,431 300,429Z" fill="#ff2900" fill-rule="evenodd"/>
<path d="M398,439 400,438 406,438 411,438 417,437 422,437 428,437 433,436 439,436 444,436 450,436 456,436 461,436 467,436 472,437 478,437 483,437 489,438 494,438 498,439 500,439 505,440 511,440 517,441 522,442 528,443 533,444 536,444 539,445 544,446 550,448 554,450 555,450 561,453 566,455 566,456 572,460 573,460 575,466 572,469 570,471 566,473 561,476 560,477 555,478 550,480 544,481 540,482 539,483 533,483 528,484 522,485 517,486 511,486 505,487 500,487 494,487 489,488 489,488 483,488 478,489 472,489 467,489 461,490 456,490 450,490 444,489 439,489 433,488 433,488 428,487 422,486 417,485 411,483 408,482 406,482 400,480 395,478 391,477 389,476 383,474 378,472 377,471 372,468 368,466 367,465 361,461 360,460 356,457 354,455 352,450 356,446 361,444 361,444 367,443 372,442 378,441 383,440 389,440 395,439Z" fill="#ed0400" fill-rule="evenodd"/>
<path d="M406,450 411,449 417,448 422,448 428,447 433,447 439,446 444,446 450,446 456,445 461,445 467,446 472,446 478,446 483,446 489,447 494,447 500,448 505,448 511,449 514,450 517,450 522,452 528,453 532,455 533,456 539,460 539,460 539,466 539,466 533,471 532,471 528,473 522,474 517,475 511,476 505,477 501,477 500,477 494,477 489,477 483,477 478,477 472,477 467,477 461,477 456,477 453,477 450,477 444,476 439,476 433,475 428,474 422,473 417,472 416,471 411,470 406,468 401,466 400,465 395,462 392,460 390,455 395,453 400,451 406,450Z" fill="#bf0000" fill-rule="evenodd"/>
<use href="#coast"/>
</g>
<rect x="78.4" y="132.5" width="1331.10" height="656.00" fill="none" stroke="#000" stroke-width="3.33"/>
<text x="743.95" y="106.6" font-size="50" text-anchor="middle" xml:space="preserve">Combined (GIM), 2004-02-09 20:00 UT</text>
</g>
<g transform="translate(0,985)">
<g clip-path="url(#cp0)">
<rect x="76.4" y="130.5" width="1335.10" height="660.00" fill="#000092"/>
<path d="M78,132 84,132 89,132 95,132 101,132 106,132 112,132 117,132 123,132 128,132 134,132 139,132 145,132 151,132 156,132 162,132 167,132 173,132 178,132 184,132 189,132 195,132 200,132 206,132 212,132 217,132 223,132 228,132 234,132 239,132 245,132 250,132 256,132 261,132 267,132 273,132 278,132 284,132 289,132 295,132 300,132 306,132 311,132 317,132 322,132 328,132 334,132 339,132 345,132 350,132 356,132 361,132 367,132 372,132 378,132 383,132 389,132 395,132 400,132 406,132 411,132 417,132 422,132 428,132 433,132 439,132 444,132 450,132 456,132 461,132 467,132 472,132 478,132 483,132 489,132 494,132 500,132 505,132 511,132 517,132 522,132 528,132 533,132 539,132 544,132 550,132 555,132 561,132 566,132 572,132 578,132 583,132 589,132 594,132 600,132 605,132 611,132 616,132 622,132 627,132 633,132 639,132 644,132 650,132 655,132 661,132 666,132 672,132 677,132 683,132 688,132 694,132 700,132 705,132 711,132 716,132 722,132 727,132 733,132 738,132 744,132 749,132 755,132 761,132 766,132 772,132 777,132 783,132 788,132 794,132 799,132 805,132 811,132 816,132 822,132 827,132 833,132 838,132 844,132 849,132 855,132 860,132 866,132 872,132 877,132 883,132 888,132 894,132 899,132 905,132 910,132 916,132 921,132 927,132 933,132 938,132 944,132 949,132 955,132 960,132 966,132 971,132 977,132 982,132 988,132 994,132 999,132 1005,132 1010,132 1016,132 1021,132 1027,132 1032,132 1038,132 1043,132 1049,132 1055,132 1060,132 1066,132 1071,132 1077,132 1082,132 1088,132 1093,132 1099,132 1104,132 1110,132 1116,132 1121,132 1127,132 1132,132 1138,132 1143,132 1149,132 1154,132 1160,132 1165,132 1171,132 1177,132 1182,132 1188,132 1193,132 1199,132 1204,132 1210,132 1215,132 1221,132 1226,132 1232,132 1238,132 1243,132 1249,132 1254,132 1260,132 1265,132 1271,132 1276,132 1282,132 1287,132 1293,132 1299,132 1304,132 1310,132 1315,132 1321,132 1326,132 1332,132 1337,132 1343,132 1348,132 1354,132 1360,132 1365,132 1371,132 1376,132 1382,132 1387,132 1393,132 1398,132 1404,132 1410,132 1410,138 1410,143 1410,149 1410,154 1410,160 1410,165 1410,171 1410,176 1410,182 1410,187 1410,193 1410,198 1410,204 1410,209 1410,214 1410,220 1410,225 1410,231 1410,236 1410,242 1410,247 1410,253 1410,258 1410,264 1410,269 1410,275 1410,280 1410,286 1410,291 1410,296 1410,302 1410,307 1410,313 1410,318 1410,324 1410,329 1410,335 1410,340 1410,346 1410,351 1410,357 1410,362 1410,368 1410,373 1410,378 1410,384 1410,389 1410,395 1410,400 1410,406 1410,411 1410,417 1410,422 1410,428 1410,433 1410,439 1410,444 1410,450 1410,455 1410,460 1410,466 1410,471 1410,477 1410,482 1410,488 1410,493 1410,499 1410,504 1410,510 1410,515 1410,521 1410,526 1410,532 1410,537 1410,542 1410,548 1410,553 1410,559 1410,564 1410,570 1410,575 1410,581 1410,586 1410,592 1410,597 1410,603 1410,608 1410,614 1410,619 1410,624 1410,630 1410,635 1410,641 1410,646 1410,652 1410,657 1410,663 1410,668 1410,674 1410,679 1410,685 1410,690 1410,696 1410,701 1410,706 1410,712 1410,717 1410,723 1410,728 1410,734 1410,739 1410,745 1410,750 1410,756 1410,761 1410,767 1410,772 1410,778 1410,783 1410,788 1404,788 1398,788 1393,788 1387,788 1382,788 1376,788 1371,788 1365,788 1360,788 1354,788 1348,788 1343,788 1337,788 1332,788 1326,788 1321,788 1315,788 1310,788 1304,788 1299,788 1293,788 1287,788 1282,788 1276,788 1271,788 1265,788 1260,788 1254,788 1249,788 1243,788 1238,788 1232,788 1226,788 1221,788 1215,788 1210,788 1204,788 1199,788 1193,788 1188,788 1182,788 1177,788 1171,788 1165,788 1160,788 1154,788 1149,788 1143,788 1138,788 1132,788 1127,788 1121,788 1116,788 1110,788 1104,788 1099,788 1093,788 1088,788 1082,788 1077,788 1071,788 1066,788 1060,788 1055,788 1049,788 1043,788 1038,788 1032,788 1027,788 1021,788 1016,788 1010,788 1005,788 999,788 994,788 988,788 982,788 977,788 971,788 966,788 960,788 955,788 949,788 944,788 938,788 933,788 927,788 921,788 916,788 910,788 905,788 899,788 894,788 888,788 883,788 877,788 872,788 866,788 860,788 855,788 849,788 844,788 838,788 833,788 827,788 822,788 816,788 811,788 805,788 799,788 794,788 788,788 783,788 777,788 772,788 766,788 761,788 755,788 749,788 744,788 738,788 733,788 727,788 722,788 716,788 711,788 705,788 700,788 694,788 688,788 683,788 677,788 672,788 666,788 661,788 655,788 650,788 644,788 639,788 633,788 627,788 622,788 616,788 611,788 605,788 600,788 594,788 589,788 583,788 578,788 572,788 566,788 561,788 555,788 550,788 544,788 539,788 533,788 528,788 522,788 517,788 511,788 505,788 500,788 494,788 489,788 483,788 478,788 472,788 467,788 461,788 456,788 450,788 444,788 439,788 433,788 428,788 422,788 417,788 411,788 406,788 400,788 395,788 389,788 383,788 378,788 372,788 367,788 361,788 356,788 350,788 345,788 339,788 334,788 328,788 322,788 317,788 311,788 306,788 300,788 295,788 289,788 284,788 278,788 273,788 267,788 261,788 256,788 250,788 245,788 239,788 234,788 228,788 223,788 217,788 212,788 206,788 200,788 195,788 189,788 184,788 178,788 173,788 167,788 162,788 156,788 151,788 145,788 139,788 134,788 128,788 123,788 117,788 112,788 106,788 101,788 95,788 89,788 84,788 78,788 78,783 78,778 78,772 78,767 78,761 78,756 78,750 78,745 78,739 78,734 78,728 78,723 78,717 78,712 78,706 78,701 78,696 78,690 78,685 78,679 78,674 78,668 78,663 78,657 78,652 78,646 78,641 78,635 78,630 78,624 78,619 78,614 78,608 78,603 78,597 78,592 78,586 78,581 78,575 78,570 78,564 78,559 78,553 78,548 78,542 78,537 78,532 78,526 78,521 78,515 78,510 78,504 78,499 78,493 78,488 78,482 78,477 78,471 78,466 78,460 78,455 78,450 78,444 78,439 78,433 78,428 78,422 78,417 78,411 78,406 78,400 78,395 78,389 78,384 78,378 78,373 78,368 78,362 78,357 78,351 78,346 78,340 78,335 78,329 78,324 78,318 78,313 78,307 78,302 78,296 78,291 78,286 78,280 78,275 78,269 78,264 78,258 78,253 78,247 78,242 78,236 78,231 78,225 78,220 78,214 78,209 78,204 78,198 78,193 78,187 78,182 78,176 78,171 78,165 78,160 78,154 78,149 78,143 78,138ZM611,192 609,193 605,194 600,197 598,198 594,203 594,204 594,207 594,209 599,214 600,215 605,218 609,220 611,220 616,221 622,222 627,222 633,223 639,223 644,224 650,225 652,225 655,226 661,228 666,229 672,230 677,230 683,228 688,226 689,225 694,222 697,220 697,214 694,213 688,212 683,210 681,209 677,208 672,206 666,204 666,204 661,201 655,199 653,198 650,197 644,195 639,194 634,193 633,192 627,192 622,191 616,191ZM811,225 809,225 805,227 800,231 804,236 805,237 811,240 815,242 816,242 822,243 827,244 833,244 838,242 839,242 844,238 845,236 844,234 841,231 838,230 833,228 827,226 823,225 822,225 816,225ZM955,246 951,247 949,248 944,251 941,253 938,254 933,257 931,258 927,261 922,264 921,264 916,267 913,269 910,271 905,275 905,275 899,279 897,280 894,283 889,286 888,286 883,288 877,290 873,291 872,291 866,292 860,293 855,294 849,295 844,296 844,296 838,298 833,300 828,302 827,302 822,305 819,307 816,309 812,313 811,314 805,318 805,318 799,323 798,324 794,327 790,329 788,331 783,335 783,335 783,335 788,340 789,340 794,341 799,343 805,344 811,345 811,346 816,346 822,347 827,348 833,349 838,351 840,351 844,352 849,353 855,354 860,356 862,357 866,358 872,362 872,362 876,368 877,369 880,373 882,378 883,380 885,384 888,389 890,389 894,391 897,389 899,389 905,385 906,384 910,380 913,378 916,376 921,373 921,373 927,370 932,368 933,368 938,365 944,363 949,362 949,362 955,360 960,359 966,358 971,358 977,358 982,358 988,358 994,358 999,359 1005,360 1010,361 1016,362 1016,362 1021,363 1027,365 1031,368 1032,368 1038,372 1040,373 1043,377 1045,378 1049,383 1049,384 1053,389 1055,391 1058,395 1060,397 1065,400 1066,401 1071,403 1077,404 1082,405 1088,406 1091,406 1093,406 1099,406 1104,407 1110,408 1116,409 1121,411 1122,411 1127,414 1132,417 1132,417 1138,421 1139,422 1143,425 1146,428 1149,430 1152,433 1154,435 1159,439 1160,440 1165,444 1165,445 1171,450 1171,450 1177,454 1178,455 1182,458 1186,460 1188,461 1193,464 1199,466 1199,466 1204,467 1210,468 1215,469 1221,469 1226,469 1232,469 1238,468 1243,467 1249,466 1249,466 1254,465 1260,463 1265,462 1270,460 1271,460 1276,459 1282,457 1287,456 1289,455 1293,454 1299,452 1304,451 1308,450 1310,449 1315,447 1321,445 1322,444 1326,442 1331,439 1332,438 1336,433 1337,431 1339,428 1342,422 1343,421 1345,417 1347,411 1348,407 1349,406 1350,400 1352,395 1353,389 1354,384 1354,384 1355,378 1356,373 1356,368 1357,362 1357,357 1357,351 1357,346 1357,340 1357,335 1357,329 1356,324 1355,318 1354,313 1354,312 1353,307 1351,302 1349,296 1348,294 1347,291 1344,286 1343,284 1339,280 1337,279 1332,275 1331,275 1326,273 1321,272 1315,271 1310,270 1306,269 1304,269 1299,268 1293,268 1287,268 1282,268 1276,268 1271,268 1265,268 1260,269 1259,269 1254,270 1249,272 1243,274 1243,275 1238,280 1238,280 1234,286 1232,290 1231,291 1228,296 1226,300 1225,302 1222,307 1221,308 1217,313 1215,315 1212,318 1210,321 1206,324 1204,325 1199,329 1199,329 1193,332 1188,334 1185,335 1182,335 1177,336 1171,335 1165,335 1165,335 1160,334 1154,332 1149,331 1144,329 1143,329 1138,327 1132,325 1128,324 1127,323 1121,321 1116,320 1111,318 1110,318 1104,317 1099,316 1093,315 1088,315 1082,314 1077,314 1071,313 1066,313 1065,313 1060,312 1055,311 1049,310 1043,308 1042,307 1038,305 1034,302 1032,301 1028,296 1027,295 1024,291 1021,287 1020,286 1016,280 1016,279 1012,275 1010,272 1007,269 1005,267 1002,264 999,261 995,258 994,257 988,253 988,252 982,249 979,247 977,246 971,245 966,244 960,245ZM1143,198 1141,198 1138,198 1132,199 1127,200 1121,201 1116,202 1110,204 1110,204 1104,206 1100,209 1099,210 1095,214 1095,220 1099,225 1099,225 1104,229 1108,231 1110,232 1116,234 1121,235 1127,236 1127,236 1132,237 1138,238 1143,238 1149,238 1154,239 1160,239 1165,239 1171,239 1177,239 1182,239 1188,240 1193,240 1199,241 1204,241 1206,242 1210,242 1215,244 1221,245 1226,246 1232,247 1234,247 1238,248 1243,249 1249,249 1254,250 1260,250 1265,251 1271,251 1276,251 1282,252 1287,252 1293,252 1299,253 1304,253 1310,253 1315,252 1321,252 1326,251 1332,251 1337,249 1343,247 1343,247 1348,244 1351,242 1354,238 1356,236 1360,231 1360,231 1363,225 1364,220 1363,214 1360,209 1360,209 1354,205 1351,204 1348,203 1343,201 1337,201 1332,200 1326,199 1321,199 1315,198 1311,198 1310,198 1304,198 1299,198 1293,198 1287,198 1282,198 1276,198 1271,198 1265,198 1260,198 1254,198 1249,198 1243,198 1238,198 1232,198 1226,198 1221,198 1215,198 1210,197 1204,197 1199,197 1193,197 1188,197 1182,197 1177,197 1171,197 1165,197 1160,197 1154,197 1149,198Z" fill="#0000bf" fill-rule="evenodd"/>
<path d="M78,132 84,132 89,132 95,132 101,132 106,132 112,132 117,132 123,132 128,132 134,132 139,132 145,132 151,132 156,132 162,132 167,132 173,132 178,132 184,132 189,132 195,132 200,132 206,132 212,132 217,132 223,132 228,132 234,132 239,132 245,132 250,132 256,132 261,132 267,132 273,132 278,132 284,132 289,132 295,132 300,132 306,132 311,132 317,132 322,132 328,132 334,132 339,132 345,132 350,132 352,132 350,134 345,136 339,137 334,138 333,138 328,139 322,139 317,139 311,140 306,140 300,140 295,140 289,140 284,140 278,140 273,140 267,140 261,140 256,140 250,140 245,140 239,141 234,141 228,141 223,141 217,142 212,142 206,142 200,143 197,143 195,144 189,145 184,147 178,148 176,149 173,152 169,154 173,159 173,160 178,162 184,163 189,165 190,165 195,166 200,167 206,168 212,168 217,169 223,169 228,170 234,170 239,171 241,171 245,171 250,171 256,171 261,171 267,171 273,171 278,171 284,171 289,171 289,171 295,170 300,169 306,168 311,166 313,165 317,164 322,161 325,160 328,158 334,156 337,154 339,153 345,151 350,150 354,149 356,148 361,147 367,146 372,146 378,146 383,146 389,146 395,146 400,147 406,147 411,147 417,148 422,148 428,148 433,149 435,149 439,149 444,149 450,149 456,149 461,150 467,150 472,150 478,150 483,150 489,150 494,149 500,149 505,149 511,149 517,150 522,150 528,150 533,150 539,150 544,151 550,152 555,154 556,154 561,157 563,160 566,165 566,165 568,171 568,176 568,182 568,187 568,193 569,198 570,204 572,209 572,209 575,214 578,217 580,220 583,223 586,225 589,228 594,231 594,231 600,233 605,234 611,235 616,235 622,236 627,236 627,236 633,237 639,238 644,240 650,242 650,242 655,244 661,246 663,247 666,249 672,252 675,253 677,254 683,257 685,258 688,260 694,262 700,263 705,263 711,262 716,259 718,258 722,255 724,253 727,247 727,247 733,244 738,243 744,242 749,243 755,245 761,247 761,247 766,250 770,253 772,254 777,258 777,258 782,264 783,266 785,269 786,275 785,280 783,284 782,286 777,291 777,291 772,296 771,296 766,300 763,302 761,304 755,307 752,307 749,308 744,309 738,310 733,310 727,310 722,310 716,310 711,311 706,313 705,313 700,316 695,318 694,319 688,323 687,324 683,328 681,329 677,335 677,335 676,340 677,344 678,346 683,350 685,351 688,353 694,355 698,357 700,357 705,358 711,359 716,359 722,360 727,361 733,361 738,361 744,362 749,362 755,362 761,362 766,362 772,362 777,362 783,362 788,362 794,362 794,362 799,362 805,363 811,363 816,364 822,365 827,366 832,368 833,368 838,371 841,373 844,376 846,378 849,384 849,384 851,389 852,395 853,400 855,404 856,406 860,408 866,411 868,411 872,412 877,414 883,414 888,415 894,414 899,414 905,413 910,412 911,411 916,410 921,407 923,406 927,402 929,400 933,396 934,395 938,392 942,389 944,389 949,386 955,385 958,384 960,383 966,383 971,383 977,383 982,384 984,384 988,385 994,387 999,389 999,389 1005,393 1007,395 1010,400 1010,400 1012,406 1014,411 1015,417 1015,422 1016,426 1016,428 1016,433 1017,439 1020,444 1021,445 1026,450 1027,450 1032,452 1038,454 1041,455 1043,455 1049,456 1055,457 1060,457 1066,458 1071,459 1077,459 1082,460 1083,460 1088,461 1093,462 1099,464 1104,466 1104,466 1110,469 1114,471 1116,473 1121,477 1121,477 1127,481 1128,482 1132,486 1134,488 1138,492 1139,493 1143,497 1145,499 1149,503 1150,504 1154,509 1155,510 1160,515 1161,515 1165,520 1166,521 1171,525 1172,526 1177,530 1178,532 1182,535 1185,537 1188,539 1193,542 1194,542 1199,545 1204,548 1205,548 1210,550 1215,552 1219,553 1221,554 1226,556 1232,558 1233,559 1238,560 1243,562 1249,563 1254,564 1260,563 1265,560 1267,559 1271,555 1272,553 1276,548 1276,547 1278,542 1280,537 1282,533 1282,532 1284,526 1286,521 1287,516 1288,515 1290,510 1293,506 1294,504 1298,499 1299,499 1303,493 1304,493 1309,488 1310,487 1315,483 1317,482 1321,480 1325,477 1326,476 1332,473 1334,471 1337,469 1341,466 1343,465 1348,461 1349,460 1354,455 1354,455 1359,450 1360,449 1362,444 1365,439 1365,438 1366,433 1368,428 1369,422 1370,417 1371,416 1372,411 1373,406 1374,400 1375,395 1376,389 1376,386 1377,384 1377,378 1378,373 1379,368 1380,362 1380,357 1381,351 1382,346 1382,346 1383,340 1383,335 1384,329 1385,324 1385,318 1386,313 1387,307 1387,305 1388,302 1389,296 1390,291 1392,286 1393,283 1394,280 1396,275 1398,270 1399,269 1402,264 1404,262 1409,258 1410,257 1410,258 1410,264 1410,269 1410,275 1410,280 1410,286 1410,291 1410,296 1410,302 1410,307 1410,313 1410,318 1410,324 1410,329 1410,335 1410,340 1410,346 1410,351 1410,357 1410,362 1410,368 1410,373 1410,378 1410,384 1410,389 1410,395 1410,400 1410,406 1410,411 1410,417 1410,422 1410,428 1410,433 1410,439 1410,444 1410,450 1410,455 1410,460 1410,466 1410,471 1410,477 1410,482 1410,488 1410,493 1410,499 1410,504 1410,510 1410,515 1410,521 1410,526 1410,532 1410,537 1410,542 1410,548 1410,553 1410,559 1410,564 1410,570 1410,575 1410,581 1410,586 1410,592 1410,597 1410,603 1410,608 1410,614 1410,619 1410,624 1410,630 1410,635 1410,641 1410,646 1410,652 1410,657 1410,663 1410,668 1410,674 1410,679 1410,685 1410,690 1410,696 1410,701 1410,706 1410,712 1410,717 1410,723 1410,728 1410,734 1410,739 1410,745 1410,750 1410,756 1410,761 1410,767 1410,772 1410,778 1410,783 1410,788 1404,788 1398,788 1393,788 1387,788 1382,788 1376,788 1371,788 1365,788 1360,788 1354,788 1348,788 1343,788 1337,788 1332,788 1326,788 1321,788 1315,788 1310,788 1304,788 1299,788 1293,788 1287,788 1282,788 1276,788 1271,788 1265,788 1260,788 1254,788 1249,788 1243,788 1238,788 1232,788 1226,788 1221,788 1215,788 1210,788 1204,788 1199,788 1193,788 1188,788 1182,788 1177,788 1171,788 1165,788 1160,788 1154,788 1149,788 1143,788 1138,788 1132,788 1127,788 1121,788 1116,788 1110,788 1104,788 1099,788 1093,788 1088,788 1082,788 1077,788 1071,788 1066,788 1060,788 1055,788 1049,788 1043,788 1038,788 1032,788 1027,788 1021,788 1016,788 1010,788 1005,788 999,788 994,788 988,788 982,788 977,788 971,788 966,788 960,788 955,788 949,788 944,788 938,788 933,788 927,788 921,788 916,788 910,788 905,788 899,788 894,788 888,788 883,788 877,788 872,788 866,788 860,788 855,788 849,788 844,788 838,788 833,788 827,788 822,788 816,788 811,788 805,788 799,788 794,788 788,788 783,788 777,788 772,788 766,788 761,788 755,788 749,788 744,788 738,788 733,788 727,788 722,788 716,788 711,788 705,788 700,788 694,788 688,788 683,788 677,788 672,788 666,788 661,788 655,788 650,788 644,788 639,788 633,788 627,788 622,788 616,788 611,788 605,788 600,788 594,788 589,788 583,788 578,788 572,788 566,788 561,788 555,788 550,788 544,788 539,788 533,788 528,788 522,788 517,788 511,788 505,788 500,788 494,788 489,788 483,788 478,788 472,788 467,788 461,788 456,788 450,788 444,788 439,788 433,788 428,788 422,788 417,788 411,788 406,788 400,788 395,788 389,788 383,788 378,788 372,788 367,788 361,788 356,788 350,788 345,788 339,788 334,788 328,788 322,788 317,788 311,788 306,788 300,788 295,788 289,788 284,788 278,788 273,788 267,788 261,788 256,788 250,788 245,788 239,788 234,788 228,788 223,788 217,788 212,788 206,788 200,788 195,788 189,788 184,788 178,788 173,788 167,788 162,788 156,788 151,788 145,788 139,788 134,788 128,788 123,788 117,788 112,788 106,788 101,788 95,788 89,788 84,788 78,788 78,783 78,778 78,772 78,767 78,761 78,756 78,750 78,745 78,739 78,734 78,728 78,723 78,717 78,712 78,706 78,701 78,696 78,690 78,685 78,679 78,674 78,668 78,663 78,657 78,652 78,646 78,641 78,635 78,630 78,624 78,619 78,614 78,608 78,603 78,597 78,592 78,586 78,581 78,575 78,570 78,564 78,559 78,553 78,548 78,542 78,537 78,532 78,526 78,521 78,515 78,510 78,504 78,499 78,493 78,488 78,482 78,477 78,471 78,466 78,460 78,455 78,450 78,444 78,439 78,433 78,428 78,422 78,417 78,411 78,406 78,400 78,395 78,389 78,384 78,378 78,373 78,368 78,362 78,357 78,351 78,346 78,340 78,335 78,329 78,324 78,318 78,313 78,307 78,302 78,296 78,291 78,286 78,280 78,275 78,269 78,264 78,258 78,253 78,247 78,242 78,236 78,231 78,225 78,220 78,214 78,209 78,204 78,198 78,193 78,187 78,182 78,176 78,171 78,165 78,160 78,154 78,149 78,143 78,138ZM560,132 561,132 566,132 572,132 578,132 583,132 589,132 594,132 600,132 605,132 611,132 616,132 622,132 627,132 633,132 639,132 644,132 650,132 655,132 661,132 666,132 672,132 677,132 683,132 688,132 694,132 700,132 705,132 711,132 716,132 722,132 727,132 733,132 738,132 744,132 749,132 755,132 761,132 766,132 772,132 777,132 783,132 788,132 794,132 799,132 805,132 811,132 816,132 822,132 827,132 833,132 838,132 844,132 849,132 855,132 860,132 866,132 872,132 877,132 883,132 888,132 894,132 899,132 905,132 910,132 916,132 921,132 927,132 933,132 938,132 944,132 949,132 955,132 960,132 966,132 971,132 977,132 982,132 988,132 994,132 999,132 1005,132 1010,132 1016,132 1021,132 1027,132 1032,132 1038,132 1043,132 1049,132 1055,132 1060,132 1066,132 1071,132 1077,132 1082,132 1088,132 1093,132 1099,132 1104,132 1110,132 1116,132 1121,132 1127,132 1132,132 1138,132 1143,132 1149,132 1154,132 1160,132 1165,132 1171,132 1177,132 1182,132 1188,132 1193,132 1199,132 1204,132 1210,132 1215,132 1221,132 1226,132 1232,132 1238,132 1243,132 1249,132 1254,132 1260,132 1265,132 1271,132 1276,132 1282,132 1287,132 1293,132 1299,132 1304,132 1310,132 1315,132 1321,132 1326,132 1332,132 1337,132 1343,132 1348,132 1354,132 1360,132 1365,132 1371,132 1376,132 1382,132 1387,132 1393,132 1398,132 1404,132 1410,132 1410,138 1410,143 1410,149 1410,154 1410,160 1410,165 1410,171 1410,176 1410,179 1404,179 1398,179 1393,178 1387,178 1382,178 1376,177 1371,177 1365,177 1360,177 1354,177 1348,177 1343,177 1337,177 1332,177 1326,177 1321,177 1315,177 1310,177 1304,177 1299,177 1293,177 1287,177 1282,177 1276,177 1271,177 1265,177 1260,177 1254,177 1249,176 1246,176 1243,176 1238,176 1232,175 1226,175 1221,175 1215,174 1210,174 1204,174 1199,173 1193,173 1188,173 1182,173 1177,173 1171,173 1165,173 1160,173 1154,173 1149,173 1143,173 1138,173 1132,173 1127,173 1121,173 1116,173 1110,173 1104,173 1099,174 1093,174 1088,174 1082,174 1077,174 1071,174 1066,174 1060,174 1055,174 1049,174 1043,174 1038,174 1032,174 1027,174 1021,174 1016,174 1010,174 1005,174 999,174 994,174 988,174 982,174 977,174 971,174 966,174 960,174 955,174 949,175 944,175 938,175 933,176 927,176 924,176 921,176 916,177 910,178 905,179 899,179 894,180 888,181 885,182 883,182 877,183 872,184 866,185 860,185 855,186 849,187 844,187 841,187 838,187 833,187 827,188 822,187 816,187 811,187 810,187 805,187 799,186 794,186 788,185 783,185 777,184 772,184 766,183 761,182 757,182 755,181 749,180 744,179 738,178 733,177 732,176 727,175 722,173 716,171 715,171 711,169 705,167 700,165 700,165 694,163 688,161 685,160 683,159 677,157 672,156 668,154 666,154 661,153 655,151 650,150 644,149 641,149 639,149 633,148 627,147 622,147 616,147 611,146 605,146 600,145 594,145 589,144 583,144 582,143 578,143 572,141 566,139 566,138 561,134Z" fill="#0000ed" fill-rule="evenodd"/>
<path d="M382,165 383,165 389,165 395,165 399,165 400,165 406,166 411,166 417,166 422,167 428,167 433,167 439,168 444,168 450,168 456,168 461,168 467,168 472,168 478,168 483,168 489,168 494,168 500,169 505,169 511,169 517,170 520,171 522,171 528,173 533,176 533,177 538,182 539,182 542,187 544,190 545,193 549,198 550,200 552,204 555,209 555,209 560,214 561,216 565,220 566,222 570,225 572,227 575,231 578,233 582,236 583,237 589,240 593,242 594,242 600,244 605,244 611,245 616,245 622,246 627,246 633,247 633,247 639,249 644,251 647,253 650,255 654,258 655,260 659,264 661,265 665,269 666,271 672,275 672,275 677,278 680,280 683,284 685,286 685,291 683,294 682,296 677,302 677,302 672,307 672,308 667,313 666,313 661,318 661,318 655,323 654,324 650,329 649,329 646,335 646,340 647,346 650,349 651,351 655,356 656,357 661,360 664,362 666,363 672,366 677,368 678,368 683,369 688,370 694,370 700,371 705,372 708,373 711,374 716,375 722,377 725,378 727,379 733,382 738,384 739,384 744,385 749,386 755,387 761,387 766,387 772,387 777,387 783,387 788,387 794,387 799,387 805,388 811,389 812,389 816,391 821,395 822,396 824,400 827,406 827,406 831,411 833,413 837,417 838,418 844,421 846,422 849,424 855,426 860,427 864,428 866,428 872,429 877,429 883,430 888,430 894,430 899,430 905,430 910,430 916,429 921,429 926,428 927,428 933,426 938,423 940,422 944,420 947,417 949,416 955,411 955,411 960,408 966,406 971,407 975,411 977,415 977,417 977,422 977,422 972,428 971,429 966,433 966,433 963,439 963,444 965,450 966,455 966,455 968,460 971,464 975,466 977,467 982,468 988,469 994,469 999,470 1005,471 1010,471 1013,471 1016,472 1021,472 1027,473 1032,473 1038,474 1043,474 1049,475 1055,476 1058,477 1060,477 1066,479 1071,480 1077,482 1077,482 1082,485 1088,488 1088,488 1093,491 1096,493 1099,496 1102,499 1104,501 1107,504 1110,508 1111,510 1114,515 1116,519 1117,521 1120,526 1121,527 1125,532 1127,534 1130,537 1132,540 1135,542 1138,546 1139,548 1143,552 1145,553 1149,556 1152,559 1154,560 1160,564 1161,564 1165,567 1171,570 1171,570 1177,573 1181,575 1182,576 1188,579 1190,581 1193,583 1197,586 1199,588 1203,592 1204,593 1208,597 1210,599 1213,603 1215,606 1217,608 1221,612 1223,614 1226,617 1229,619 1232,621 1238,625 1238,625 1243,627 1249,629 1254,630 1255,630 1260,630 1265,630 1268,630 1271,630 1276,628 1282,626 1286,624 1287,623 1293,619 1293,619 1299,614 1299,614 1302,608 1304,605 1305,603 1307,597 1309,592 1310,587 1310,586 1311,581 1311,575 1312,570 1312,564 1313,559 1313,553 1313,548 1314,542 1314,537 1314,532 1315,526 1315,521 1315,520 1317,515 1320,510 1321,508 1324,504 1326,502 1330,499 1332,497 1336,493 1337,492 1343,488 1343,488 1348,484 1351,482 1354,480 1357,477 1360,475 1363,471 1365,469 1368,466 1371,462 1372,460 1375,455 1376,453 1378,450 1380,444 1382,439 1382,439 1383,433 1384,428 1385,422 1386,417 1387,412 1387,411 1389,406 1390,400 1391,395 1392,389 1393,384 1393,383 1394,378 1395,373 1396,368 1397,362 1398,357 1398,356 1400,351 1401,346 1403,340 1404,336 1404,335 1407,329 1409,324 1410,324 1410,324 1410,329 1410,335 1410,340 1410,346 1410,351 1410,357 1410,362 1410,368 1410,373 1410,378 1410,384 1410,389 1410,395 1410,400 1410,406 1410,411 1410,417 1410,422 1410,428 1410,433 1410,439 1410,444 1410,450 1410,455 1410,460 1410,466 1410,471 1410,477 1410,482 1410,488 1410,493 1410,499 1410,504 1410,510 1410,515 1410,521 1410,526 1410,532 1410,537 1410,542 1410,548 1410,553 1410,559 1410,564 1410,570 1410,575 1410,581 1410,586 1410,592 1410,597 1410,603 1410,608 1410,614 1410,619 1410,624 1410,630 1410,635 1410,641 1410,646 1410,652 1410,657 1410,663 1410,668 1410,674 1410,679 1410,685 1410,690 1410,696 1410,701 1410,706 1410,712 1410,717 1410,723 1410,728 1410,734 1410,739 1410,745 1410,750 1410,756 1410,761 1410,767 1410,772 1410,778 1410,783 1410,788 1404,788 1398,788 1393,788 1387,788 1382,788 1376,788 1371,788 1365,788 1360,788 1354,788 1348,788 1343,788 1337,788 1332,788 1326,788 1321,788 1315,788 1310,788 1304,788 1299,788 1293,788 1287,788 1282,788 1276,788 1271,788 1265,788 1260,788 1254,788 1249,788 1243,788 1238,788 1232,788 1226,788 1221,788 1215,788 1210,788 1204,788 1199,788 1193,788 1188,788 1182,788 1177,788 1171,788 1165,788 1160,788 1154,788 1149,788 1143,788 1138,788 1132,788 1127,788 1121,788 1116,788 1110,788 1104,788 1099,788 1093,788 1088,788 1082,788 1077,788 1071,788 1066,788 1060,788 1055,788 1049,788 1043,788 1038,788 1032,788 1027,788 1021,788 1016,788 1010,788 1005,788 999,788 994,788 988,788 982,788 977,788 971,788 966,788 960,788 955,788 949,788 944,788 938,788 933,788 927,788 921,788 916,788 910,788 905,788 899,788 894,788 888,788 883,788 877,788 872,788 866,788 860,788 855,788 849,788 844,788 838,788 833,788 827,788 822,788 816,788 811,788 805,788 799,788 794,788 788,788 783,788 777,788 772,788 766,788 761,788 755,788 749,788 744,788 738,788 733,788 727,788 722,788 716,788 711,788 705,788 700,788 694,788 688,788 683,788 677,788 672,788 666,788 661,788 655,788 650,788 644,788 639,788 633,788 627,788 622,788 616,788 611,788 605,788 600,788 594,788 589,788 583,788 578,788 572,788 566,788 561,788 555,788 550,788 544,788 539,788 533,788 528,788 522,788 517,788 511,788 505,788 500,788 494,788 489,788 483,788 478,788 472,788 467,788 461,788 456,788 450,788 444,788 439,788 433,788 428,788 422,788 417,788 411,788 406,788 400,788 395,788 389,788 383,788 378,788 372,788 367,788 361,788 356,788 350,788 345,788 339,788 334,788 328,788 322,788 317,788 311,788 306,788 300,788 295,788 289,788 284,788 278,788 273,788 267,788 261,788 256,788 250,788 245,788 239,788 234,788 228,788 223,788 217,788 212,788 206,788 200,788 195,788 189,788 184,788 178,788 173,788 167,788 162,788 156,788 151,788 145,788 139,788 134,788 128,788 123,788 117,788 112,788 106,788 101,788 95,788 89,788 84,788 78,788 78,783 78,778 78,772 78,767 78,761 78,756 78,750 78,745 78,739 78,734 78,728 78,723 78,717 78,712 78,706 78,701 78,696 78,690 78,685 78,679 78,674 78,668 78,663 78,657 78,652 78,646 78,641 78,635 78,630 78,624 78,619 78,614 78,608 78,603 78,597 78,592 78,586 78,581 78,575 78,570 78,564 78,559 78,553 78,548 78,542 78,537 78,532 78,526 78,521 78,515 78,510 78,504 78,499 78,493 78,488 78,482 78,477 78,471 78,466 78,460 78,455 78,450 78,444 78,439 78,433 78,428 78,422 78,417 78,411 78,406 78,400 78,395 78,389 78,384 78,378 78,373 78,368 78,362 78,357 78,351 78,346 78,340 78,335 78,329 78,324 78,318 78,313 78,307 78,302 78,296 78,291 78,286 78,280 78,275 78,269 78,264 78,258 78,253 78,247 78,242 78,236 78,231 78,225 78,220 78,214 78,209 78,204 78,203 84,201 89,199 95,198 95,198 101,197 106,196 112,195 117,194 123,193 128,193 131,193 134,192 139,192 145,191 151,190 156,190 162,189 167,189 173,189 178,188 184,188 189,188 195,187 200,187 201,187 206,187 212,187 217,187 223,187 228,187 234,187 239,187 245,187 246,187 250,187 256,187 261,187 267,187 273,187 278,187 284,187 287,187 289,187 295,187 300,186 306,186 311,185 317,184 322,182 324,182 328,181 334,179 339,177 340,176 345,174 350,172 354,171 356,170 361,168 367,167 372,166 378,166ZM860,755 858,756 855,756 849,758 844,759 838,760 834,761 833,762 827,764 822,766 819,767 816,768 811,771 809,772 805,776 804,778 805,779 811,783 811,783 816,784 822,785 827,785 833,786 838,786 844,786 849,786 855,786 860,786 866,786 872,785 877,785 883,784 887,783 888,783 894,781 899,780 904,778 905,777 910,772 911,772 912,767 912,761 911,756 910,755 905,751 899,751 894,751 888,751 883,751 877,752 872,753 866,754ZM977,541 972,542 971,543 966,546 961,548 960,549 955,553 955,554 950,559 949,562 948,564 949,566 952,570 955,571 960,573 966,575 970,575 971,575 977,576 982,576 988,577 994,577 999,577 1005,578 1010,578 1016,578 1021,578 1027,577 1032,577 1038,576 1040,575 1043,574 1049,572 1053,570 1055,568 1059,564 1060,563 1062,559 1060,553 1060,553 1056,548 1055,547 1049,544 1044,542 1043,542 1038,541 1032,541 1027,540 1021,539 1016,539 1010,539 1005,539 999,539 994,539 988,540 982,540ZM977,700 972,701 971,701 966,703 960,705 957,706 955,708 951,712 949,715 948,717 946,723 946,728 946,734 949,739 949,740 955,741 960,742 966,743 971,743 977,744 982,744 988,744 994,745 999,745 999,745 1005,745 1010,745 1014,745 1016,745 1021,744 1027,744 1032,743 1038,742 1043,740 1045,739 1049,736 1051,734 1054,728 1055,727 1055,723 1055,718 1054,717 1051,712 1049,710 1045,706 1043,705 1038,701 1037,701 1032,699 1027,698 1021,697 1016,697 1010,697 1005,697 999,698 994,698 988,699 982,700Z" fill="#0008ff" fill-rule="evenodd"/>
<path d="M363,187 367,186 372,186 378,185 383,185 389,184 395,184 400,184 406,184 411,185 417,185 422,185 428,185 433,185 439,186 444,186 450,186 456,186 461,186 467,186 472,186 478,186 483,187 488,187 489,187 494,188 500,189 505,190 511,191 515,193 517,193 522,196 526,198 528,199 533,203 533,204 539,208 539,209 544,214 545,214 550,219 551,220 555,224 557,225 561,230 562,231 566,235 567,236 572,240 575,242 578,244 583,247 584,247 589,249 594,251 600,253 600,253 605,254 611,255 616,256 622,257 626,258 627,259 633,261 636,264 639,266 642,269 644,271 647,275 650,277 653,280 655,284 656,286 655,289 655,291 650,296 650,297 645,302 644,302 639,307 639,308 634,313 633,314 629,318 627,321 625,324 622,329 622,329 620,335 620,340 622,346 622,346 625,351 627,355 629,357 633,360 635,362 639,364 644,368 644,368 650,370 655,373 657,373 661,374 666,376 672,377 677,378 679,378 683,379 688,381 694,382 700,383 702,384 705,385 711,386 716,388 719,389 722,390 727,392 733,394 737,395 738,395 744,396 749,398 755,399 761,400 766,400 766,400 772,402 777,403 783,405 785,406 788,409 791,411 792,417 794,422 794,423 795,428 797,433 799,436 802,439 805,440 811,442 816,443 822,444 827,444 831,444 833,444 838,444 844,444 849,444 855,444 860,444 866,445 872,445 877,445 883,445 888,445 894,446 899,446 905,447 910,448 916,449 916,450 921,451 927,454 929,455 933,457 936,460 938,462 943,466 944,466 949,469 954,471 955,472 960,474 966,476 967,477 971,479 977,481 981,482 982,483 988,485 994,486 999,486 1005,487 1010,487 1016,488 1021,488 1021,488 1027,488 1032,489 1038,490 1043,491 1049,492 1054,493 1055,493 1060,496 1066,499 1066,499 1071,504 1072,504 1072,510 1071,511 1067,515 1066,516 1060,518 1055,520 1050,521 1049,521 1043,521 1038,521 1032,521 1027,521 1021,521 1016,521 1010,521 1007,521 1005,521 999,520 994,520 989,521 988,521 982,521 977,522 971,524 966,526 965,526 960,528 955,530 953,532 949,533 944,536 943,537 938,540 935,542 933,544 928,548 927,548 921,552 920,553 916,556 910,558 909,559 905,561 899,563 895,564 894,565 888,567 883,569 880,570 877,571 872,573 866,574 862,575 860,576 855,578 849,580 848,581 844,585 843,586 844,591 844,592 849,597 850,597 855,600 859,603 860,603 866,606 871,608 872,608 877,611 883,613 886,614 888,614 894,615 899,615 904,614 905,613 910,612 916,610 920,608 921,607 927,605 933,603 933,603 938,601 944,600 949,599 955,598 960,598 966,598 971,599 977,600 982,603 983,603 988,606 991,608 994,610 997,614 999,616 1002,619 1005,623 1006,624 1008,630 1009,635 1009,641 1008,646 1006,652 1005,654 1002,657 999,660 997,663 994,666 990,668 988,670 982,674 982,674 977,677 972,679 971,679 966,681 960,683 955,684 954,685 949,685 944,686 938,688 933,689 929,690 927,691 921,693 916,696 916,696 910,701 910,701 906,706 905,709 903,712 899,717 899,717 894,723 894,723 888,727 885,728 883,729 877,731 872,732 867,734 866,734 860,735 855,737 849,738 846,739 844,740 838,742 833,744 830,745 827,746 822,748 816,750 815,750 811,752 805,753 799,755 798,756 794,757 788,760 785,761 783,762 777,764 772,766 771,767 766,768 761,770 755,772 754,772 749,775 745,778 744,780 743,783 743,788 738,788 733,788 727,788 722,788 716,788 711,788 705,788 700,788 694,788 688,788 683,788 677,788 672,788 666,788 661,788 655,788 650,788 644,788 639,788 633,788 627,788 622,788 616,788 611,788 605,788 600,788 594,788 589,788 583,788 578,788 572,788 566,788 561,788 555,788 550,788 544,788 539,788 533,788 528,788 522,788 517,788 511,788 505,788 500,788 494,788 489,788 483,788 478,788 472,788 467,788 461,788 456,788 450,788 444,788 439,788 433,788 428,788 422,788 417,788 411,788 406,788 400,788 395,788 389,788 383,788 378,788 372,788 367,788 361,788 356,788 350,788 345,788 339,788 334,788 328,788 322,788 317,788 311,788 306,788 300,788 295,788 289,788 284,788 278,788 273,788 267,788 261,788 256,788 250,788 245,788 239,788 234,788 228,788 223,788 217,788 212,788 206,788 200,788 195,788 189,788 184,788 178,788 173,788 167,788 162,788 156,788 151,788 145,788 139,788 134,788 128,788 123,788 117,788 112,788 106,788 101,788 95,788 89,788 84,788 78,788 78,783 78,778 78,772 78,767 78,761 78,756 78,750 78,745 78,739 78,734 78,728 78,723 78,717 78,712 78,706 78,701 78,696 78,690 78,685 78,679 78,674 78,668 78,663 78,657 78,652 78,646 78,641 78,635 78,630 78,624 78,619 78,614 78,608 78,603 78,597 78,592 78,586 78,581 78,575 78,570 78,564 78,559 78,553 78,548 78,542 78,537 78,532 78,526 78,521 78,515 78,510 78,504 78,499 78,493 78,488 78,482 78,477 78,471 78,466 78,460 78,455 78,450 78,444 78,439 78,433 78,428 78,422 78,417 78,411 78,406 78,400 78,395 78,389 78,384 78,378 78,373 78,368 78,362 78,357 78,351 78,346 78,340 78,335 78,329 78,324 78,318 78,313 78,307 78,302 78,296 78,291 78,286 78,280 78,275 79,275 81,269 84,264 84,263 86,258 88,253 89,249 90,247 92,242 95,236 95,235 98,231 101,228 103,225 106,222 110,220 112,219 117,217 123,215 123,215 128,213 134,212 139,211 145,210 148,209 151,209 156,208 162,207 167,206 173,205 178,205 184,204 189,204 189,204 195,203 200,202 206,202 212,202 217,201 223,201 228,201 234,201 239,201 245,201 250,201 256,201 261,201 267,200 273,200 278,200 284,200 289,200 295,200 300,199 306,199 311,198 311,198 317,197 322,196 328,195 334,194 339,193 339,193 345,191 350,190 356,189 361,187ZM1409,389 1410,387 1410,389 1410,395 1410,400 1410,406 1410,411 1410,417 1410,422 1410,428 1410,433 1410,439 1410,444 1410,450 1410,455 1410,460 1410,466 1410,471 1410,477 1410,482 1410,488 1410,493 1410,499 1410,504 1410,510 1410,515 1410,521 1410,526 1410,532 1410,537 1410,542 1410,548 1410,553 1410,559 1410,564 1410,570 1410,575 1410,581 1410,586 1410,592 1410,597 1410,603 1410,608 1410,614 1410,619 1410,624 1410,630 1410,635 1410,641 1410,646 1410,652 1410,657 1410,663 1410,668 1410,674 1410,679 1410,685 1410,690 1410,696 1410,701 1410,706 1410,712 1410,717 1410,723 1410,728 1410,734 1410,739 1410,745 1410,750 1410,756 1410,761 1410,767 1410,772 1410,778 1410,783 1410,788 1404,788 1398,788 1393,788 1387,788 1382,788 1376,788 1371,788 1365,788 1360,788 1354,788 1348,788 1343,788 1337,788 1332,788 1326,788 1321,788 1315,788 1310,788 1304,788 1299,788 1293,788 1287,788 1282,788 1276,788 1271,788 1265,788 1260,788 1254,788 1249,788 1243,788 1238,788 1232,788 1226,788 1221,788 1215,788 1210,788 1204,788 1199,788 1193,788 1188,788 1182,788 1177,788 1171,788 1165,788 1160,788 1154,788 1149,788 1143,788 1138,788 1132,788 1127,788 1121,788 1116,788 1110,788 1104,788 1099,788 1093,788 1088,788 1082,788 1077,788 1071,788 1066,788 1060,788 1055,788 1049,788 1043,788 1038,788 1032,788 1027,788 1021,788 1016,788 1010,788 1005,788 999,788 994,788 988,788 982,788 977,788 971,788 966,788 966,783 966,778 967,772 969,767 971,765 977,763 982,762 985,761 988,761 994,760 999,760 1005,760 1010,759 1016,759 1021,758 1027,758 1032,757 1038,757 1043,756 1044,756 1049,755 1055,754 1060,752 1066,751 1067,750 1071,749 1077,746 1080,745 1082,743 1086,739 1088,736 1089,734 1091,728 1092,723 1093,717 1093,712 1092,706 1092,701 1092,696 1092,690 1092,685 1092,679 1093,675 1094,674 1096,668 1099,664 1100,663 1104,659 1107,657 1110,655 1116,653 1118,652 1121,651 1127,650 1132,649 1138,649 1143,649 1149,649 1154,650 1160,651 1165,652 1167,652 1171,652 1177,653 1182,654 1188,654 1193,655 1199,656 1204,656 1210,657 1215,657 1219,657 1221,657 1226,658 1232,658 1238,658 1243,658 1249,658 1254,657 1255,657 1260,657 1265,657 1271,656 1276,655 1282,654 1287,653 1293,652 1293,652 1299,651 1304,649 1310,648 1315,647 1316,646 1321,645 1326,643 1331,641 1332,640 1337,636 1338,635 1342,630 1343,628 1345,624 1347,619 1348,614 1348,608 1348,603 1347,597 1347,592 1346,586 1345,581 1345,575 1344,570 1344,564 1343,559 1343,557 1343,553 1342,548 1342,542 1341,537 1341,532 1341,526 1341,521 1343,515 1343,515 1346,510 1348,508 1352,504 1354,502 1358,499 1360,497 1364,493 1365,492 1369,488 1371,486 1374,482 1376,480 1379,477 1382,473 1383,471 1386,466 1387,463 1388,460 1391,455 1393,450 1393,449 1394,444 1396,439 1397,433 1398,428 1398,427 1399,422 1401,417 1402,411 1403,406 1404,404 1405,400 1407,395Z" fill="#0030ff" fill-rule="evenodd"/>
<path d="M344,204 345,203 350,202 356,202 361,201 367,200 372,200 378,199 383,199 389,199 395,199 400,199 406,199 411,199 417,199 422,199 428,199 433,199 439,199 444,200 450,200 456,200 461,200 467,200 472,200 478,201 483,201 489,202 494,203 500,204 500,204 505,205 511,206 517,208 518,209 522,211 528,214 528,214 533,218 536,220 539,222 544,225 544,226 550,231 550,231 555,236 555,237 561,242 561,242 566,246 569,247 572,249 578,253 578,253 583,256 589,258 589,258 594,261 600,263 603,264 605,265 611,267 616,269 616,269 622,274 623,275 626,280 626,286 624,291 622,295 621,296 617,302 616,303 613,307 611,310 608,313 605,316 604,318 600,324 600,324 597,329 595,335 595,340 596,346 597,351 600,357 600,357 605,362 606,362 611,365 615,368 616,368 622,371 627,373 627,373 633,375 639,377 642,378 644,379 650,381 655,383 660,384 661,384 666,386 672,387 677,389 681,389 683,390 688,391 694,392 700,394 705,395 705,395 711,396 716,398 722,400 723,400 727,402 733,404 738,406 739,406 744,409 748,411 749,413 752,417 754,422 755,425 756,428 757,433 758,439 759,444 760,450 761,450 764,455 766,457 772,460 773,460 777,462 783,462 788,462 794,462 799,462 805,462 811,461 816,461 819,460 822,460 827,460 833,459 838,458 844,458 849,457 855,457 860,457 866,457 872,457 877,457 883,457 888,457 894,458 899,458 905,460 908,460 910,461 916,463 921,466 921,466 927,469 932,471 933,472 938,475 942,477 944,479 948,482 949,484 952,488 954,493 955,498 955,499 955,500 954,504 951,510 949,512 946,515 944,518 941,521 938,524 935,526 933,528 928,532 927,532 921,536 919,537 916,539 910,542 910,542 905,545 899,547 897,548 894,549 888,551 883,552 877,553 872,553 872,553 866,554 860,555 855,555 849,556 844,557 838,558 833,559 833,559 827,561 822,563 818,564 816,566 811,569 810,570 805,575 804,575 801,581 799,585 799,586 799,589 800,592 802,597 805,600 807,603 811,606 814,608 816,610 822,613 822,614 827,616 833,619 833,619 838,622 843,624 844,625 849,629 851,630 855,634 856,635 859,641 860,643 862,646 865,652 866,654 867,657 869,663 871,668 871,674 870,679 868,685 867,690 866,692 865,696 862,701 860,702 856,706 855,708 849,712 849,712 844,715 839,717 838,718 833,721 828,723 827,723 822,726 818,728 816,729 811,732 808,734 805,735 799,738 797,739 794,741 788,743 785,745 783,746 777,749 773,750 772,751 766,753 761,756 760,756 755,758 749,759 744,761 743,761 738,762 733,763 727,764 722,765 716,766 711,766 709,767 705,767 700,768 694,769 688,770 683,770 677,771 672,772 672,772 666,773 661,774 655,775 650,776 644,777 643,778 639,779 633,780 627,781 622,783 622,783 616,786 613,788 611,788 605,788 600,788 594,788 589,788 583,788 578,788 572,788 566,788 561,788 555,788 550,788 544,788 539,788 533,788 528,788 522,788 517,788 511,788 505,788 500,788 494,788 489,788 483,788 478,788 472,788 467,788 461,788 456,788 450,788 444,788 439,788 433,788 428,788 422,788 417,788 411,788 406,788 400,788 395,788 389,788 383,788 378,788 372,788 367,788 361,788 356,788 350,788 345,788 339,788 334,788 328,788 322,788 317,788 311,788 306,788 300,788 295,788 289,788 284,788 278,788 273,788 267,788 261,788 256,788 250,788 245,788 239,788 234,788 228,788 223,788 217,788 212,788 206,788 200,788 195,788 189,788 184,788 178,788 173,788 167,788 162,788 156,788 151,788 145,788 139,788 134,788 128,788 123,788 117,788 112,788 106,788 101,788 95,788 89,788 84,788 78,788 78,783 78,778 78,772 78,767 78,761 78,756 78,750 78,745 78,739 78,734 78,728 78,723 78,717 78,712 78,706 78,701 78,696 78,690 78,685 78,679 78,674 78,668 78,663 78,657 78,652 78,646 78,641 78,635 78,630 78,624 78,619 78,614 78,608 78,603 78,597 78,592 78,586 78,581 78,575 78,570 78,564 78,559 78,553 78,548 78,542 78,537 78,532 78,526 78,521 78,515 78,510 78,504 78,499 78,493 78,488 78,482 78,477 78,471 78,466 78,460 78,455 78,450 78,444 78,439 78,433 78,428 78,422 78,417 78,411 78,406 78,400 78,395 78,389 78,384 78,378 78,374 84,375 89,377 95,378 98,378 101,379 102,378 106,378 112,375 115,373 115,368 112,365 108,362 106,360 103,357 103,351 102,346 102,340 102,335 102,329 101,324 101,318 101,313 101,307 101,302 102,296 103,291 104,286 105,280 106,277 107,275 108,269 110,264 112,258 112,258 114,253 116,247 117,244 118,242 122,236 123,235 128,231 128,231 134,228 139,226 140,225 145,224 151,222 156,221 161,220 162,220 167,219 173,218 178,217 184,217 189,216 195,216 200,215 206,215 210,214 212,214 217,214 223,214 228,214 234,213 239,213 245,213 250,213 256,213 261,213 267,213 273,213 278,213 284,212 289,212 295,211 300,211 306,210 311,209 312,209 317,208 322,207 328,206 334,205 339,204ZM411,695 410,696 406,701 411,703 417,705 420,706 422,707 428,708 433,708 439,709 444,709 450,709 456,709 461,709 467,709 472,708 478,708 483,707 489,707 490,706 494,705 500,704 505,702 509,701 511,696 505,693 500,692 494,691 489,691 483,691 478,691 472,691 467,691 461,691 456,691 450,691 444,692 439,692 433,692 428,693 422,694 417,694ZM1409,450 1410,449 1410,450 1410,455 1410,460 1410,466 1410,471 1410,477 1410,482 1410,488 1410,493 1410,499 1410,504 1410,510 1410,515 1410,521 1410,526 1410,532 1410,537 1410,542 1410,548 1410,553 1410,559 1410,564 1410,570 1410,575 1410,581 1410,586 1410,592 1410,597 1410,603 1410,608 1410,614 1410,619 1410,624 1410,630 1410,635 1410,641 1410,646 1410,652 1410,657 1410,663 1410,668 1410,674 1410,679 1410,685 1410,690 1410,696 1410,701 1410,706 1410,712 1410,717 1410,723 1410,728 1410,734 1410,739 1410,745 1410,750 1410,756 1410,761 1410,767 1410,772 1410,778 1410,783 1410,788 1404,788 1398,788 1393,788 1387,788 1382,788 1376,788 1371,788 1365,788 1360,788 1354,788 1348,788 1343,788 1337,788 1332,788 1326,788 1321,788 1315,788 1310,788 1304,788 1299,788 1293,788 1287,788 1282,788 1276,788 1271,788 1265,788 1260,788 1254,788 1249,788 1243,788 1238,788 1232,788 1226,788 1221,788 1215,788 1210,788 1204,788 1199,788 1193,788 1188,788 1182,788 1177,788 1171,788 1165,788 1160,788 1154,788 1149,788 1143,788 1138,788 1132,788 1127,788 1121,788 1116,788 1110,788 1104,788 1099,788 1093,788 1088,788 1082,788 1077,788 1071,788 1066,788 1060,788 1055,788 1049,788 1049,788 1043,787 1038,784 1035,783 1032,779 1031,778 1032,776 1036,772 1038,771 1043,769 1049,767 1049,767 1055,765 1060,763 1066,762 1067,761 1071,760 1077,758 1082,756 1084,756 1088,754 1093,752 1099,750 1100,750 1104,748 1110,745 1111,745 1116,741 1118,739 1121,735 1122,734 1126,728 1127,726 1129,723 1132,718 1132,717 1136,712 1138,710 1141,706 1143,704 1146,701 1149,699 1154,696 1154,695 1160,693 1165,691 1167,690 1171,689 1177,688 1182,687 1188,686 1193,685 1193,685 1199,684 1204,683 1210,682 1215,682 1221,681 1226,680 1232,680 1235,679 1238,679 1243,678 1249,677 1254,677 1260,676 1265,675 1270,674 1271,674 1276,673 1282,671 1287,670 1293,669 1296,668 1299,668 1304,666 1310,665 1315,663 1318,663 1321,662 1326,660 1332,659 1336,657 1337,657 1343,655 1348,654 1354,652 1355,652 1360,650 1365,648 1370,646 1371,646 1376,643 1379,641 1382,638 1384,635 1387,630 1388,630 1390,624 1391,619 1390,614 1388,608 1387,607 1385,603 1383,597 1382,595 1380,592 1378,586 1377,581 1376,579 1375,575 1374,570 1373,564 1372,559 1371,555 1370,553 1370,548 1369,542 1368,537 1368,532 1367,526 1367,521 1369,515 1371,513 1373,510 1376,506 1378,504 1382,500 1383,499 1387,493 1387,493 1391,488 1393,485 1394,482 1397,477 1398,475 1400,471 1402,466 1404,462 1405,460 1407,455Z" fill="#0058ff" fill-rule="evenodd"/>
<path d="M375,209 378,209 383,209 389,209 395,209 400,209 406,209 411,209 417,209 418,209 422,209 428,209 433,210 439,210 444,210 450,210 456,210 461,211 467,211 472,211 478,212 483,213 489,213 494,214 495,214 500,216 505,217 511,219 515,220 517,221 522,223 528,225 528,225 533,229 536,231 539,233 542,236 544,239 547,242 550,244 554,247 555,248 561,252 562,253 566,256 571,258 572,259 578,263 579,264 583,266 588,269 589,270 594,274 595,275 598,280 599,286 597,291 594,296 594,297 591,302 589,304 586,307 583,310 581,313 578,317 576,318 573,324 572,326 571,329 570,335 569,340 570,346 570,351 572,357 572,357 575,362 578,364 581,368 583,369 589,371 593,373 594,374 600,375 605,377 611,378 611,379 616,380 622,382 627,383 629,384 633,385 639,387 644,389 646,389 650,390 655,392 661,394 664,395 666,396 672,397 677,398 683,399 687,400 688,401 694,402 700,403 705,405 707,406 711,407 716,410 718,411 722,414 725,417 727,419 730,422 733,427 733,428 736,433 737,439 738,443 739,444 740,450 741,455 742,460 744,466 744,467 746,471 749,476 751,477 755,479 761,480 766,480 772,479 777,478 783,477 786,477 788,476 794,475 799,474 805,473 811,472 816,471 816,471 822,471 827,470 833,469 838,468 844,468 849,467 855,467 860,466 864,466 866,466 872,466 877,466 883,466 884,466 888,466 894,467 899,468 905,469 910,471 911,471 916,474 921,476 923,477 927,480 930,482 933,487 933,488 935,493 935,499 934,504 933,507 931,510 927,515 927,515 921,520 921,521 916,525 914,526 910,528 905,531 904,532 899,534 894,536 891,537 888,538 883,539 877,541 872,542 866,542 864,542 860,543 855,544 849,544 844,545 838,545 833,546 827,547 822,548 820,548 816,549 811,551 805,553 803,553 799,555 794,559 794,559 788,564 788,564 783,570 783,570 778,575 777,577 775,581 773,586 772,592 772,596 772,597 772,598 772,603 773,608 775,614 777,616 780,619 783,621 788,624 790,624 794,626 799,628 804,630 805,630 811,633 814,635 816,637 820,641 822,642 824,646 827,651 828,652 830,657 831,663 832,668 831,674 829,679 827,682 826,685 823,690 822,692 819,696 816,699 814,701 811,705 809,706 805,709 802,712 799,714 795,717 794,719 789,723 788,723 783,727 782,728 777,731 772,734 772,734 766,736 761,738 758,739 755,740 749,742 744,744 741,745 738,746 733,747 727,749 722,750 720,750 716,751 711,752 705,753 700,754 694,754 688,755 683,756 681,756 677,756 672,757 666,757 661,758 655,758 650,759 644,759 639,760 633,760 627,761 627,761 622,762 616,763 611,764 605,765 601,767 600,767 594,769 589,771 587,772 583,775 580,778 578,780 574,783 572,787 571,788 566,788 561,788 555,788 550,788 544,788 539,788 533,788 528,788 522,788 517,788 511,788 505,788 500,788 494,788 489,788 483,788 478,788 472,788 467,788 461,788 456,788 450,788 444,788 439,788 433,788 428,788 422,788 417,788 411,788 406,788 400,788 395,788 389,788 383,788 378,788 372,788 367,788 361,788 356,788 350,788 345,788 339,788 334,788 328,788 322,788 317,788 311,788 306,788 300,788 295,788 289,788 284,788 278,788 273,788 267,788 261,788 256,788 250,788 245,788 239,788 234,788 228,788 223,788 217,788 212,788 206,788 200,788 195,788 189,788 184,788 178,788 173,788 167,788 162,788 156,788 151,788 145,788 139,788 134,788 128,788 123,788 117,788 112,788 106,788 101,788 95,788 89,788 84,788 78,788 78,783 78,778 78,772 78,767 78,761 78,756 78,750 78,745 78,739 78,734 78,728 78,723 78,717 78,712 78,706 78,701 78,696 78,690 78,685 78,679 78,674 78,668 78,663 78,657 78,655 84,656 89,656 95,657 101,656 106,655 112,653 113,652 113,646 112,641 112,636 112,635 110,630 108,624 106,621 105,619 101,614 100,614 95,609 94,608 89,605 84,603 84,603 78,601 78,597 78,592 78,586 78,581 78,575 78,570 78,564 78,559 78,553 78,548 78,542 78,537 78,532 78,526 78,521 78,515 78,510 78,504 78,499 78,493 78,488 78,482 78,477 78,471 78,466 78,460 78,455 78,450 78,444 78,439 78,433 78,428 78,422 78,417 78,411 78,406 78,400 78,397 84,396 89,396 95,395 96,395 101,394 106,393 112,392 117,391 121,389 123,389 128,387 134,385 138,384 139,383 145,380 149,378 151,377 154,373 156,368 156,368 156,367 155,362 152,357 151,354 149,351 146,346 145,343 144,340 142,335 140,329 139,328 138,324 136,318 135,313 134,307 134,306 133,302 133,296 134,291 134,291 135,286 136,280 138,275 139,269 139,269 141,264 144,258 145,255 146,253 150,247 151,246 154,242 156,240 162,237 163,236 167,235 173,233 178,232 183,231 184,231 189,230 195,229 200,228 206,228 212,227 217,227 223,227 228,227 234,227 239,227 245,227 250,227 256,227 261,227 267,227 273,227 278,226 284,226 289,226 293,225 295,225 300,225 306,224 311,222 317,221 319,220 322,219 328,217 334,216 337,214 339,214 345,213 350,212 356,211 361,210 367,210 372,209ZM494,673 491,674 489,674 483,675 478,676 472,677 467,678 461,679 458,679 456,679 450,680 444,680 439,681 433,681 428,681 422,682 417,682 411,682 406,682 400,682 395,683 389,683 383,683 378,683 372,684 367,685 366,685 361,686 356,688 352,690 351,696 355,701 356,702 361,705 364,706 367,708 372,710 378,712 379,712 383,713 389,714 395,715 400,716 406,717 411,717 415,717 417,718 422,718 428,718 433,719 439,719 444,719 450,719 456,719 461,719 467,719 472,719 478,718 483,718 489,718 494,718 499,717 500,717 505,717 511,717 517,716 522,716 528,715 533,714 539,713 544,712 547,712 550,711 555,710 561,708 566,707 566,706 572,704 577,701 578,700 582,696 582,690 578,686 576,685 572,682 567,679 566,679 561,677 555,675 551,674 550,673 544,673 539,672 533,671 528,671 522,671 517,671 511,671 505,672 500,672ZM1405,504 1410,500 1410,504 1410,510 1410,515 1410,521 1410,526 1410,532 1410,537 1410,542 1410,548 1410,553 1410,559 1410,564 1410,570 1410,575 1410,576 1409,575 1405,570 1404,567 1403,564 1400,559 1398,554 1398,553 1397,548 1396,542 1395,537 1394,532 1394,526 1395,521 1397,515 1398,513 1401,510 1404,506ZM1402,652 1404,651 1410,649 1410,652 1410,657 1410,663 1410,668 1410,674 1410,679 1410,685 1410,690 1410,696 1410,701 1410,706 1410,712 1410,717 1410,723 1410,728 1410,734 1410,739 1410,745 1410,750 1410,756 1410,761 1410,767 1410,772 1410,778 1410,783 1410,788 1404,788 1398,788 1393,788 1387,788 1382,788 1376,788 1371,788 1365,788 1360,788 1354,788 1348,788 1343,788 1337,788 1332,788 1326,788 1321,788 1315,788 1310,788 1304,788 1299,788 1293,788 1287,788 1282,788 1276,788 1271,788 1265,788 1260,788 1254,788 1249,788 1243,788 1238,788 1232,788 1226,788 1221,788 1215,788 1210,788 1204,788 1199,788 1193,788 1188,788 1182,788 1177,788 1171,788 1165,788 1160,788 1154,788 1149,788 1143,788 1138,788 1132,788 1127,788 1125,788 1121,788 1116,787 1110,786 1104,785 1099,784 1093,783 1093,783 1088,781 1082,779 1079,778 1079,772 1082,770 1086,767 1088,766 1093,764 1099,762 1101,761 1104,760 1110,758 1116,757 1118,756 1121,755 1127,753 1132,751 1133,750 1138,748 1143,746 1145,745 1149,742 1153,739 1154,738 1159,734 1160,733 1165,729 1167,728 1171,725 1175,723 1177,722 1182,719 1185,717 1188,716 1193,714 1197,712 1199,711 1204,709 1210,708 1215,706 1215,706 1221,705 1226,704 1232,703 1238,702 1243,701 1243,701 1249,700 1254,699 1260,698 1265,697 1271,696 1271,696 1276,694 1282,693 1287,691 1290,690 1293,689 1299,687 1304,686 1307,685 1310,684 1315,682 1321,680 1324,679 1326,678 1332,677 1337,675 1341,674 1343,673 1348,671 1354,669 1357,668 1360,667 1365,665 1371,663 1372,663 1376,661 1382,659 1386,657 1387,657 1393,655 1398,653Z" fill="#0080ff" fill-rule="evenodd"/>
<path d="M368,220 372,219 378,219 383,219 389,219 395,219 400,219 406,219 411,219 417,220 420,220 422,220 428,221 433,222 439,222 444,223 450,223 456,223 461,224 467,224 472,224 478,225 483,225 485,225 489,226 494,227 500,228 505,229 511,230 514,231 517,232 522,235 524,236 528,239 531,242 533,244 538,247 539,248 544,253 545,253 550,257 552,258 555,261 559,264 561,266 564,269 566,272 569,275 571,280 569,286 566,289 565,291 561,295 559,296 555,301 554,302 551,307 550,313 550,315 550,318 549,324 548,329 546,335 545,340 544,346 544,346 544,351 543,357 543,362 544,368 544,368 546,373 549,378 550,380 555,384 555,384 561,385 566,385 572,385 578,385 583,385 589,385 594,385 600,386 605,387 611,388 616,389 617,389 622,391 627,392 633,394 635,395 639,396 644,398 650,399 653,400 655,401 661,402 666,404 672,405 674,406 677,407 683,408 688,410 692,411 694,412 700,415 704,417 705,418 711,422 711,422 716,427 717,428 721,433 722,435 724,439 726,444 727,450 727,451 728,455 729,460 730,466 731,471 732,477 733,480 734,482 738,488 738,488 744,491 749,493 753,493 755,493 761,493 762,493 766,493 772,492 777,491 783,489 787,488 788,487 794,486 799,484 805,483 807,482 811,482 816,480 822,479 827,479 833,478 838,477 838,477 844,476 849,476 855,475 860,475 866,474 872,474 877,474 883,475 888,475 894,476 898,477 899,477 905,479 910,482 911,482 916,487 916,488 918,493 919,499 917,504 916,506 913,510 910,513 908,515 905,517 899,520 899,521 894,523 888,525 886,526 883,527 877,529 872,530 866,531 863,532 860,532 855,533 849,534 844,534 838,535 833,536 827,536 822,537 822,537 816,538 811,539 805,540 799,542 797,542 794,544 788,546 783,548 783,548 777,552 775,553 772,556 768,559 766,561 763,564 761,567 758,570 755,573 753,575 749,579 748,581 744,586 744,587 741,592 738,597 738,597 735,603 733,606 731,608 728,614 727,615 725,619 722,623 721,624 718,630 716,634 716,635 715,641 715,646 716,649 718,652 722,657 722,657 727,661 731,663 733,664 738,666 744,668 746,668 749,669 755,671 761,673 763,674 766,675 772,679 772,679 775,685 775,690 774,696 772,700 771,701 767,706 766,707 761,712 761,713 755,717 755,717 749,721 746,723 744,724 738,726 733,727 729,728 727,729 722,729 716,730 711,731 705,731 700,732 694,732 688,733 683,733 681,734 677,734 672,735 666,736 661,737 655,739 654,739 650,740 644,740 639,741 633,741 627,742 622,743 616,744 612,745 611,745 605,746 600,747 594,749 591,750 589,751 583,753 579,756 578,757 572,760 570,761 566,763 562,767 561,767 555,771 554,772 550,777 549,778 544,783 544,783 540,788 539,788 533,788 528,788 522,788 517,788 511,788 505,788 500,788 494,788 489,788 483,788 478,788 472,788 467,788 461,788 456,788 450,788 444,788 439,788 433,788 428,788 422,788 417,788 411,788 406,788 400,788 395,788 389,788 383,788 378,788 372,788 367,788 361,788 356,788 350,788 345,788 339,788 334,788 328,788 322,788 317,788 311,788 306,788 300,788 295,788 289,788 284,788 278,788 273,788 267,788 261,788 256,788 250,788 245,788 239,788 234,788 228,788 223,788 217,788 212,788 206,788 200,788 195,788 189,788 184,788 178,788 173,788 167,788 162,788 156,788 151,788 145,788 139,788 134,788 128,788 123,788 117,788 112,788 106,788 101,788 95,788 89,788 84,788 78,788 78,783 78,778 78,772 78,767 78,761 78,756 78,750 78,745 78,739 78,734 78,728 78,723 78,717 78,712 78,706 78,701 78,696 78,690 78,685 78,679 78,677 84,677 89,677 95,676 101,676 106,676 112,675 117,675 123,675 128,675 134,675 139,675 145,675 151,675 156,675 162,675 167,675 173,675 178,675 184,676 189,678 192,679 195,680 200,681 206,682 212,683 217,685 218,685 223,685 228,686 234,687 239,687 245,688 250,688 256,688 261,689 267,689 273,690 277,690 278,690 284,691 289,691 295,692 300,694 306,695 307,696 311,697 317,700 319,701 322,703 328,706 329,706 334,709 339,712 339,712 345,715 350,717 351,717 356,719 361,721 367,722 370,723 372,723 378,724 383,725 389,726 395,727 400,727 406,727 411,728 417,728 421,728 422,728 428,729 433,729 439,729 444,729 450,729 456,729 461,729 467,729 472,728 474,728 478,728 483,728 489,728 494,728 500,727 505,727 511,727 517,727 522,727 528,727 533,727 539,727 544,727 550,726 555,726 561,726 566,726 572,726 578,726 583,726 589,727 594,727 600,727 605,727 611,727 616,727 622,727 627,726 633,726 639,725 644,723 645,723 650,721 653,717 655,715 657,712 660,706 661,702 661,701 661,696 661,695 659,690 655,685 654,685 650,682 644,680 639,679 639,679 633,678 627,676 622,675 616,674 614,674 611,673 605,671 600,670 594,669 592,668 589,668 583,666 578,665 572,665 566,664 561,663 555,663 550,663 550,663 544,662 539,662 533,662 528,662 522,662 517,663 517,663 511,663 505,664 500,664 494,665 489,666 483,667 478,667 473,668 472,668 467,669 461,670 456,671 450,671 444,672 439,672 433,672 428,673 422,673 417,673 411,673 406,673 400,673 395,673 389,673 383,673 378,673 372,673 367,673 361,672 356,672 350,672 345,671 339,671 334,670 328,668 327,668 322,667 317,665 311,663 310,663 306,662 300,661 295,660 289,661 284,662 279,663 278,663 273,665 267,666 261,667 256,668 253,668 250,669 245,669 239,670 234,671 228,671 223,671 217,671 212,671 206,671 200,671 195,671 189,670 184,669 183,668 178,666 174,663 173,662 169,657 167,655 164,652 162,649 159,646 156,644 153,641 151,638 149,635 145,630 145,630 141,624 139,622 137,619 134,614 133,614 130,608 128,606 125,603 123,599 121,597 117,592 117,592 113,586 112,585 109,581 106,578 104,575 101,571 99,570 95,566 94,564 89,561 87,559 84,557 78,554 78,553 78,548 78,542 78,537 78,532 78,526 78,521 78,515 78,510 78,504 78,499 78,493 78,488 78,482 78,477 78,471 78,466 78,460 78,455 78,450 78,444 78,439 78,433 78,428 78,422 78,417 78,412 80,411 84,410 89,408 95,406 97,406 101,405 106,403 112,401 115,400 117,400 123,398 128,396 133,395 134,395 139,393 145,391 148,389 151,388 156,386 161,384 162,383 167,380 169,378 173,375 175,373 178,370 181,368 184,363 185,362 186,357 185,351 184,346 184,346 182,340 181,335 180,329 179,324 178,318 178,316 178,313 178,311 178,307 179,302 181,296 182,291 183,286 184,282 184,280 187,275 189,270 190,269 194,264 195,263 200,258 200,258 206,253 207,253 212,250 217,247 218,247 223,246 228,245 234,244 239,244 245,244 250,243 256,243 261,243 267,243 273,243 278,242 284,242 289,242 293,242 295,242 300,241 306,241 311,240 317,239 322,238 327,236 328,236 334,234 339,231 340,231 345,229 350,226 351,225 356,224 361,222 367,220ZM1404,674 1404,674 1410,671 1410,674 1410,679 1410,685 1410,690 1410,696 1410,701 1410,706 1410,712 1410,717 1410,723 1410,728 1410,734 1410,739 1410,745 1410,750 1410,756 1410,761 1410,767 1410,772 1410,778 1410,783 1410,788 1404,788 1398,788 1393,788 1387,788 1382,788 1376,788 1371,788 1365,788 1360,788 1354,788 1348,788 1343,788 1337,788 1332,788 1326,788 1321,788 1315,788 1310,788 1304,788 1299,788 1293,788 1287,788 1282,788 1276,788 1271,788 1265,788 1260,788 1254,788 1249,788 1243,788 1238,788 1232,788 1226,788 1225,788 1221,786 1215,783 1215,783 1210,781 1204,779 1199,778 1199,778 1193,776 1188,775 1182,774 1177,774 1171,773 1165,773 1160,772 1160,772 1154,771 1149,770 1143,767 1143,767 1143,766 1149,762 1150,761 1154,759 1160,756 1161,756 1165,754 1171,751 1173,750 1177,749 1182,746 1186,745 1188,744 1193,741 1198,739 1199,739 1204,736 1209,734 1210,733 1215,731 1221,729 1222,728 1226,726 1232,724 1237,723 1238,723 1243,721 1249,720 1254,718 1257,717 1260,717 1265,716 1271,715 1276,714 1282,713 1287,712 1289,712 1293,711 1299,710 1304,709 1310,708 1315,707 1317,706 1321,706 1326,704 1332,702 1336,701 1337,700 1343,699 1348,697 1351,696 1354,694 1360,693 1365,690 1366,690 1371,688 1376,686 1380,685 1382,684 1387,682 1392,679 1393,679 1398,676Z" fill="#00a4ff" fill-rule="evenodd"/>
<path d="M348,253 350,253 356,252 361,252 367,252 372,252 378,252 383,252 389,252 393,253 395,253 400,253 406,254 411,255 417,256 422,257 428,258 430,258 433,259 439,260 444,261 450,261 456,261 461,261 467,260 472,259 478,258 478,258 483,257 489,257 494,256 500,257 505,257 510,258 511,258 517,260 522,263 523,264 528,267 530,269 533,275 531,280 528,282 522,285 522,286 517,288 511,290 508,291 505,292 500,294 494,295 489,296 489,297 483,298 478,300 472,301 469,302 467,305 465,307 467,308 472,309 478,310 483,311 489,311 494,312 500,313 500,313 505,314 511,315 517,317 519,318 522,323 522,324 522,325 521,329 518,335 517,338 515,340 511,346 511,346 508,351 507,357 508,362 510,368 511,371 512,373 515,378 517,381 518,384 522,387 525,389 528,391 533,392 539,394 541,395 544,396 550,396 555,397 561,397 566,397 572,397 578,396 583,396 589,396 594,395 600,396 605,396 611,397 616,398 622,400 624,400 627,401 633,403 639,404 644,406 644,406 650,407 655,409 661,410 665,411 666,412 672,413 677,415 682,417 683,417 688,419 694,422 694,422 700,426 702,428 705,431 707,433 711,437 712,439 715,444 716,448 717,450 718,455 719,460 720,466 721,471 721,477 722,482 722,482 723,488 727,493 727,494 733,497 736,499 738,500 744,501 749,502 755,502 761,502 766,502 772,502 777,502 783,501 788,501 794,499 796,499 799,498 805,496 810,493 811,493 816,492 822,490 827,488 828,488 833,487 838,486 844,486 849,485 855,485 860,484 866,484 872,484 877,485 883,485 888,487 891,488 894,490 897,493 898,499 895,504 894,506 888,510 888,510 883,512 877,514 873,515 872,515 866,517 860,518 855,519 849,520 844,521 843,521 838,521 833,522 827,523 822,524 816,526 815,526 811,527 805,528 799,529 794,531 791,532 788,532 783,534 777,536 774,537 772,538 766,541 762,542 761,544 755,547 753,548 749,551 745,553 744,555 738,559 738,559 733,563 730,564 727,566 722,570 722,570 716,574 715,575 711,579 708,581 705,584 702,586 700,589 697,592 694,595 692,597 688,600 686,603 683,605 680,608 677,610 673,614 672,615 666,619 666,619 661,622 657,624 655,625 650,628 645,630 644,630 639,632 633,634 627,635 627,635 622,637 616,638 611,639 605,640 602,641 600,641 594,642 589,643 583,644 578,645 572,646 569,646 566,647 561,647 555,648 550,649 544,649 539,650 533,651 528,651 525,652 522,652 517,653 511,654 505,654 500,655 494,656 490,657 489,657 483,658 478,659 472,660 467,661 461,662 456,663 454,663 450,663 444,664 439,664 433,665 428,665 422,665 417,665 411,665 406,665 400,666 395,666 389,665 383,665 378,665 372,665 367,664 361,663 357,663 356,662 350,661 345,659 339,657 339,657 334,655 328,652 326,652 322,650 317,648 311,647 309,646 306,646 300,645 295,644 289,645 284,645 278,646 277,646 273,647 267,648 261,649 256,651 252,652 250,652 245,654 239,655 234,655 228,656 223,656 217,655 212,654 206,653 203,652 200,651 195,648 193,646 189,644 185,641 184,640 179,635 178,635 173,630 173,630 168,624 167,623 164,619 162,617 159,614 156,609 155,608 151,603 151,602 147,597 145,595 143,592 139,587 139,586 135,581 134,580 131,575 128,572 127,570 123,564 123,564 118,559 117,558 113,553 112,552 106,548 106,548 101,544 98,542 95,540 89,537 89,537 84,533 82,532 79,526 78,525 78,521 78,515 78,510 78,504 78,499 78,493 78,488 78,482 78,477 78,471 78,466 78,460 78,455 78,450 78,444 78,439 78,435 80,433 84,429 85,428 89,424 92,422 95,420 99,417 101,416 106,413 110,411 112,410 117,408 123,406 124,406 128,404 134,403 139,401 140,400 145,399 151,396 154,395 156,394 162,392 167,389 167,389 173,386 177,384 178,383 184,380 186,378 189,376 194,373 195,372 200,369 203,368 206,366 212,364 216,362 217,361 223,358 227,357 228,355 232,351 234,348 235,346 238,340 239,337 240,335 240,329 239,325 239,324 238,318 236,313 236,307 235,302 235,296 237,291 239,287 240,286 245,280 245,280 250,275 251,275 256,271 260,269 261,268 267,266 272,264 273,264 278,262 284,260 289,259 295,258 295,258 300,257 306,257 311,256 317,256 322,255 328,254 334,254 339,253 345,253ZM100,696 101,695 106,695 112,694 117,693 123,693 128,693 134,693 139,693 145,694 151,694 156,695 162,695 163,696 167,696 173,697 178,699 184,700 189,701 192,701 195,702 200,703 206,704 212,705 217,705 223,706 226,706 228,707 234,707 239,708 245,708 250,709 256,709 261,710 267,710 273,711 278,712 281,712 284,713 289,714 295,716 298,717 300,718 306,721 308,723 311,725 317,727 319,728 322,730 328,733 331,734 334,735 339,738 341,739 345,744 345,745 347,750 349,756 350,758 351,761 354,767 356,772 356,772 357,778 358,783 359,788 356,788 350,788 345,788 339,788 334,788 328,788 322,788 317,788 311,788 306,788 300,788 295,788 289,788 284,788 278,788 273,788 267,788 261,788 256,788 250,788 245,788 243,788 240,783 239,782 235,778 234,776 228,772 228,772 223,769 217,767 216,767 212,766 206,764 200,763 195,762 189,761 187,761 184,761 178,760 173,759 167,759 162,758 156,758 151,757 145,756 139,756 138,756 134,755 128,755 123,754 117,754 112,753 106,753 101,752 95,752 89,751 84,751 80,750 78,750 78,745 78,739 78,734 78,728 78,723 78,717 78,712 78,706 78,701 78,700 84,699 89,698 95,697ZM442,745 444,745 450,744 456,744 461,744 467,744 472,744 478,743 483,743 489,743 494,743 500,743 505,744 511,744 517,744 520,745 522,745 528,747 533,750 530,756 528,757 522,760 520,761 517,762 511,764 505,764 500,764 494,764 489,764 483,764 478,763 472,763 467,762 461,762 458,761 456,761 450,760 444,760 439,759 433,758 428,757 422,756 422,756 417,751 416,750 417,750 422,748 428,747 433,746 439,745ZM1374,745 1376,745 1382,744 1387,743 1393,742 1398,741 1404,740 1410,740 1410,745 1410,750 1410,756 1410,761 1410,767 1410,772 1410,774 1404,773 1398,773 1393,772 1389,772 1387,772 1382,772 1376,771 1371,771 1365,771 1360,771 1354,771 1348,772 1343,772 1337,772 1337,772 1332,772 1326,773 1321,773 1315,773 1310,773 1304,773 1299,773 1293,774 1287,773 1282,773 1276,773 1271,773 1265,772 1265,772 1260,771 1254,770 1249,769 1243,768 1238,767 1238,766 1232,764 1226,762 1223,761 1224,756 1226,755 1232,753 1238,751 1240,750 1243,749 1249,748 1254,747 1260,747 1265,746 1271,746 1276,746 1282,745 1287,745 1293,745 1299,745 1304,745 1310,745 1315,745 1321,746 1326,746 1332,746 1337,746 1343,746 1348,746 1354,746 1360,746 1365,745 1371,745Z" fill="#00ccff" fill-rule="evenodd"/>
<path d="M336,275 339,274 345,273 350,273 356,272 361,272 367,272 372,273 378,274 381,275 383,276 389,278 392,280 395,282 398,286 400,288 402,291 402,296 402,302 403,307 404,313 406,315 407,318 411,324 411,324 416,329 417,330 422,335 422,335 428,339 430,340 433,343 439,346 439,346 444,349 449,351 450,352 456,354 460,357 461,357 467,360 469,362 472,364 477,368 478,368 483,373 483,373 489,378 489,378 494,383 495,384 500,387 503,389 505,391 511,393 515,395 517,395 522,397 528,398 533,400 536,400 539,401 544,402 550,403 555,403 561,404 566,404 572,404 578,404 583,404 589,404 594,404 600,404 605,405 611,406 611,406 616,407 622,408 627,409 633,411 635,411 639,412 644,413 650,415 655,416 657,417 661,418 666,419 672,421 675,422 677,423 683,426 686,428 688,429 694,433 694,433 700,438 700,439 704,444 705,446 707,450 709,455 710,460 711,463 711,466 712,471 712,477 712,482 713,488 714,493 716,496 718,499 722,502 727,504 727,505 733,507 738,509 742,510 744,511 749,513 755,515 755,515 757,521 755,522 751,526 749,527 744,530 741,532 738,533 733,536 731,537 727,539 722,542 721,542 716,545 711,548 710,548 705,551 700,553 700,554 694,558 693,559 688,562 686,564 683,567 680,570 677,572 674,575 672,578 669,581 666,584 663,586 661,589 657,592 655,593 650,597 649,597 644,600 639,602 638,603 633,605 627,607 623,608 622,608 616,610 611,611 605,613 600,614 600,614 594,615 589,616 583,618 578,619 576,619 572,620 566,622 561,623 557,624 555,625 550,627 544,629 540,630 539,630 533,632 528,634 523,635 522,636 517,637 511,639 505,641 505,641 500,642 494,644 489,645 486,646 483,647 478,648 472,650 467,651 462,652 461,652 456,653 450,654 444,654 439,655 433,656 428,656 422,657 417,657 414,657 411,657 406,658 400,658 395,658 389,657 386,657 383,657 378,657 372,656 367,655 361,653 357,652 356,651 350,649 345,646 345,646 339,643 336,641 334,639 329,635 328,634 323,630 322,629 317,625 317,624 311,622 306,620 303,619 300,619 295,619 291,619 289,619 284,621 278,622 273,624 272,624 267,627 261,629 258,630 256,631 250,633 245,634 239,635 236,635 234,636 228,636 223,635 222,635 217,634 212,633 206,631 205,630 200,628 196,624 195,624 189,620 189,619 184,614 183,614 178,609 178,608 173,603 173,602 168,597 167,596 164,592 162,589 160,586 156,582 155,581 151,575 151,574 148,570 145,566 144,564 140,559 139,558 135,553 134,552 130,548 128,547 123,542 123,542 117,538 116,537 112,532 111,532 109,526 107,521 106,517 106,515 103,510 101,504 101,503 99,499 98,493 97,488 97,482 96,477 96,471 97,466 97,460 98,455 99,450 100,444 101,442 102,439 104,433 106,431 108,428 112,425 114,422 117,420 123,417 123,417 128,414 133,411 134,411 139,409 145,407 147,406 151,404 156,402 160,400 162,399 167,397 171,395 173,394 178,391 182,389 184,388 189,385 192,384 195,382 200,379 202,378 206,376 212,374 214,373 217,372 223,370 228,369 234,368 238,368 239,367 245,367 250,366 256,366 261,365 267,365 273,364 278,364 284,363 289,363 294,362 295,362 300,361 306,359 311,357 312,357 317,354 321,351 322,349 326,346 328,342 329,340 331,335 330,329 328,326 327,324 322,320 320,318 317,316 311,313 311,313 306,310 300,308 299,307 295,306 289,304 285,302 284,301 279,296 281,291 284,289 289,287 292,286 295,284 300,283 306,281 311,280 311,280 317,279 322,277 328,276 334,275Z" fill="#0cf4eb" fill-rule="evenodd"/>
<path d="M375,357 378,356 383,356 385,357 389,357 395,358 400,358 406,360 411,361 416,362 417,362 422,364 428,365 433,367 436,368 439,368 444,370 450,373 451,373 456,375 461,377 463,378 467,380 472,383 473,384 478,386 483,389 484,389 489,392 494,394 497,395 500,396 505,398 511,399 515,400 517,401 522,402 528,404 533,405 538,406 539,406 544,407 550,408 555,408 561,409 566,409 572,410 578,410 583,410 589,411 594,411 596,411 600,412 605,413 611,414 616,415 622,416 626,417 627,417 633,418 639,419 644,421 650,422 650,422 655,423 661,425 666,427 668,428 672,429 677,432 680,433 683,435 688,439 688,439 694,444 694,444 697,450 700,455 700,455 702,460 703,466 704,471 704,477 703,482 703,488 703,493 705,499 705,500 708,504 711,508 713,510 715,515 713,521 711,522 706,526 705,527 700,530 697,532 694,534 689,537 688,537 683,541 681,542 677,545 674,548 672,550 669,553 666,557 664,559 661,563 660,564 655,570 655,570 650,575 650,576 644,581 644,581 639,585 636,586 633,588 627,591 626,592 622,593 616,596 611,597 611,597 605,599 600,600 594,602 590,603 589,603 583,604 578,605 572,606 566,607 561,608 557,608 555,608 550,609 544,610 539,611 533,612 528,613 523,614 522,614 517,615 511,617 505,618 502,619 500,620 494,622 489,624 489,624 483,627 478,629 476,630 472,632 467,634 462,635 461,636 456,637 450,638 444,639 439,640 437,641 433,641 428,642 422,643 417,643 411,643 406,644 400,644 395,644 389,643 383,642 378,641 376,641 372,640 367,637 363,635 361,634 356,630 356,629 351,624 350,624 345,619 344,619 339,616 336,614 334,612 328,609 325,608 322,607 317,604 312,603 311,602 306,601 300,600 295,600 289,600 284,601 278,602 277,603 273,604 267,606 261,608 260,608 256,610 250,611 245,613 242,614 239,614 234,615 228,615 223,615 217,614 216,614 212,612 206,609 204,608 200,606 196,603 195,602 189,597 189,597 184,592 183,592 178,586 178,586 174,581 173,580 169,575 167,572 166,570 162,564 162,564 158,559 156,556 154,553 151,549 150,548 145,544 144,542 139,538 138,537 134,532 133,532 131,526 129,521 128,518 127,515 125,510 123,505 122,504 120,499 118,493 117,490 117,488 116,482 115,477 115,471 116,466 117,461 117,460 119,455 120,450 122,444 123,442 124,439 127,433 128,432 131,428 134,426 138,422 139,421 145,417 146,417 151,414 155,411 156,411 162,408 166,406 167,405 173,402 176,400 178,399 184,396 186,395 189,393 195,390 196,389 200,387 206,385 207,384 212,382 217,380 222,378 223,378 228,377 234,376 239,375 245,374 250,374 256,373 259,373 261,373 267,373 273,372 278,372 284,372 289,371 295,371 300,370 306,370 311,369 317,369 322,368 325,368 328,367 334,366 339,365 345,363 350,362 350,362 356,360 361,359 367,358 372,357Z" fill="#2cffca" fill-rule="evenodd"/>
<path d="M355,373 356,373 361,373 367,372 372,372 378,372 383,372 389,372 395,373 397,373 400,373 406,374 411,375 417,376 422,377 427,378 428,379 433,380 439,382 444,383 447,384 450,385 456,386 461,388 464,389 467,390 472,392 478,394 479,395 483,396 489,398 494,400 496,400 500,401 505,403 511,404 516,406 517,406 522,407 528,408 533,409 539,410 544,411 545,411 550,412 555,413 561,413 566,414 572,414 578,415 583,416 589,416 591,417 594,417 600,418 605,419 611,420 616,422 619,422 622,423 627,424 633,425 639,427 644,428 644,428 650,429 655,431 661,433 662,433 666,435 672,437 675,439 677,440 683,444 683,444 687,450 688,451 690,455 693,460 694,464 695,466 696,471 695,477 695,482 694,485 694,488 693,493 692,499 692,504 692,510 689,515 688,515 683,521 683,521 677,525 676,526 672,529 669,532 666,534 664,537 661,540 659,542 655,547 655,548 651,553 650,555 647,559 644,562 642,564 639,568 637,570 633,573 631,575 627,578 622,581 622,581 616,584 611,586 611,586 605,588 600,590 594,591 593,592 589,593 583,594 578,595 572,596 566,597 566,597 561,598 555,599 550,600 544,601 539,601 533,602 530,603 528,603 522,604 517,604 511,605 505,606 500,607 494,608 491,608 489,608 483,609 478,610 472,611 467,612 461,613 456,614 455,614 450,614 444,615 439,616 433,616 428,617 422,617 417,617 411,618 406,618 400,617 395,617 389,617 383,616 378,615 372,614 372,614 367,612 361,611 356,609 354,608 350,607 345,604 341,603 339,602 334,599 330,597 328,596 322,594 317,592 317,592 311,590 306,589 300,589 295,588 289,588 284,589 278,589 273,590 267,591 263,592 261,592 256,593 250,595 245,596 239,597 236,597 234,597 228,598 225,597 223,597 217,596 212,594 207,592 206,591 200,588 199,586 195,583 192,581 189,578 186,575 184,572 182,570 178,564 178,564 175,559 173,556 171,553 167,548 167,548 162,542 162,542 157,537 156,535 153,532 151,526 151,524 150,521 148,515 147,510 145,504 145,503 144,499 142,493 141,488 140,482 140,477 140,471 141,466 143,460 144,455 145,453 146,450 148,444 150,439 151,437 152,433 156,428 156,428 162,422 162,422 167,418 169,417 173,414 176,411 178,410 184,406 184,406 189,402 192,400 195,399 200,396 201,395 206,393 212,390 213,389 217,388 223,386 228,385 231,384 234,383 239,382 245,382 250,381 256,381 261,380 267,380 273,379 278,379 284,379 289,379 291,378 295,378 300,378 306,378 311,377 317,377 322,376 328,376 334,375 339,375 345,374 350,374Z" fill="#4dffaa" fill-rule="evenodd"/>
<path d="M331,384 334,384 339,383 345,383 350,383 356,383 361,382 367,382 372,382 378,382 383,382 389,383 395,383 400,384 401,384 406,384 411,385 417,386 422,387 428,388 433,389 435,389 439,390 444,391 450,393 456,394 459,395 461,396 467,397 472,399 477,400 478,400 483,402 489,404 494,405 497,406 500,407 505,408 511,409 517,411 520,411 522,412 528,413 533,413 539,414 544,415 550,416 555,417 557,417 561,417 566,418 572,419 578,420 583,421 589,422 589,422 594,423 600,425 605,426 611,427 613,428 616,429 622,430 627,431 633,432 636,433 639,434 644,435 650,437 655,438 656,439 661,440 666,443 669,444 672,446 676,450 677,451 680,455 683,459 684,460 686,466 687,471 687,477 686,482 684,488 683,490 682,493 680,499 677,503 677,504 672,510 672,510 667,515 666,516 661,521 661,521 655,526 655,526 650,532 650,532 646,537 644,540 643,542 640,548 639,550 636,553 633,557 632,559 627,563 626,564 622,568 620,570 616,572 611,575 611,576 605,578 600,580 599,581 594,582 589,584 583,585 579,586 578,587 572,588 566,589 561,590 555,590 550,591 547,592 544,592 539,593 533,594 528,594 522,595 517,596 511,597 506,597 505,597 500,598 494,599 489,599 483,600 478,601 472,602 467,602 461,603 461,603 456,603 450,604 444,604 439,604 433,605 428,605 422,605 417,605 411,605 406,605 400,605 395,605 389,605 383,604 378,604 372,603 372,603 367,601 361,600 356,598 354,597 350,596 345,593 341,592 339,591 334,589 328,587 327,586 322,585 317,583 311,582 306,581 304,581 300,580 295,580 289,580 284,580 278,580 273,580 267,581 265,581 261,581 256,582 250,582 245,583 239,583 234,583 228,583 223,582 219,581 217,580 212,578 206,575 206,575 200,571 200,570 195,565 195,564 190,559 189,557 187,553 184,549 183,548 179,542 178,542 175,537 173,533 172,532 170,526 169,521 169,515 169,510 171,504 173,501 174,499 177,493 178,490 179,488 183,482 184,481 188,477 189,471 186,466 184,463 183,460 181,455 180,450 180,444 179,439 179,433 182,428 184,425 186,422 189,419 191,417 195,413 196,411 200,408 202,406 206,403 210,400 212,399 217,396 221,395 223,394 228,392 234,391 239,390 242,389 245,389 250,388 256,388 261,387 267,387 273,387 278,386 284,386 289,386 295,386 300,385 306,385 311,385 317,385 322,384 328,384Z" fill="#6dff8a" fill-rule="evenodd"/>
<path d="M256,395 261,394 267,394 273,393 278,393 284,393 289,392 295,392 300,392 306,392 311,392 317,392 322,392 328,391 334,391 339,391 345,391 350,391 356,391 361,391 367,391 372,391 378,391 383,391 389,391 395,392 400,392 406,392 411,393 417,394 422,394 425,395 428,395 433,396 439,397 444,398 450,399 455,400 456,400 461,402 467,403 472,405 476,406 478,406 483,408 489,409 494,410 498,411 500,412 505,413 511,414 517,415 522,416 528,417 529,417 533,417 539,418 544,419 550,420 555,421 561,422 563,422 566,423 572,424 578,425 583,427 587,428 589,428 594,430 600,431 605,433 606,433 611,435 616,436 622,437 627,439 627,439 633,440 639,441 644,443 648,444 650,445 655,447 661,449 661,450 666,453 668,455 672,459 673,460 677,466 677,469 678,471 677,476 677,477 675,482 672,488 672,489 669,493 666,497 665,499 661,503 660,504 655,508 654,510 650,513 648,515 644,519 642,521 639,525 638,526 634,532 633,533 631,537 628,542 627,544 626,548 622,553 622,554 617,559 616,560 611,564 610,564 605,568 602,570 600,571 594,573 589,575 589,576 583,577 578,579 572,580 568,581 566,581 561,582 555,583 550,584 544,585 539,585 533,586 532,586 528,587 522,587 517,588 511,589 505,589 500,590 494,591 489,591 485,592 483,592 478,593 472,593 467,594 461,594 456,595 450,595 444,595 439,595 433,596 428,596 422,596 417,596 411,596 406,596 400,596 395,596 389,595 383,595 378,594 372,593 367,592 366,592 361,590 356,589 350,587 348,586 345,585 339,583 334,581 332,581 328,580 322,578 317,577 311,575 310,575 306,575 300,574 295,574 289,573 284,573 278,573 273,573 267,573 261,573 256,573 250,573 245,572 239,572 234,571 228,570 226,570 223,569 217,566 214,564 212,562 208,559 206,557 203,553 200,550 199,548 195,543 195,542 191,537 189,532 189,532 188,526 188,521 189,516 189,515 193,510 195,508 200,505 203,504 206,503 212,501 217,500 223,499 228,499 228,499 234,498 239,498 245,498 250,498 256,497 261,497 267,497 273,497 278,496 284,496 289,495 295,494 299,493 300,493 306,491 311,488 312,488 314,482 311,479 309,477 306,475 300,473 297,471 295,471 289,469 284,468 278,466 277,466 273,465 267,464 261,463 256,462 250,461 248,460 245,460 239,458 234,457 229,455 228,454 223,452 220,450 217,448 213,444 212,443 208,439 206,434 206,433 206,430 206,428 209,422 212,418 213,417 217,411 217,411 223,406 223,406 228,403 233,400 234,400 239,398 245,397 250,396 256,395Z" fill="#8aff6d" fill-rule="evenodd"/>
<path d="M274,400 278,400 284,399 289,399 295,399 300,399 306,398 311,398 317,398 322,398 328,398 334,398 339,398 345,398 350,398 356,398 361,398 367,398 372,398 378,398 383,398 389,398 395,399 400,399 406,399 411,400 416,400 417,400 422,401 428,402 433,403 439,403 444,404 450,405 452,406 456,407 461,408 467,409 472,410 476,411 478,412 483,413 489,414 494,415 500,416 503,417 505,417 511,418 517,419 522,420 528,421 533,421 539,422 539,422 544,423 550,424 555,425 561,426 566,428 566,428 572,429 578,431 583,433 584,433 589,435 594,437 599,439 600,439 605,441 611,443 616,444 616,444 622,446 627,447 633,449 637,450 639,450 644,452 650,455 651,455 655,458 659,460 661,462 664,466 666,471 665,477 662,482 661,484 657,488 655,490 652,493 650,495 646,499 644,500 640,504 639,505 634,510 633,510 628,515 627,516 624,521 622,524 621,526 618,532 616,535 616,537 614,542 611,548 611,549 608,553 605,556 602,559 600,560 594,564 593,564 589,566 583,569 580,570 578,571 572,572 566,574 561,575 559,575 555,576 550,577 544,578 539,579 533,579 528,580 523,581 522,581 517,581 511,582 505,583 500,583 494,584 489,584 483,585 478,585 472,586 467,586 466,586 461,587 456,587 450,587 444,588 439,588 433,588 428,588 422,588 417,588 411,588 406,588 400,588 395,588 389,587 383,587 378,586 378,586 372,585 367,584 361,583 356,582 353,581 350,580 345,578 339,577 335,575 334,575 328,574 322,572 317,571 311,570 310,570 306,569 300,568 295,568 289,567 284,567 278,566 273,566 267,566 261,565 256,565 253,564 250,564 245,563 239,562 234,560 230,559 228,558 223,555 221,553 217,550 216,548 212,543 211,542 208,537 207,532 207,526 209,521 212,518 215,515 217,514 223,512 228,510 231,510 234,509 239,509 245,508 250,508 256,507 261,507 267,507 273,506 278,506 284,505 289,505 291,504 295,504 300,502 306,501 311,499 312,499 317,496 322,494 323,493 328,489 329,488 329,482 328,481 325,477 322,475 318,471 317,471 311,468 307,466 306,465 300,463 295,461 292,460 289,460 284,458 278,457 273,455 271,455 267,454 261,453 256,451 252,450 250,449 245,447 240,444 239,444 234,440 233,439 229,433 228,428 228,428 228,428 230,422 233,417 234,416 239,411 239,411 245,408 249,406 250,405 256,404 261,402 267,401 273,400Z" fill="#aaff4d" fill-rule="evenodd"/>
<path d="M286,406 289,406 295,405 300,405 306,404 311,404 317,404 322,404 328,404 334,404 339,404 345,404 350,404 356,404 361,404 367,404 372,404 378,404 383,404 389,404 395,405 400,405 406,405 410,406 411,406 417,407 422,407 428,408 433,409 439,409 444,410 450,411 450,411 456,412 461,413 467,414 472,416 478,417 478,417 483,418 489,419 494,420 500,420 505,421 511,422 512,422 517,423 522,424 528,424 533,425 539,426 544,427 546,428 550,429 555,430 561,432 566,433 566,433 572,435 578,438 580,439 583,440 589,443 591,444 594,445 600,448 605,450 605,450 611,451 616,453 622,455 622,455 627,457 633,460 635,460 639,463 643,466 644,468 646,471 644,476 644,477 639,482 638,482 633,487 631,488 627,491 625,493 622,497 620,499 616,503 615,504 611,510 611,510 607,515 605,519 604,521 602,526 600,532 600,534 599,537 598,542 595,548 594,550 591,553 589,555 583,559 583,559 578,561 572,564 571,564 566,566 561,567 555,569 551,570 550,570 544,571 539,572 533,573 528,574 522,574 517,575 515,575 511,576 505,576 500,577 494,577 489,578 483,578 478,579 472,579 467,580 461,580 456,580 450,581 449,581 444,581 439,581 433,581 428,581 422,582 417,582 411,582 406,581 400,581 395,581 390,581 389,581 383,580 378,580 372,579 367,578 361,577 356,575 356,575 350,574 345,572 339,571 335,570 334,569 328,568 322,567 317,566 311,565 309,564 306,564 300,563 295,562 289,561 284,561 278,560 273,559 269,559 267,559 261,558 256,557 250,555 245,554 244,553 239,551 234,548 234,548 229,542 228,542 226,537 226,532 228,528 230,526 234,523 239,521 239,521 245,519 250,518 256,517 261,516 267,516 270,515 273,515 278,514 284,514 289,513 295,512 300,511 306,510 306,510 311,508 317,506 320,504 322,503 328,500 330,499 334,497 339,493 339,493 343,488 342,482 339,478 338,477 334,473 331,471 328,469 324,466 322,465 317,462 314,460 311,459 306,457 300,455 300,455 295,454 289,452 284,451 280,450 278,449 273,447 267,446 263,444 261,443 256,440 253,439 250,435 248,433 247,428 248,422 250,419 252,417 256,414 261,411 261,411 267,409 273,408 278,407 284,406Z" fill="#caff2c" fill-rule="evenodd"/>
<path d="M291,411 295,411 300,410 306,410 311,410 317,409 322,409 328,409 334,409 339,409 345,409 350,409 356,409 361,409 367,409 372,409 378,409 383,410 389,410 395,410 400,411 406,411 408,411 411,412 417,412 422,413 428,414 433,414 439,415 444,416 448,417 450,417 456,418 461,419 467,420 472,421 478,422 482,422 483,422 489,423 494,424 500,425 505,425 511,426 517,427 522,428 522,428 528,429 533,430 539,431 544,432 549,433 550,434 555,435 561,437 564,439 566,440 572,443 574,444 578,446 583,449 584,450 589,452 594,455 594,455 600,459 602,460 605,464 608,466 610,471 606,477 605,477 600,482 599,482 594,488 594,488 589,493 589,494 584,499 583,500 578,504 578,505 574,510 574,515 575,521 577,526 578,529 578,532 578,537 578,542 578,542 575,548 572,551 569,553 566,555 561,558 558,559 555,560 550,562 544,563 541,564 539,565 533,566 528,567 522,568 517,569 511,569 507,570 505,570 500,571 494,571 489,572 483,572 478,573 472,573 467,573 461,574 456,574 450,574 444,575 439,575 433,575 428,575 422,575 417,575 411,575 406,575 400,575 395,575 389,574 383,574 378,573 372,573 367,572 361,571 358,570 356,569 350,568 345,567 339,565 335,564 334,564 328,563 322,562 317,560 311,559 309,559 306,558 300,558 295,557 289,556 284,555 278,554 273,553 273,553 267,552 261,550 256,548 255,548 250,545 248,542 245,537 247,532 250,530 256,527 260,526 261,526 267,524 273,523 278,522 284,521 287,521 289,520 295,519 300,518 306,517 311,516 314,515 317,514 322,512 328,510 329,510 334,507 338,504 339,504 345,500 347,499 350,496 354,493 356,491 358,488 356,484 355,482 350,477 350,477 345,472 344,471 339,468 337,466 334,464 329,460 328,460 322,457 319,455 317,454 311,452 306,450 304,450 300,448 295,447 289,445 285,444 284,443 278,441 273,439 273,438 267,433 267,433 265,428 266,422 267,422 272,417 273,416 278,414 284,413 289,412Z" fill="#ebff0c" fill-rule="evenodd"/>
<path d="M302,417 306,416 311,416 317,415 322,415 328,415 334,415 339,415 345,415 350,415 356,415 361,415 367,415 372,415 378,415 383,415 389,416 395,416 400,417 402,417 406,417 411,418 417,419 422,419 428,420 433,421 439,422 443,422 444,422 450,423 456,424 461,425 467,425 472,426 478,427 483,427 486,428 489,428 494,429 500,429 505,430 511,431 517,431 522,432 527,433 528,433 533,434 539,436 544,438 547,439 550,440 555,442 559,444 561,446 566,449 567,450 572,453 574,455 578,459 579,460 581,466 580,471 578,475 576,477 572,480 569,482 566,484 561,487 559,488 555,490 550,492 547,493 544,494 539,496 533,497 528,498 524,499 522,499 517,500 511,501 505,503 501,504 503,510 505,511 511,513 515,515 517,516 522,518 528,520 528,521 533,523 539,526 539,526 544,530 547,532 550,536 551,537 551,542 550,544 547,548 544,550 539,553 539,553 533,556 528,558 524,559 522,559 517,561 511,562 505,563 500,564 496,564 494,565 489,565 483,566 478,566 472,567 467,567 461,567 456,568 450,568 444,568 439,568 433,568 428,569 422,569 417,569 411,569 406,568 400,568 395,568 389,568 383,567 378,567 372,566 367,565 361,564 361,564 356,563 350,562 345,561 339,560 336,559 334,558 328,557 322,556 317,555 311,554 307,553 306,553 300,552 295,551 289,550 284,549 279,548 278,548 273,545 269,542 267,539 266,537 267,536 272,532 273,532 278,530 284,529 289,528 295,527 297,526 300,526 306,524 311,523 317,522 322,521 322,521 328,519 334,517 337,515 339,514 345,511 348,510 350,508 356,505 357,504 361,502 367,499 368,499 372,496 377,493 378,489 378,488 378,488 372,483 372,482 367,479 365,477 361,474 358,471 356,470 350,466 350,466 345,462 343,460 339,458 335,455 334,454 328,451 325,450 322,448 317,446 311,445 310,444 306,442 300,440 296,439 295,437 289,434 289,433 286,428 288,422 289,422 295,419 300,417Z" fill="#ffde00" fill-rule="evenodd"/>
<path d="M325,428 328,427 334,425 339,424 345,424 350,423 356,423 361,423 367,423 372,423 378,424 383,424 389,425 395,425 400,426 406,426 411,427 417,428 417,428 422,428 428,429 433,430 439,430 444,431 450,431 456,431 461,432 467,432 472,432 478,433 482,433 483,433 489,434 494,434 500,435 505,435 511,436 517,437 522,438 526,439 528,439 533,441 539,443 542,444 544,446 550,450 550,450 555,455 555,455 559,460 559,466 557,471 555,473 551,477 550,477 544,480 539,482 536,482 533,483 528,484 522,485 517,486 511,486 505,487 500,487 494,487 489,487 483,487 478,487 472,487 467,487 461,487 456,487 450,487 444,487 439,487 433,486 428,486 422,485 417,485 411,484 406,482 406,482 400,481 395,479 389,477 388,477 383,475 378,472 377,471 372,469 367,466 367,466 361,462 359,460 356,458 353,455 350,452 347,450 345,448 339,445 338,444 334,441 329,439 328,437 324,433ZM379,510 383,509 389,508 395,507 400,507 406,507 411,507 417,508 422,508 428,509 433,510 434,510 439,510 444,511 450,512 456,513 461,514 464,515 467,516 472,517 478,519 483,520 484,521 489,522 494,525 498,526 500,527 505,530 509,532 511,533 516,537 517,539 517,542 517,543 511,548 511,548 505,551 500,553 500,553 494,555 489,556 483,558 478,559 476,559 472,559 467,560 461,560 456,561 450,561 444,561 439,561 433,562 428,562 422,562 417,562 411,562 406,562 400,562 395,561 389,561 383,561 378,560 372,559 369,559 367,559 361,557 356,556 350,555 345,554 340,553 339,553 334,552 328,551 322,550 317,549 312,548 311,548 306,546 300,544 296,542 295,540 294,537 295,536 300,534 306,532 307,532 311,531 317,530 322,529 328,528 334,526 334,526 339,525 345,523 350,521 350,521 356,518 361,516 363,515 367,514 372,512 378,510Z" fill="#ffb900" fill-rule="evenodd"/>
<path d="M409,444 411,444 417,444 422,444 428,443 433,443 439,443 444,443 450,443 456,443 461,442 467,442 472,442 478,442 483,442 489,442 494,443 500,443 505,444 510,444 511,444 517,446 522,448 526,450 528,451 532,455 533,458 534,460 533,466 533,466 528,470 526,471 522,473 517,474 511,474 505,475 500,475 494,475 489,475 483,475 478,474 472,474 467,474 461,473 456,473 450,473 444,472 439,472 434,471 433,471 428,471 422,470 417,469 411,468 406,466 404,466 400,465 395,463 389,461 388,460 383,457 381,455 383,450 383,449 389,447 395,446 400,445 406,444ZM398,526 400,526 406,525 411,525 417,525 422,525 428,525 433,525 439,526 442,526 444,526 450,527 456,528 461,530 467,531 467,532 472,534 477,537 478,541 478,542 478,543 472,546 468,548 467,548 461,550 456,550 450,551 444,552 439,552 433,552 428,553 422,553 417,553 411,552 406,552 400,552 395,551 389,551 383,550 378,549 372,549 368,548 367,548 361,546 356,544 350,543 348,542 348,537 350,536 356,535 361,534 367,532 368,532 372,531 378,530 383,528 389,527 395,527Z" fill="#ff9400" fill-rule="evenodd"/>
<use href="#coast"/>
</g>
<rect x="78.4" y="132.5" width="1331.10" height="656.00" fill="none" stroke="#000" stroke-width="3.33"/>
<text x="743.95" y="106.6" font-size="50" text-anchor="middle" xml:space="preserve">Ionosphere  (h=450.0 km), 2004-02-09 20:00 UT</text>
</g>
<g transform="translate(0,1970)">
<g clip-path="url(#cp0)">
<rect x="76.4" y="130.5" width="1335.10" height="660.00" fill="#0000c8"/>
<path d="M1054,225 1055,225 1060,225 1066,225 1071,225 1077,225 1082,224 1088,224 1093,224 1099,224 1104,224 1110,224 1116,224 1121,224 1127,224 1132,224 1138,224 1143,224 1149,224 1154,224 1160,225 1165,225 1171,225 1177,225 1182,225 1188,225 1193,225 1199,225 1204,225 1206,225 1210,226 1215,226 1221,227 1226,228 1232,229 1238,230 1243,230 1249,231 1254,231 1256,231 1260,231 1265,231 1271,232 1276,232 1282,232 1287,232 1293,233 1299,233 1304,234 1310,234 1315,235 1321,235 1326,236 1331,236 1332,236 1337,237 1343,238 1348,238 1354,239 1360,240 1365,241 1371,242 1372,242 1376,243 1382,243 1387,244 1393,245 1398,246 1404,247 1407,247 1410,248 1410,253 1410,258 1410,264 1410,269 1410,275 1410,280 1410,286 1410,291 1410,296 1410,302 1410,307 1410,313 1410,318 1410,324 1410,329 1410,335 1410,340 1410,346 1410,351 1410,357 1410,362 1410,368 1410,373 1410,378 1410,384 1410,389 1410,395 1410,400 1410,406 1410,411 1410,417 1410,422 1410,428 1410,433 1410,439 1410,444 1410,450 1410,455 1410,460 1410,466 1410,471 1410,477 1410,482 1410,488 1410,493 1410,499 1410,504 1410,510 1410,515 1410,521 1410,526 1410,532 1410,537 1410,542 1410,548 1410,553 1410,559 1410,564 1410,570 1410,575 1410,581 1410,582 1404,582 1398,582 1393,583 1387,583 1382,583 1376,583 1371,583 1365,584 1360,584 1354,584 1348,584 1343,584 1337,585 1332,585 1326,585 1321,585 1315,586 1310,586 1304,586 1300,586 1299,586 1293,587 1287,587 1282,587 1276,587 1271,587 1265,587 1260,588 1254,588 1249,588 1243,588 1238,588 1232,587 1226,587 1221,587 1215,587 1210,587 1204,587 1199,587 1193,587 1188,587 1182,587 1177,587 1171,587 1165,587 1160,587 1154,587 1149,587 1143,587 1138,587 1132,587 1127,587 1121,588 1116,588 1110,588 1104,588 1099,588 1093,588 1088,589 1082,589 1077,589 1071,590 1066,590 1060,591 1055,591 1049,592 1048,592 1043,592 1038,593 1032,594 1027,594 1021,595 1016,596 1010,597 1009,597 1005,598 999,599 994,600 988,601 982,602 977,602 976,603 971,603 966,605 960,606 955,607 949,608 947,608 944,609 938,610 933,611 927,612 921,613 920,614 916,614 910,616 905,617 899,618 894,619 893,619 888,620 883,621 877,622 872,623 866,624 866,625 860,626 855,627 849,628 844,629 840,630 838,630 833,632 827,633 822,634 816,635 813,635 811,636 805,637 799,638 794,639 788,640 785,641 783,641 777,642 772,643 766,645 761,646 757,646 755,647 749,648 744,649 738,650 733,651 727,652 727,652 722,653 716,653 711,654 705,655 700,656 694,657 693,657 688,658 683,659 677,660 672,661 666,663 666,663 661,664 655,665 650,667 644,668 643,668 639,669 633,671 627,672 622,674 622,674 616,676 611,677 606,679 605,679 600,681 594,683 590,685 589,685 583,687 578,688 572,690 571,690 566,692 561,694 555,696 555,696 550,699 547,701 545,706 550,711 551,712 555,714 561,716 564,717 566,718 572,720 578,721 583,722 589,723 589,723 594,723 600,723 605,723 611,723 616,723 622,723 627,723 629,723 633,723 639,723 644,722 650,722 655,722 661,722 666,721 672,721 677,721 683,721 688,721 694,721 700,720 705,720 711,720 716,720 722,720 727,719 733,719 738,719 744,719 749,718 755,718 759,717 761,717 766,717 772,716 777,715 783,714 788,714 794,713 799,712 801,712 805,711 811,711 816,710 822,709 827,708 833,708 838,707 843,706 844,706 849,706 855,705 860,704 866,703 872,703 877,702 883,702 887,701 888,701 894,700 899,699 905,699 910,698 916,697 921,697 927,696 931,696 933,695 938,695 944,694 949,693 955,693 960,692 966,691 971,691 975,690 977,690 982,689 988,688 994,687 999,686 1005,685 1010,685 1012,685 1016,684 1021,684 1027,683 1032,683 1038,683 1043,683 1049,683 1055,683 1060,683 1066,684 1071,684 1073,685 1077,685 1082,685 1088,686 1093,687 1099,687 1104,688 1110,689 1116,690 1119,690 1121,690 1127,691 1132,691 1138,692 1143,692 1149,693 1154,694 1160,694 1165,695 1170,696 1171,696 1177,696 1182,697 1188,697 1193,697 1199,698 1204,698 1210,699 1215,699 1221,700 1226,701 1228,701 1232,701 1238,702 1243,703 1249,703 1254,704 1260,705 1265,706 1270,706 1271,707 1276,707 1282,708 1287,708 1293,709 1299,709 1304,710 1310,711 1315,711 1321,712 1321,712 1326,712 1332,713 1337,714 1343,714 1348,715 1354,715 1360,716 1365,717 1369,717 1371,718 1376,718 1382,719 1387,719 1393,720 1398,720 1404,721 1410,721 1410,723 1410,728 1410,734 1410,739 1410,745 1410,750 1410,756 1410,761 1410,767 1410,772 1410,778 1410,783 1410,788 1404,788 1398,788 1393,788 1387,788 1382,788 1376,788 1371,788 1365,788 1360,788 1354,788 1348,788 1343,788 1337,788 1332,788 1326,788 1321,788 1315,788 1310,788 1304,788 1299,788 1293,788 1287,788 1282,788 1276,788 1271,788 1265,788 1260,788 1254,788 1249,788 1243,788 1238,788 1232,788 1226,788 1221,788 1215,788 1210,788 1204,788 1199,788 1193,788 1188,788 1182,788 1177,788 1171,788 1165,788 1160,788 1154,788 1149,788 1143,788 1138,788 1132,788 1127,788 1121,788 1116,788 1110,788 1104,788 1099,788 1093,788 1088,788 1082,788 1077,788 1071,788 1066,788 1060,788 1055,788 1049,788 1043,788 1038,788 1032,788 1027,788 1021,788 1016,788 1010,788 1005,788 999,788 994,788 988,788 982,788 977,788 971,788 966,788 960,788 955,788 949,788 944,788 938,788 933,788 927,788 921,788 916,788 910,788 905,788 899,788 894,788 888,788 883,788 877,788 872,788 866,788 860,788 855,788 849,788 844,788 838,788 833,788 827,788 822,788 816,788 811,788 805,788 799,788 794,788 788,788 783,788 777,788 772,788 766,788 761,788 755,788 749,788 744,788 738,788 733,788 727,788 722,788 716,788 711,788 705,788 700,788 694,788 688,788 683,788 677,788 672,788 666,788 661,788 655,788 650,788 644,788 639,788 633,788 627,788 622,788 616,788 611,788 605,788 600,788 594,788 589,788 583,788 578,788 572,788 566,788 561,788 555,788 550,788 544,788 539,788 533,788 528,788 522,788 517,788 511,788 505,788 500,788 494,788 489,788 483,788 478,788 472,788 467,788 461,788 456,788 450,788 444,788 439,788 433,788 428,788 422,788 417,788 411,788 406,788 400,788 395,788 389,788 383,788 378,788 372,788 367,788 361,788 356,788 350,788 345,788 339,788 334,788 328,788 322,788 317,788 311,788 306,788 300,788 295,788 289,788 284,788 278,788 273,788 267,788 261,788 256,788 250,788 245,788 239,788 234,788 228,788 223,788 217,788 212,788 206,788 200,788 195,788 189,788 184,788 178,788 173,788 167,788 162,788 156,788 151,788 145,788 139,788 134,788 128,788 123,788 117,788 112,788 106,788 101,788 95,788 89,788 84,788 78,788 78,783 78,778 78,772 78,767 78,761 78,756 78,750 78,745 78,739 78,735 84,735 89,735 95,735 101,734 106,734 112,734 117,734 123,734 123,734 128,734 134,733 139,733 145,733 151,733 156,732 162,732 167,732 173,731 178,731 184,731 189,731 195,730 200,730 206,730 212,730 217,729 223,729 228,729 234,729 239,729 245,728 248,728 250,728 256,728 261,728 267,727 273,727 278,727 284,727 289,727 295,726 300,726 306,725 311,724 315,723 317,722 322,720 327,717 328,717 334,712 334,712 334,711 333,706 328,703 325,701 322,700 317,697 315,696 311,694 306,691 304,690 300,688 295,685 293,685 289,683 284,681 278,679 278,679 273,677 267,676 262,674 261,673 256,671 250,669 249,668 245,666 239,664 236,663 234,662 228,660 223,658 220,657 217,656 212,655 206,653 200,652 200,652 195,650 189,649 184,647 183,646 178,645 173,643 167,641 167,641 162,639 156,637 151,636 150,635 145,634 139,632 134,631 132,630 128,629 123,627 117,626 113,624 112,624 106,623 101,621 95,620 93,619 89,618 84,617 78,616 78,614 78,608 78,603 78,597 78,592 78,586 78,581 78,575 78,570 78,564 78,559 78,553 78,548 78,542 78,537 78,532 78,526 78,521 78,515 78,510 78,504 78,499 78,493 78,488 78,482 78,477 78,471 78,466 78,460 78,455 78,450 78,444 78,439 78,433 78,428 78,422 78,417 78,411 78,406 78,400 78,395 78,389 78,384 78,378 78,373 78,368 78,362 78,357 78,351 78,346 78,340 78,335 78,329 78,324 78,318 78,313 78,307 78,302 78,296 78,291 78,286 78,280 78,276 84,278 89,280 89,280 95,283 100,286 101,286 106,288 112,291 112,291 117,294 123,296 124,296 128,298 134,300 139,302 139,302 145,303 151,304 156,305 162,305 167,306 173,306 178,306 184,306 189,307 195,307 200,307 206,307 212,307 217,307 221,307 223,307 228,308 234,308 239,308 245,309 250,309 256,309 261,310 267,310 273,311 278,311 284,312 289,313 293,313 295,313 300,314 306,314 311,315 317,315 322,316 328,316 334,317 339,318 345,318 346,318 350,319 356,319 361,319 367,320 372,320 378,320 383,320 389,320 395,320 400,320 406,320 411,320 417,320 422,320 428,320 433,320 439,320 444,320 450,319 456,319 461,319 463,318 467,318 472,317 478,316 483,315 489,314 493,313 494,313 500,311 505,310 511,309 517,308 521,307 522,307 528,306 533,304 539,303 544,302 546,302 550,301 555,300 561,299 566,298 572,298 578,297 581,296 583,296 589,295 594,294 600,294 605,293 611,292 616,292 622,291 625,291 627,291 633,290 639,290 644,289 650,288 655,288 661,287 666,287 672,286 676,286 677,285 683,284 688,283 694,282 700,281 705,280 706,280 711,279 716,278 722,277 727,275 731,275 733,274 738,273 744,271 749,269 750,269 755,267 761,266 766,264 767,264 772,262 777,261 783,259 788,258 788,258 794,257 799,255 805,254 811,253 813,253 816,252 822,251 827,250 833,249 838,248 841,247 844,247 849,246 855,245 860,244 866,243 872,242 873,242 877,241 883,240 888,239 894,238 899,238 905,237 910,236 911,236 916,236 921,235 927,235 933,234 938,233 944,233 949,232 955,232 960,232 966,231 968,231 971,231 977,230 982,230 988,229 994,229 999,228 1005,228 1010,228 1016,227 1021,227 1027,227 1032,226 1038,226 1043,226 1049,226Z" fill="#0040ff" fill-rule="evenodd"/>
<path d="M934,275 938,274 944,274 949,274 955,274 960,273 966,273 971,273 977,273 982,273 988,273 994,273 999,273 1005,272 1010,272 1016,272 1021,272 1027,272 1032,272 1038,272 1043,272 1049,272 1055,272 1060,272 1066,272 1071,272 1077,272 1082,272 1088,272 1093,272 1099,272 1104,272 1110,272 1116,272 1121,272 1127,273 1132,273 1138,273 1143,274 1149,274 1152,275 1154,275 1160,276 1165,276 1171,277 1177,278 1182,279 1188,279 1192,280 1193,280 1199,281 1204,282 1210,283 1215,283 1221,284 1226,285 1232,285 1238,286 1238,286 1243,286 1249,286 1254,287 1260,287 1265,288 1271,289 1276,290 1282,290 1286,291 1287,291 1293,292 1299,292 1304,293 1310,293 1315,294 1321,295 1326,295 1332,296 1337,296 1337,297 1343,297 1348,298 1354,298 1360,299 1365,299 1371,299 1376,300 1382,300 1387,301 1393,301 1398,302 1403,302 1404,302 1410,302 1410,307 1410,313 1410,318 1410,324 1410,329 1410,335 1410,340 1410,346 1410,351 1410,357 1410,362 1410,368 1410,373 1410,378 1410,384 1410,389 1410,395 1410,400 1410,406 1410,411 1410,417 1410,422 1410,428 1410,433 1410,439 1410,444 1410,450 1410,455 1410,460 1410,466 1410,471 1410,477 1410,482 1410,488 1410,493 1410,499 1410,504 1410,510 1410,515 1410,521 1410,526 1410,532 1410,537 1410,542 1404,542 1398,541 1393,540 1387,540 1382,539 1376,539 1371,538 1365,538 1360,538 1354,538 1348,538 1343,538 1337,538 1332,538 1326,539 1321,540 1315,541 1310,542 1309,542 1304,544 1299,545 1293,546 1287,548 1286,548 1282,549 1276,550 1271,551 1265,552 1260,552 1254,552 1249,552 1243,552 1238,552 1232,553 1227,553 1226,554 1221,554 1215,555 1210,555 1204,556 1199,556 1193,557 1188,557 1182,557 1177,557 1171,557 1165,558 1160,558 1154,558 1149,558 1143,558 1138,558 1132,558 1127,558 1121,558 1116,558 1110,558 1104,559 1099,559 1093,559 1091,559 1088,559 1082,559 1077,559 1071,559 1066,560 1060,560 1055,560 1049,560 1043,561 1038,561 1032,562 1027,563 1021,564 1018,564 1016,565 1010,566 1005,567 999,568 994,569 989,570 988,570 982,571 977,572 971,573 966,574 960,575 958,575 955,576 949,577 944,577 938,578 933,579 927,579 921,580 916,581 915,581 910,581 905,582 899,582 894,583 888,583 883,584 877,584 872,585 866,585 860,586 855,586 853,586 849,587 844,587 838,588 833,588 827,589 822,589 816,589 811,589 805,589 799,589 794,589 788,588 783,588 777,588 772,588 766,588 761,587 755,587 749,587 744,587 738,587 733,588 727,588 722,589 716,590 711,591 707,592 705,592 700,593 694,595 688,596 684,597 683,597 677,599 672,600 666,601 661,603 661,603 655,604 650,606 644,608 644,608 639,610 633,612 628,614 627,614 622,616 616,617 611,619 611,619 605,621 600,622 594,623 589,624 589,625 583,626 578,627 572,628 566,629 564,630 561,631 555,632 550,633 544,635 542,635 539,636 533,638 528,639 523,641 522,641 517,643 511,645 507,646 505,647 500,649 494,651 492,652 489,653 483,656 480,657 478,658 472,660 467,663 466,663 461,664 456,665 450,666 444,666 439,666 433,666 428,666 422,665 417,665 411,664 406,663 402,663 400,662 395,661 389,661 383,659 378,658 375,657 372,657 367,654 364,652 361,649 359,646 356,643 354,641 351,635 350,634 348,630 345,624 345,624 342,619 339,614 339,613 336,608 334,604 333,603 329,597 328,596 324,592 322,590 318,586 317,585 311,581 310,581 306,579 300,576 297,575 295,575 289,573 284,572 278,570 276,570 273,569 267,568 261,567 256,565 251,564 250,564 245,563 239,562 234,561 228,560 224,559 223,559 217,558 212,557 206,556 200,555 195,554 191,553 189,553 184,553 178,552 173,552 167,551 162,551 156,550 151,550 145,550 139,549 134,549 128,549 123,548 117,548 112,548 110,548 106,548 101,548 95,548 89,548 84,548 78,548 78,542 78,537 78,532 78,526 78,521 78,515 78,510 78,504 78,499 78,493 78,488 78,482 78,477 78,471 78,466 78,460 78,455 78,450 78,444 78,439 78,433 78,428 78,422 78,417 78,411 78,406 78,400 78,395 78,389 78,384 78,378 78,373 78,368 78,362 78,357 78,351 78,346 78,340 78,338 84,339 86,340 89,342 95,344 100,346 101,346 106,348 112,350 116,351 117,351 123,353 128,354 134,355 139,356 145,356 150,357 151,357 156,357 160,357 162,357 167,356 173,356 178,356 184,356 189,355 195,355 200,355 206,355 212,355 217,355 223,354 228,354 234,354 239,354 245,354 250,354 256,353 261,353 267,353 273,353 278,353 284,352 289,352 295,352 300,352 306,352 311,351 315,351 317,351 322,351 328,351 334,350 339,350 345,350 350,350 356,350 361,350 367,349 372,349 378,349 383,349 389,349 395,349 400,348 406,348 411,348 417,348 422,348 428,347 433,347 439,347 444,347 450,346 456,346 461,346 462,346 467,345 472,345 478,344 483,344 489,343 494,343 500,342 505,341 511,340 512,340 517,340 522,339 528,338 533,336 539,335 540,335 544,334 550,332 555,331 561,330 564,329 566,329 572,327 578,326 583,325 589,324 593,324 594,324 600,323 605,322 611,321 616,321 622,320 627,319 633,319 639,318 639,318 644,318 650,317 655,317 661,316 666,316 672,315 677,315 683,315 688,314 694,314 700,314 705,313 711,313 711,313 716,313 722,312 727,312 733,311 738,311 744,310 749,309 755,308 756,307 761,306 766,304 772,302 772,302 777,300 783,298 787,296 788,296 794,294 799,292 803,291 805,290 811,289 816,288 822,287 827,286 829,286 833,285 838,284 844,284 849,283 855,282 860,282 866,281 872,280 872,280 877,279 883,279 888,278 894,278 899,277 905,277 910,276 916,276 921,275 927,275 933,275ZM1008,712 1010,712 1016,711 1021,711 1027,711 1032,710 1038,710 1043,710 1049,710 1055,711 1060,711 1066,711 1071,712 1077,712 1077,712 1082,712 1088,713 1093,713 1099,714 1104,714 1110,715 1116,715 1121,716 1127,716 1132,717 1138,717 1138,717 1143,718 1149,719 1154,719 1160,720 1165,720 1171,721 1177,721 1182,722 1188,722 1193,723 1198,723 1199,723 1204,724 1210,724 1215,725 1221,726 1226,727 1232,728 1234,728 1238,729 1243,730 1249,732 1254,733 1260,734 1260,734 1265,735 1271,736 1276,737 1282,738 1287,738 1293,739 1293,739 1299,740 1304,741 1310,743 1315,744 1321,745 1321,745 1326,746 1332,747 1337,748 1343,749 1347,750 1348,751 1354,752 1360,753 1365,754 1371,755 1373,756 1376,756 1382,758 1387,759 1393,760 1398,761 1400,761 1404,762 1410,763 1410,767 1410,772 1410,778 1410,783 1410,788 1404,788 1398,788 1393,788 1387,788 1382,788 1376,788 1371,788 1365,788 1360,788 1354,788 1348,788 1343,788 1337,788 1332,788 1326,788 1321,788 1315,788 1310,788 1304,788 1299,788 1293,788 1287,788 1282,788 1276,788 1271,788 1265,788 1260,788 1254,788 1249,788 1243,788 1238,788 1232,788 1226,788 1221,788 1215,788 1210,788 1204,788 1199,788 1193,788 1188,788 1182,788 1177,788 1171,788 1165,788 1160,788 1154,788 1149,788 1143,788 1138,788 1132,788 1127,788 1121,788 1116,788 1110,788 1104,788 1099,788 1093,788 1088,788 1082,788 1077,788 1071,788 1066,788 1060,788 1055,788 1049,788 1043,788 1038,788 1032,788 1027,788 1021,788 1016,788 1010,788 1005,788 999,788 994,788 988,788 982,788 977,788 971,788 966,788 960,788 955,788 949,788 944,788 938,788 933,788 927,788 921,788 916,788 910,788 905,788 899,788 894,788 888,788 883,788 877,788 872,788 866,788 860,788 855,788 849,788 844,788 838,788 833,788 827,788 822,788 816,788 811,788 805,788 799,788 794,788 788,788 783,788 777,788 772,788 766,788 761,788 755,788 749,788 744,788 738,788 733,788 727,788 722,788 716,788 711,788 705,788 700,788 694,788 688,788 683,788 677,788 672,788 666,788 661,788 655,788 650,788 644,788 639,788 633,788 627,788 622,788 616,788 611,788 605,788 600,788 594,788 589,788 583,788 578,788 572,788 566,788 561,788 555,788 550,788 544,788 539,788 533,788 528,788 522,788 517,788 511,788 505,788 500,788 494,788 489,788 483,788 478,788 472,788 467,788 461,788 456,788 450,788 444,788 439,788 433,788 428,788 422,788 417,788 411,788 406,788 400,788 395,788 389,788 383,788 378,788 372,788 367,788 361,788 356,788 350,788 345,788 339,788 334,788 328,788 322,788 317,788 311,788 306,788 300,788 295,788 289,788 284,788 278,788 273,788 267,788 261,788 256,788 250,788 245,788 239,788 234,788 228,788 223,788 217,788 212,788 206,788 200,788 195,788 189,788 184,788 178,788 173,788 167,788 162,788 156,788 151,788 145,788 139,788 134,788 128,788 123,788 117,788 112,788 106,788 101,788 95,788 89,788 84,788 78,788 78,783 78,778 78,772 78,767 78,765 84,765 89,765 95,765 101,765 106,765 112,765 117,765 123,766 128,766 134,766 139,766 145,766 151,766 156,766 162,766 167,767 169,767 173,767 178,767 184,767 189,767 195,767 200,768 206,768 212,768 217,768 223,768 228,768 234,768 239,768 245,768 250,768 256,768 261,768 267,768 273,768 278,767 284,767 289,767 295,767 300,767 306,767 311,767 317,767 322,767 328,767 334,767 339,767 341,767 345,767 350,767 356,766 361,766 367,766 372,766 378,766 383,766 389,765 395,765 400,765 406,764 411,764 417,764 422,763 428,763 433,763 439,762 444,762 450,762 456,762 461,761 467,761 467,761 472,761 478,761 483,761 489,760 494,760 500,760 505,760 511,759 517,759 522,759 528,759 533,758 539,758 544,758 550,757 555,757 561,757 566,757 572,756 578,756 583,756 584,756 589,755 594,755 600,755 605,755 611,755 616,754 622,754 627,754 633,754 639,754 644,753 650,753 655,753 661,752 666,752 672,752 677,751 683,751 688,750 690,750 694,750 700,749 705,749 711,748 716,748 722,747 727,747 733,746 738,746 744,745 747,745 749,744 755,744 761,743 766,742 772,742 777,741 783,740 787,739 788,739 794,738 799,737 805,736 811,735 816,735 820,734 822,734 827,733 833,732 838,731 844,730 849,729 854,728 855,728 860,727 866,727 872,726 877,725 883,724 888,723 893,723 894,723 899,722 905,722 910,721 916,721 921,720 927,720 933,719 938,719 944,718 949,718 952,717 955,717 960,717 966,716 971,716 977,715 982,715 988,714 994,713 999,713 1005,712Z" fill="#00c0ff" fill-rule="evenodd"/>
<path d="M883,313 888,313 894,312 899,312 905,312 910,312 916,312 921,311 927,311 933,311 938,311 944,311 949,311 955,311 960,311 966,311 971,310 977,310 982,310 988,310 994,310 999,310 1005,310 1010,310 1016,310 1021,310 1027,310 1032,309 1038,310 1043,310 1049,310 1055,310 1060,310 1066,311 1071,312 1077,312 1081,313 1082,313 1088,314 1093,315 1099,317 1104,318 1106,318 1110,320 1116,322 1121,324 1122,324 1127,326 1132,328 1135,329 1138,330 1143,333 1148,335 1149,335 1154,337 1160,340 1161,340 1165,342 1171,345 1172,346 1177,348 1182,351 1182,351 1188,355 1191,357 1193,358 1198,362 1199,363 1203,368 1204,369 1207,373 1210,377 1211,378 1214,384 1215,387 1216,389 1218,395 1220,400 1221,405 1221,406 1222,411 1223,417 1224,422 1224,428 1224,433 1224,439 1224,444 1223,450 1223,455 1222,460 1222,466 1221,471 1221,471 1220,477 1219,482 1218,488 1216,493 1215,496 1215,499 1213,504 1211,510 1210,511 1207,515 1204,519 1203,521 1199,523 1193,525 1188,525 1182,525 1177,525 1171,524 1165,523 1160,522 1154,522 1149,521 1149,521 1143,519 1138,518 1132,517 1127,516 1122,515 1121,515 1116,514 1110,512 1104,511 1099,510 1099,510 1093,508 1088,506 1082,505 1081,504 1077,503 1071,502 1066,500 1060,499 1059,499 1055,498 1049,497 1043,497 1038,497 1032,498 1031,499 1027,500 1021,502 1018,504 1016,506 1010,510 1010,510 1005,515 1004,515 999,519 998,521 994,524 991,526 988,528 983,532 982,532 977,535 973,537 971,538 966,540 960,542 959,542 955,544 949,545 944,547 940,548 938,548 933,550 927,551 921,553 918,553 916,554 910,555 905,556 899,556 894,556 888,556 883,556 877,556 872,556 866,555 860,555 855,555 849,555 844,554 838,554 833,554 827,553 827,553 822,553 816,553 811,552 805,552 799,551 794,551 788,550 783,549 777,549 772,548 772,548 766,547 761,547 755,547 749,546 744,546 738,546 733,546 727,547 722,547 716,547 711,548 708,548 705,548 700,549 694,549 688,550 683,551 677,551 672,552 666,552 661,553 658,553 655,554 650,555 644,556 639,557 633,557 627,558 623,559 622,559 616,560 611,560 605,561 600,561 594,561 589,561 583,561 578,560 572,560 566,559 566,559 561,558 555,558 550,557 544,556 539,556 533,555 528,555 522,554 517,554 511,554 505,554 500,554 494,554 489,553 487,553 483,553 478,553 472,553 467,553 461,553 456,553 450,553 444,553 439,552 433,552 428,552 422,551 417,551 411,550 406,549 400,549 395,548 393,548 389,548 383,547 378,547 372,547 367,547 361,547 356,546 350,546 345,546 339,546 334,546 328,546 322,546 317,546 311,546 306,546 300,546 295,546 289,545 284,545 278,544 273,544 267,543 261,543 257,542 256,542 250,542 245,542 239,541 234,541 228,540 223,540 217,539 212,539 206,539 200,539 195,538 189,538 184,538 178,538 173,538 167,537 162,537 156,537 151,537 150,537 145,537 139,537 134,537 128,537 123,537 117,537 112,537 106,536 101,536 95,536 89,536 84,536 78,536 78,532 78,526 78,521 78,515 78,510 78,504 78,499 78,493 78,488 78,482 78,477 78,471 78,466 78,460 78,455 78,450 78,444 78,439 78,433 78,428 78,422 78,417 78,411 78,406 78,400 78,395 78,389 78,384 78,378 78,376 84,378 86,378 89,380 95,382 101,383 102,384 106,385 112,386 117,387 123,388 128,389 134,389 134,389 139,390 145,390 151,390 156,390 162,390 167,390 169,389 173,389 178,389 184,388 189,388 195,387 200,387 206,387 212,386 217,386 223,385 228,385 234,385 239,384 245,384 245,384 250,384 256,383 261,383 267,382 273,382 278,382 284,381 289,381 295,380 300,380 306,380 311,379 317,379 322,379 325,378 328,378 334,378 339,377 345,377 350,376 356,376 361,375 367,375 372,374 378,374 383,374 389,373 395,373 396,373 400,373 406,373 411,372 417,372 422,372 428,372 433,372 439,371 444,371 450,371 456,370 461,370 467,369 472,369 478,368 483,368 485,368 489,367 494,367 500,366 505,365 511,364 517,363 522,362 523,362 528,361 533,360 539,359 544,357 547,357 550,356 555,354 561,353 566,351 567,351 572,350 578,348 583,347 589,346 589,346 594,345 600,344 605,343 611,342 616,341 622,341 627,340 627,340 633,340 639,339 644,339 650,338 655,338 661,337 666,337 672,336 677,336 683,335 688,335 690,335 694,334 700,334 705,334 711,333 716,333 722,333 727,332 733,332 738,332 744,331 749,331 755,330 761,330 764,329 766,329 772,328 777,328 783,327 788,326 794,324 797,324 799,323 805,322 811,321 816,320 822,319 827,318 828,318 833,318 838,317 844,317 849,316 855,316 860,315 866,315 872,314 877,314 883,313ZM1310,351 1315,350 1321,349 1326,348 1332,348 1337,347 1343,347 1348,347 1354,347 1360,347 1365,348 1371,348 1376,348 1382,348 1387,348 1393,348 1398,349 1404,349 1410,349 1410,351 1410,357 1410,362 1410,368 1410,373 1410,378 1410,384 1410,389 1410,395 1410,400 1410,406 1410,411 1410,417 1410,422 1410,428 1410,433 1410,439 1410,444 1410,450 1410,455 1410,460 1410,466 1410,471 1410,477 1410,482 1410,484 1404,484 1398,484 1393,483 1387,483 1382,483 1376,483 1371,483 1365,483 1360,482 1358,482 1354,482 1348,482 1343,481 1337,480 1332,479 1328,477 1326,476 1321,472 1320,471 1315,466 1315,466 1310,460 1310,460 1306,455 1304,452 1302,450 1299,444 1299,444 1295,439 1293,434 1292,433 1290,428 1288,422 1287,422 1286,417 1285,411 1284,406 1284,400 1285,395 1286,389 1287,384 1287,382 1288,378 1290,373 1293,368 1293,367 1296,362 1299,359 1301,357 1304,354 1310,351ZM989,745 994,744 999,744 1005,743 1010,743 1016,742 1021,742 1027,742 1032,741 1038,741 1043,741 1049,742 1055,742 1060,742 1066,743 1071,744 1077,744 1079,745 1082,745 1088,746 1093,747 1099,748 1104,749 1110,750 1115,750 1116,750 1121,751 1127,752 1132,753 1138,753 1143,754 1149,755 1154,756 1155,756 1160,756 1165,757 1171,758 1177,759 1182,760 1188,761 1191,761 1193,762 1199,763 1204,764 1210,765 1215,767 1215,767 1221,769 1226,771 1231,772 1232,772 1238,774 1243,776 1249,777 1250,778 1254,779 1260,780 1265,781 1271,783 1272,783 1276,784 1282,787 1287,788 1282,788 1276,788 1271,788 1265,788 1260,788 1254,788 1249,788 1243,788 1238,788 1232,788 1226,788 1221,788 1215,788 1210,788 1204,788 1199,788 1193,788 1188,788 1182,788 1177,788 1171,788 1165,788 1160,788 1154,788 1149,788 1143,788 1138,788 1132,788 1127,788 1121,788 1116,788 1110,788 1104,788 1099,788 1093,788 1088,788 1082,788 1077,788 1071,788 1066,788 1060,788 1055,788 1049,788 1043,788 1038,788 1032,788 1027,788 1021,788 1016,788 1010,788 1005,788 999,788 994,788 988,788 982,788 977,788 971,788 966,788 960,788 955,788 949,788 944,788 938,788 933,788 927,788 921,788 916,788 910,788 905,788 899,788 894,788 888,788 883,788 877,788 872,788 866,788 860,788 855,788 849,788 844,788 838,788 833,788 827,788 822,788 816,788 811,788 805,788 799,788 794,788 788,788 783,788 777,788 772,788 766,788 761,788 755,788 749,788 744,788 738,788 733,788 727,788 722,788 716,788 711,788 705,788 700,788 694,788 690,788 694,787 700,785 705,784 707,783 711,782 716,781 722,780 727,779 733,778 734,778 738,777 744,776 749,775 755,774 761,774 766,773 772,772 772,772 777,771 783,771 788,770 794,769 799,768 805,767 808,767 811,766 816,765 822,765 827,764 833,763 838,762 842,761 844,761 849,760 855,759 860,758 866,757 872,757 877,756 878,756 883,755 888,754 894,754 899,753 905,753 910,752 916,751 921,751 927,750 929,750 933,750 938,749 944,749 949,749 955,748 960,748 966,747 971,747 977,746 982,745 988,745Z" fill="#49ffad" fill-rule="evenodd"/>
<path d="M647,362 650,362 655,361 661,360 666,360 672,360 677,359 683,359 688,359 694,359 700,358 705,358 711,358 716,358 722,357 727,357 733,357 738,357 744,357 749,357 755,358 761,359 766,360 772,361 777,362 777,362 783,364 788,365 794,367 795,368 799,369 805,370 811,372 815,373 816,373 822,374 827,376 833,377 838,378 838,378 844,380 849,382 855,383 857,384 860,385 866,387 872,388 875,389 877,390 883,391 888,392 894,393 899,392 905,391 910,390 913,389 916,389 921,387 927,385 929,384 933,383 938,380 943,378 944,378 949,376 955,374 959,373 960,373 966,371 971,369 977,368 979,368 982,367 988,365 994,364 999,363 1003,362 1005,362 1010,361 1016,360 1021,359 1027,359 1032,358 1038,358 1043,359 1049,360 1055,361 1056,362 1060,364 1066,367 1067,368 1071,370 1074,373 1077,375 1080,378 1082,382 1084,384 1086,389 1087,395 1086,400 1082,406 1082,406 1077,410 1075,411 1071,413 1066,416 1063,417 1060,418 1055,420 1049,422 1047,422 1043,423 1038,425 1032,428 1032,428 1027,430 1021,433 1021,433 1016,436 1010,439 1010,439 1005,442 1001,444 999,445 994,448 991,450 988,452 982,455 982,455 977,458 973,460 971,462 966,466 965,466 960,470 959,471 955,475 953,477 949,480 947,482 944,485 940,488 938,489 933,493 931,493 927,495 921,498 918,499 916,500 910,502 905,503 901,504 899,505 894,507 888,508 883,510 883,510 877,511 872,512 866,514 860,515 859,515 855,516 849,518 844,519 838,521 838,521 833,522 827,523 822,524 816,525 811,525 805,526 799,526 797,526 794,526 788,526 783,527 777,527 772,527 766,527 761,527 755,527 749,527 744,527 738,527 733,528 727,528 722,528 716,528 711,528 705,528 700,528 694,529 688,529 683,529 677,529 672,529 666,530 661,530 655,530 650,530 644,531 639,531 633,531 627,531 625,532 622,532 616,532 611,532 605,532 600,533 594,533 589,533 583,533 578,533 572,533 566,533 561,533 555,533 550,533 544,534 539,534 533,534 528,534 522,534 517,533 511,533 505,533 500,533 494,533 489,532 483,532 478,532 475,532 472,531 467,531 461,531 456,530 450,530 444,530 439,529 433,529 428,529 422,528 417,528 411,527 406,527 400,526 398,526 395,526 389,525 383,525 378,525 372,525 367,525 361,525 356,525 350,526 345,526 345,526 339,526 334,527 328,527 322,527 317,527 311,528 306,528 300,528 295,527 289,527 284,526 282,526 278,526 273,525 267,524 261,523 256,523 250,522 245,521 245,521 239,520 234,519 228,518 223,517 217,517 212,516 206,515 205,515 200,515 195,514 189,514 184,513 178,512 173,512 167,511 162,511 156,510 152,510 151,510 145,509 139,509 134,508 128,507 123,507 117,506 112,505 107,504 106,504 101,503 95,502 89,500 85,499 84,498 78,496 78,493 78,488 78,482 78,477 78,471 78,466 78,460 78,455 78,450 78,444 78,439 78,433 78,428 78,422 78,417 78,411 78,411 84,411 89,410 95,410 101,410 106,409 112,409 117,409 123,409 128,409 134,409 139,409 145,409 151,408 156,408 162,408 167,408 173,408 178,407 184,407 189,407 195,407 200,407 206,406 212,406 217,406 223,406 228,406 232,406 234,406 239,406 245,406 250,405 256,405 261,405 267,405 273,405 278,404 284,404 289,404 295,404 300,404 306,404 311,404 317,405 321,406 322,406 328,407 334,409 339,411 340,411 345,413 350,416 352,417 356,418 361,421 367,422 367,422 372,423 378,423 383,423 388,422 389,422 395,421 400,420 406,419 411,418 417,417 419,417 422,416 428,416 433,415 439,414 444,414 450,414 456,413 461,413 467,413 472,413 478,412 483,412 489,412 494,412 500,412 504,411 505,411 511,411 517,410 522,409 528,407 529,406 533,403 537,400 539,399 544,395 544,395 550,391 551,389 555,387 561,384 561,384 566,382 572,379 574,378 578,377 583,376 589,374 594,373 594,373 600,372 605,370 611,369 616,368 618,368 622,367 627,366 633,364 639,363 644,363Z" fill="#b1ff46" fill-rule="evenodd"/>
<path d="M606,400 611,400 616,400 622,399 627,399 633,398 639,398 644,397 650,397 655,397 661,396 666,396 672,396 677,396 683,396 688,396 694,396 700,395 705,395 711,395 716,395 722,395 727,395 733,395 738,396 744,396 749,396 755,396 761,396 766,396 772,397 777,397 783,397 788,398 794,398 799,399 805,399 811,400 815,400 816,400 822,401 827,403 833,405 835,406 838,407 844,410 846,411 849,413 855,416 857,417 860,418 866,420 871,422 872,422 877,425 883,427 884,428 888,430 892,433 894,435 897,439 899,444 899,447 900,450 899,453 899,455 897,460 895,466 894,468 892,471 888,476 887,477 883,479 877,482 876,482 872,484 866,486 860,488 859,488 855,490 849,492 845,493 844,494 838,496 833,497 827,499 826,499 822,500 816,501 811,502 805,502 799,503 794,504 790,504 788,504 783,505 777,506 772,506 766,506 761,507 755,507 749,507 744,507 738,507 733,507 727,507 722,507 716,507 711,507 705,506 700,506 694,506 688,505 683,505 677,505 672,505 666,505 661,505 655,505 650,505 644,505 639,505 633,505 627,505 622,505 616,505 611,505 605,505 600,505 594,505 589,504 588,504 583,504 578,503 572,502 566,500 561,499 561,499 555,497 550,496 544,494 540,493 539,493 533,492 528,491 522,491 517,491 511,492 505,493 505,493 500,494 494,496 489,498 485,499 483,499 478,501 472,502 467,503 461,504 457,504 456,504 450,504 445,504 444,504 439,503 433,502 428,500 424,499 422,498 417,495 413,493 411,492 406,489 404,488 400,484 398,482 395,478 394,477 394,471 395,471 399,466 400,465 406,462 408,460 411,459 417,456 419,455 422,454 428,452 433,450 435,450 439,449 444,448 450,448 456,448 461,449 465,450 467,450 472,451 478,453 483,455 483,455 489,457 494,460 496,460 500,462 505,464 511,466 513,466 517,467 522,467 528,466 528,466 533,464 539,461 539,460 544,455 545,455 549,450 550,449 553,444 555,441 557,439 561,433 561,433 565,428 566,425 569,422 572,418 573,417 578,412 579,411 583,408 587,406 589,405 594,403 600,401 605,400ZM133,428 134,428 139,427 145,426 151,425 156,425 162,425 167,425 173,425 178,425 184,425 189,425 195,425 200,425 206,425 212,425 217,425 223,425 228,425 234,425 239,425 245,426 250,426 256,427 261,428 263,428 267,428 273,429 278,429 284,430 289,431 295,432 300,433 300,433 306,435 311,437 314,439 317,440 322,443 325,444 328,446 334,449 334,450 339,453 342,455 345,457 350,460 350,461 356,466 356,466 360,471 360,477 358,482 356,485 354,488 350,491 348,493 345,496 341,499 339,500 334,503 332,504 328,506 322,508 317,509 315,510 311,510 306,511 300,511 295,511 289,511 284,510 278,510 277,510 273,509 267,509 261,508 256,507 250,506 245,505 239,504 238,504 234,503 228,502 223,500 217,499 214,499 212,498 206,497 200,496 195,495 189,494 186,493 184,493 178,492 173,491 167,491 162,490 156,489 151,488 151,488 145,486 139,484 136,482 134,481 128,478 126,477 123,475 118,471 117,470 113,466 112,465 108,460 106,455 107,450 109,444 112,441 113,439 117,436 121,433 123,432 128,429Z" fill="#ffd000" fill-rule="evenodd"/>
<path d="M741,428 744,427 749,427 755,427 761,427 766,427 772,427 777,426 783,426 788,426 794,426 799,426 805,426 811,427 816,427 819,428 822,428 827,430 833,433 834,433 838,435 844,438 846,439 849,441 853,444 855,447 856,450 857,455 856,460 855,464 853,466 849,469 845,471 844,472 838,474 833,476 831,477 827,479 822,481 818,482 816,483 811,484 805,485 799,485 794,486 788,487 783,487 777,488 776,488 772,488 766,488 761,489 755,489 749,489 744,489 738,488 737,488 733,487 727,485 722,482 722,482 716,478 715,477 711,472 711,471 707,466 706,460 705,455 707,450 710,444 711,443 715,439 716,437 722,434 723,433 727,431 733,429 738,428ZM221,460 223,460 228,459 234,459 239,458 245,458 250,458 256,458 261,458 267,458 273,459 277,460 278,461 284,463 289,466 289,466 295,471 295,472 296,477 295,480 293,482 289,485 284,487 279,488 278,488 273,489 267,489 261,488 258,488 256,487 250,485 245,483 245,482 239,479 236,477 234,475 228,472 227,471 223,469 217,466Z" fill="#ff5900" fill-rule="evenodd"/>
<use href="#coast"/>
</g>
<rect x="78.4" y="132.5" width="1331.10" height="656.00" fill="none" stroke="#000" stroke-width="3.33"/>
<text x="743.95" y="106.6" font-size="50" text-anchor="middle" xml:space="preserve">Plasmasphere (h=1500.0 km), 2004-02-09 20:00 UT</text>
</g>
<rect x="78.40" y="831.40" width="51.80" height="66.00" fill="#000092"/>
<rect x="129.60" y="831.40" width="51.80" height="66.00" fill="#0000bf"/>
<rect x="180.79" y="831.40" width="51.80" height="66.00" fill="#0000ed"/>
<rect x="231.99" y="831.40" width="51.80" height="66.00" fill="#0008ff"/>
<rect x="283.18" y="831.40" width="51.80" height="66.00" fill="#0030ff"/>
<rect x="334.38" y="831.40" width="51.80" height="66.00" fill="#0058ff"/>
<rect x="385.58" y="831.40" width="51.80" height="66.00" fill="#0080ff"/>
<rect x="436.77" y="831.40" width="51.80" height="66.00" fill="#00a4ff"/>
<rect x="487.97" y="831.40" width="51.80" height="66.00" fill="#00ccff"/>
<rect x="539.17" y="831.40" width="51.80" height="66.00" fill="#0cf4eb"/>
<rect x="590.36" y="831.40" width="51.80" height="66.00" fill="#2cffca"/>
<rect x="641.56" y="831.40" width="51.80" height="66.00" fill="#4dffaa"/>
<rect x="692.75" y="831.40" width="51.80" height="66.00" fill="#6dff8a"/>
<rect x="743.95" y="831.40" width="51.80" height="66.00" fill="#8aff6d"/>
<rect x="795.15" y="831.40" width="51.80" height="66.00" fill="#aaff4d"/>
<rect x="846.34" y="831.40" width="51.80" height="66.00" fill="#caff2c"/>
<rect x="897.54" y="831.40" width="51.80" height="66.00" fill="#ebff0c"/>
<rect x="948.73" y="831.40" width="51.80" height="66.00" fill="#ffde00"/>
<rect x="999.93" y="831.40" width="51.80" height="66.00" fill="#ffb900"/>
<rect x="1051.13" y="831.40" width="51.80" height="66.00" fill="#ff9400"/>
<rect x="1102.32" y="831.40" width="51.80" height="66.00" fill="#ff7300"/>
<rect x="1153.52" y="831.40" width="51.80" height="66.00" fill="#ff4e00"/>
<rect x="1204.72" y="831.40" width="51.80" height="66.00" fill="#ff2900"/>
<rect x="1255.91" y="831.40" width="51.80" height="66.00" fill="#ed0400"/>
<rect x="1307.11" y="831.40" width="51.80" height="66.00" fill="#bf0000"/>
<rect x="1358.30" y="831.40" width="51.80" height="66.00" fill="#920000"/>
<rect x="78.40" y="831.40" width="1331.10" height="66.00" fill="none" stroke="#000" stroke-width="3.33"/>
<line x1="78.40" y1="899.00" x2="78.40" y2="912.60" stroke="#000" stroke-width="3.33"/>
<text x="78.40" y="958.80" font-size="41.67" text-anchor="middle">0.0</text>
<line x1="231.99" y1="899.00" x2="231.99" y2="912.60" stroke="#000" stroke-width="3.33"/>
<text x="231.99" y="958.80" font-size="41.67" text-anchor="middle">7.5</text>
<line x1="385.58" y1="899.00" x2="385.58" y2="912.60" stroke="#000" stroke-width="3.33"/>
<text x="385.58" y="958.80" font-size="41.67" text-anchor="middle">15.0</text>
<line x1="539.17" y1="899.00" x2="539.17" y2="912.60" stroke="#000" stroke-width="3.33"/>
<text x="539.17" y="958.80" font-size="41.67" text-anchor="middle">22.5</text>
<line x1="692.75" y1="899.00" x2="692.75" y2="912.60" stroke="#000" stroke-width="3.33"/>
<text x="692.75" y="958.80" font-size="41.67" text-anchor="middle">30.0</text>
<line x1="846.34" y1="899.00" x2="846.34" y2="912.60" stroke="#000" stroke-width="3.33"/>
<text x="846.34" y="958.80" font-size="41.67" text-anchor="middle">37.5</text>
<line x1="999.93" y1="899.00" x2="999.93" y2="912.60" stroke="#000" stroke-width="3.33"/>
<text x="999.93" y="958.80" font-size="41.67" text-anchor="middle">45.0</text>
<line x1="1153.52" y1="899.00" x2="1153.52" y2="912.60" stroke="#000" stroke-width="3.33"/>
<text x="1153.52" y="958.80" font-size="41.67" text-anchor="middle">52.5</text>
<line x1="1307.11" y1="899.00" x2="1307.11" y2="912.60" stroke="#000" stroke-width="3.33"/>
<text x="1307.11" y="958.80" font-size="41.67" text-anchor="middle">60.0</text>
<rect x="78.40" y="1816.40" width="51.80" height="66.00" fill="#000092"/>
<rect x="129.60" y="1816.40" width="51.80" height="66.00" fill="#0000bf"/>
<rect x="180.79" y="1816.40" width="51.80" height="66.00" fill="#0000ed"/>
<rect x="231.99" y="1816.40" width="51.80" height="66.00" fill="#0008ff"/>
<rect x="283.18" y="1816.40" width="51.80" height="66.00" fill="#0030ff"/>
<rect x="334.38" y="1816.40" width="51.80" height="66.00" fill="#0058ff"/>
<rect x="385.58" y="1816.40" width="51.80" height="66.00" fill="#0080ff"/>
<rect x="436.77" y="1816.40" width="51.80" height="66.00" fill="#00a4ff"/>
<rect x="487.97" y="1816.40" width="51.80" height="66.00" fill="#00ccff"/>
<rect x="539.17" y="1816.40" width="51.80" height="66.00" fill="#0cf4eb"/>
<rect x="590.36" y="1816.40" width="51.80" height="66.00" fill="#2cffca"/>
<rect x="641.56" y="1816.40" width="51.80" height="66.00" fill="#4dffaa"/>
<rect x="692.75" y="1816.40" width="51.80" height="66.00" fill="#6dff8a"/>
<rect x="743.95" y="1816.40" width="51.80" height="66.00" fill="#8aff6d"/>
<rect x="795.15" y="1816.40" width="51.80" height="66.00" fill="#aaff4d"/>
<rect x="846.34" y="1816.40" width="51.80" height="66.00" fill="#caff2c"/>
<rect x="897.54" y="1816.40" width="51.80" height="66.00" fill="#ebff0c"/>
<rect x="948.73" y="1816.40" width="51.80" height="66.00" fill="#ffde00"/>
<rect x="999.93" y="1816.40" width="51.80" height="66.00" fill="#ffb900"/>
<rect x="1051.13" y="1816.40" width="51.80" height="66.00" fill="#ff9400"/>
<rect x="1102.32" y="1816.40" width="51.80" height="66.00" fill="#ff7300"/>
<rect x="1153.52" y="1816.40" width="51.80" height="66.00" fill="#ff4e00"/>
<rect x="1204.72" y="1816.40" width="51.80" height="66.00" fill="#ff2900"/>
<rect x="1255.91" y="1816.40" width="51.80" height="66.00" fill="#ed0400"/>
<rect x="1307.11" y="1816.40" width="51.80" height="66.00" fill="#bf0000"/>
<rect x="1358.30" y="1816.40" width="51.80" height="66.00" fill="#920000"/>
<rect x="78.40" y="1816.40" width="1331.10" height="66.00" fill="none" stroke="#000" stroke-width="3.33"/>
<line x1="78.40" y1="1884.00" x2="78.40" y2="1897.60" stroke="#000" stroke-width="3.33"/>
<text x="78.40" y="1943.80" font-size="41.67" text-anchor="middle">0.0</text>
<line x1="231.99" y1="1884.00" x2="231.99" y2="1897.60" stroke="#000" stroke-width="3.33"/>
<text x="231.99" y="1943.80" font-size="41.67" text-anchor="middle">7.5</text>
<line x1="385.58" y1="1884.00" x2="385.58" y2="1897.60" stroke="#000" stroke-width="3.33"/>
<text x="385.58" y="1943.80" font-size="41.67" text-anchor="middle">15.0</text>
<line x1="539.17" y1="1884.00" x2="539.17" y2="1897.60" stroke="#000" stroke-width="3.33"/>
<text x="539.17" y="1943.80" font-size="41.67" text-anchor="middle">22.5</text>
<line x1="692.75" y1="1884.00" x2="692.75" y2="1897.60" stroke="#000" stroke-width="3.33"/>
<text x="692.75" y="1943.80" font-size="41.67" text-anchor="middle">30.0</text>
<line x1="846.34" y1="1884.00" x2="846.34" y2="1897.60" stroke="#000" stroke-width="3.33"/>
<text x="846.34" y="1943.80" font-size="41.67" text-anchor="middle">37.5</text>
<line x1="999.93" y1="1884.00" x2="999.93" y2="1897.60" stroke="#000" stroke-width="3.33"/>
<text x="999.93" y="1943.80" font-size="41.67" text-anchor="middle">45.0</text>
<line x1="1153.52" y1="1884.00" x2="1153.52" y2="1897.60" stroke="#000" stroke-width="3.33"/>
<text x="1153.52" y="1943.80" font-size="41.67" text-anchor="middle">52.5</text>
<line x1="1307.11" y1="1884.00" x2="1307.11" y2="1897.60" stroke="#000" stroke-width="3.33"/>
<text x="1307.11" y="1943.80" font-size="41.67" text-anchor="middle">60.0</text>
<rect x="78.40" y="2801.40" width="166.99" height="66.00" fill="#0000c8"/>
<rect x="244.79" y="2801.40" width="166.99" height="66.00" fill="#0040ff"/>
<rect x="411.17" y="2801.40" width="166.99" height="66.00" fill="#00c0ff"/>
<rect x="577.56" y="2801.40" width="166.99" height="66.00" fill="#49ffad"/>
<rect x="743.95" y="2801.40" width="166.99" height="66.00" fill="#b1ff46"/>
<rect x="910.34" y="2801.40" width="166.99" height="66.00" fill="#ffd000"/>
<rect x="1076.72" y="2801.40" width="166.99" height="66.00" fill="#ff5900"/>
<rect x="1243.11" y="2801.40" width="166.99" height="66.00" fill="#c40000"/>
<rect x="78.40" y="2801.40" width="1331.10" height="66.00" fill="none" stroke="#000" stroke-width="3.33"/>
<line x1="78.40" y1="2869.00" x2="78.40" y2="2882.60" stroke="#000" stroke-width="3.33"/>
<text x="78.40" y="2928.80" font-size="41.67" text-anchor="middle">0.0</text>
<line x1="244.79" y1="2869.00" x2="244.79" y2="2882.60" stroke="#000" stroke-width="3.33"/>
<text x="244.79" y="2928.80" font-size="41.67" text-anchor="middle">2.5</text>
<line x1="411.17" y1="2869.00" x2="411.17" y2="2882.60" stroke="#000" stroke-width="3.33"/>
<text x="411.17" y="2928.80" font-size="41.67" text-anchor="middle">5.0</text>
<line x1="577.56" y1="2869.00" x2="577.56" y2="2882.60" stroke="#000" stroke-width="3.33"/>
<text x="577.56" y="2928.80" font-size="41.67" text-anchor="middle">7.5</text>
<line x1="743.95" y1="2869.00" x2="743.95" y2="2882.60" stroke="#000" stroke-width="3.33"/>
<text x="743.95" y="2928.80" font-size="41.67" text-anchor="middle">10.0</text>
<line x1="910.34" y1="2869.00" x2="910.34" y2="2882.60" stroke="#000" stroke-width="3.33"/>
<text x="910.34" y="2928.80" font-size="41.67" text-anchor="middle">12.5</text>
<line x1="1076.72" y1="2869.00" x2="1076.72" y2="2882.60" stroke="#000" stroke-width="3.33"/>
<text x="1076.72" y="2928.80" font-size="41.67" text-anchor="middle">15.0</text>
<line x1="1243.11" y1="2869.00" x2="1243.11" y2="2882.60" stroke="#000" stroke-width="3.33"/>
<text x="1243.11" y="2928.80" font-size="41.67" text-anchor="middle">17.5</text>
<line x1="1409.50" y1="2869.00" x2="1409.50" y2="2882.60" stroke="#000" stroke-width="3.33"/>
<text x="1409.50" y="2928.80" font-size="41.67" text-anchor="middle">20.0</text>
</svg></body></html>
